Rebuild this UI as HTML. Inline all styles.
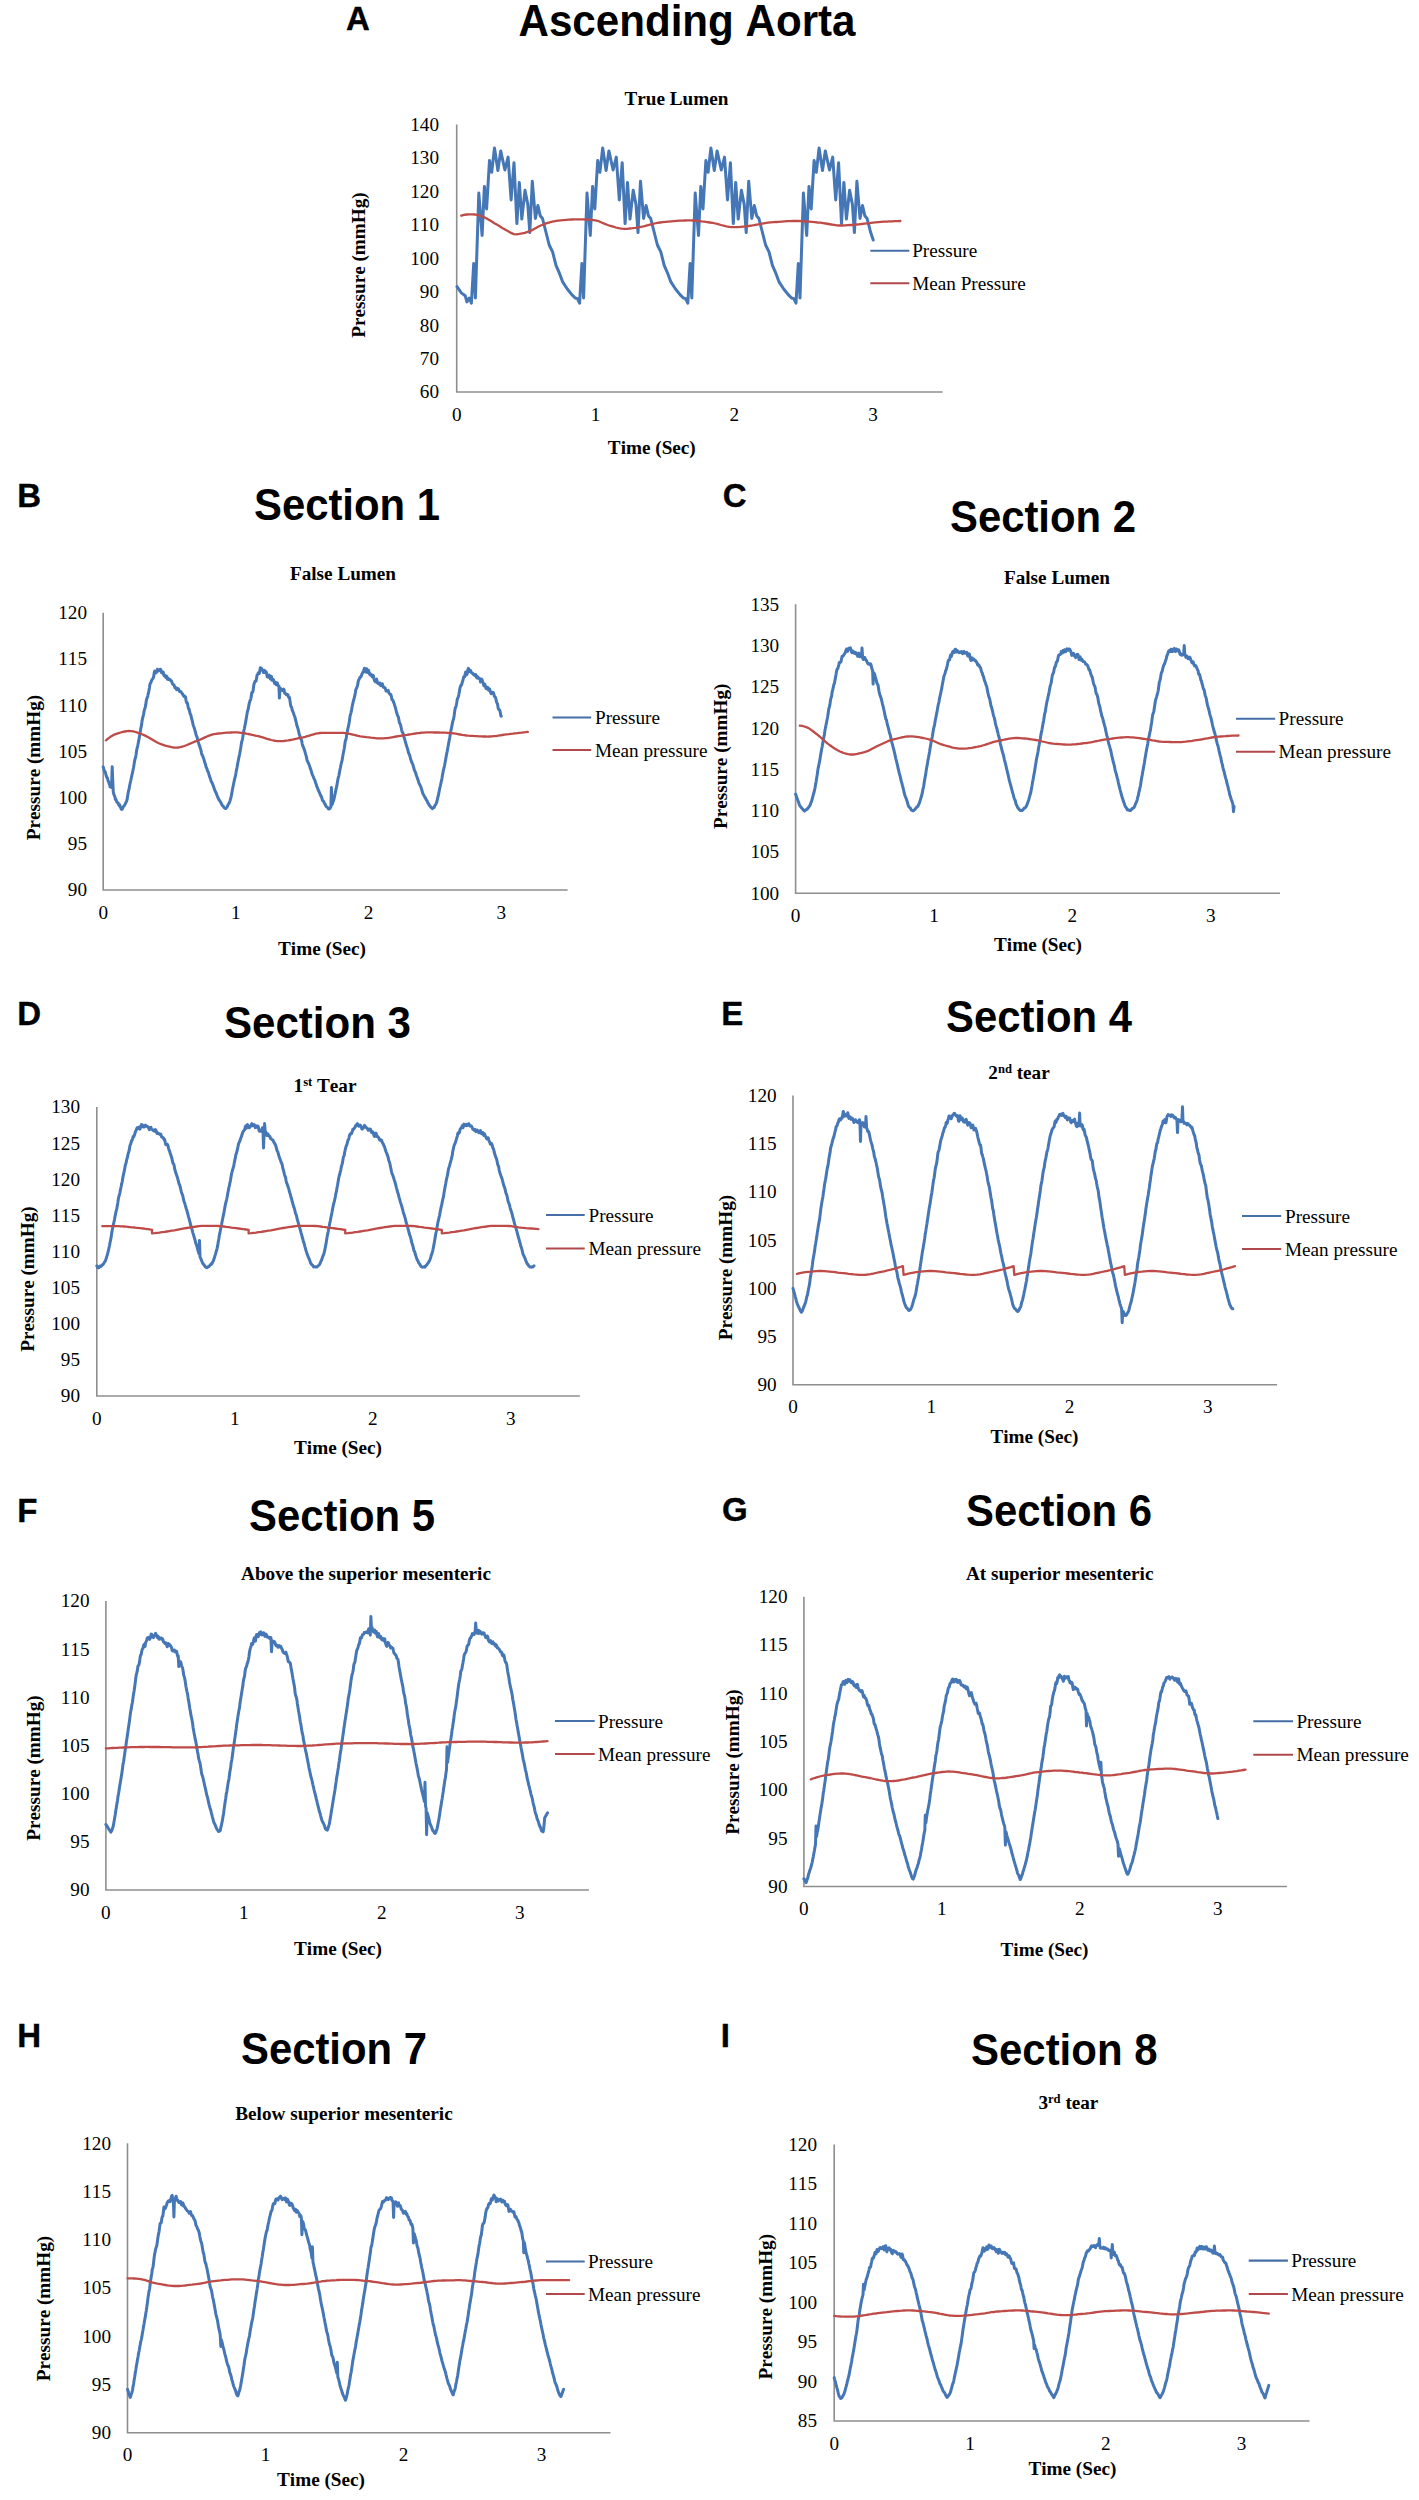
<!DOCTYPE html>
<html lang="en"><head><meta charset="utf-8"><title>Pressure waveforms</title>
<style>html,body{margin:0;padding:0;background:#fff}svg{display:block}text{font-kerning:none}</style></head>
<body><svg width="1419" height="2500" viewBox="0 0 1419 2500">
<rect width="1419" height="2500" fill="#ffffff"/>
<text x="345.9" y="29.5" font-family="'Liberation Sans', 'DejaVu Sans', sans-serif" font-size="33.00" text-anchor="start" font-weight="bold" stroke="#000" stroke-width="0.35">A</text>
<text x="518.5" y="35.5" font-family="'Liberation Sans', 'DejaVu Sans', sans-serif" font-size="44.00" text-anchor="start" font-weight="bold" textLength="337.0" lengthAdjust="spacingAndGlyphs">Ascending Aorta</text>
<text x="676.5" y="105.0" font-family="'Liberation Serif', 'DejaVu Serif', serif" font-size="19.20" text-anchor="middle" font-weight="bold">True Lumen</text>
<path d="M456.7 124.4 V392.0 H942.5" fill="none" stroke="#8e8e8e" stroke-width="1.6"/>
<text x="439.0" y="398.4" font-family="'Liberation Serif', 'DejaVu Serif', serif" font-size="19.20" text-anchor="end">60</text>
<text x="439.0" y="365.0" font-family="'Liberation Serif', 'DejaVu Serif', serif" font-size="19.20" text-anchor="end">70</text>
<text x="439.0" y="331.5" font-family="'Liberation Serif', 'DejaVu Serif', serif" font-size="19.20" text-anchor="end">80</text>
<text x="439.0" y="298.1" font-family="'Liberation Serif', 'DejaVu Serif', serif" font-size="19.20" text-anchor="end">90</text>
<text x="439.0" y="264.6" font-family="'Liberation Serif', 'DejaVu Serif', serif" font-size="19.20" text-anchor="end">100</text>
<text x="439.0" y="231.2" font-family="'Liberation Serif', 'DejaVu Serif', serif" font-size="19.20" text-anchor="end">110</text>
<text x="439.0" y="197.7" font-family="'Liberation Serif', 'DejaVu Serif', serif" font-size="19.20" text-anchor="end">120</text>
<text x="439.0" y="164.3" font-family="'Liberation Serif', 'DejaVu Serif', serif" font-size="19.20" text-anchor="end">130</text>
<text x="439.0" y="130.8" font-family="'Liberation Serif', 'DejaVu Serif', serif" font-size="19.20" text-anchor="end">140</text>
<text x="456.7" y="421.4" font-family="'Liberation Serif', 'DejaVu Serif', serif" font-size="19.20" text-anchor="middle">0</text>
<text x="595.5" y="421.4" font-family="'Liberation Serif', 'DejaVu Serif', serif" font-size="19.20" text-anchor="middle">1</text>
<text x="734.3" y="421.4" font-family="'Liberation Serif', 'DejaVu Serif', serif" font-size="19.20" text-anchor="middle">2</text>
<text x="873.1" y="421.4" font-family="'Liberation Serif', 'DejaVu Serif', serif" font-size="19.20" text-anchor="middle">3</text>
<text x="651.8" y="453.7" font-family="'Liberation Serif', 'DejaVu Serif', serif" font-size="19.20" text-anchor="middle" font-weight="bold">Time (Sec)</text>
<text transform="translate(365.0 265.0) rotate(-90)" font-family="'Liberation Serif', 'DejaVu Serif', serif" font-size="19.20" font-weight="bold" text-anchor="middle">Pressure (mmHg)</text>
<path d="M870.3 250.7 H909.3" stroke="#456fa6" stroke-width="2.1"/>
<path d="M870.3 283.3 H909.3" stroke="#b0484c" stroke-width="2.1"/>
<text x="912.2" y="257.2" font-family="'Liberation Serif', 'DejaVu Serif', serif" font-size="19.20" text-anchor="start">Pressure</text>
<text x="912.2" y="289.8" font-family="'Liberation Serif', 'DejaVu Serif', serif" font-size="19.20" text-anchor="start">Mean Pressure</text>
<path d="M457.0 286.7 L461.3 292.9 L465.2 295.7 L466.9 301.9 L469.2 298.0 L471.4 303.1 L473.7 263.6 L475.4 298.0 L478.8 193.1 L482.1 235.4 L484.4 186.4 L486.6 208.9 L489.5 160.4 L491.7 172.3 L494.5 148.0 L497.9 170.6 L500.7 150.9 L504.9 170.0 L508.1 157.1 L511.1 199.9 L514.0 162.7 L516.9 223.6 L519.3 182.4 L521.8 219.1 L525.0 190.3 L527.8 204.4 L529.8 232.6 L532.3 181.3 L535.4 218.5 L537.9 205.5 L540.2 215.7 L542.5 218.5 L545.8 231.5 L549.2 245.0 L552.6 251.8 L556.0 265.3 L559.4 273.2 L562.8 282.2 L567.3 289.0 L571.8 294.6 L575.2 298.0 L577.4 298.6 L579.6 303.1 L581.9 263.6 L583.6 298.0 L587.0 193.1 L590.3 235.4 L592.6 186.4 L594.8 208.9 L597.7 160.4 L599.9 172.3 L602.7 148.0 L606.1 170.6 L608.9 150.9 L613.1 170.0 L616.3 157.1 L619.3 199.9 L622.2 162.7 L625.1 223.6 L627.5 182.4 L630.0 219.1 L633.2 190.3 L636.0 204.4 L638.0 232.6 L640.5 181.3 L643.6 218.5 L646.1 205.5 L648.4 215.7 L650.7 218.5 L654.0 231.5 L657.4 245.0 L660.8 251.8 L664.2 265.3 L667.6 273.2 L671.0 282.2 L675.5 289.0 L680.0 294.6 L683.4 298.0 L685.6 298.6 L687.8 303.1 L690.1 263.6 L691.8 298.0 L695.2 193.1 L698.5 235.4 L700.8 186.4 L703.0 208.9 L705.9 160.4 L708.1 172.3 L710.9 148.0 L714.3 170.6 L717.1 150.9 L721.3 170.0 L724.5 157.1 L727.5 199.9 L730.4 162.7 L733.3 223.6 L735.7 182.4 L738.2 219.1 L741.4 190.3 L744.2 204.4 L746.2 232.6 L748.7 181.3 L751.8 218.5 L754.3 205.5 L756.6 215.7 L758.9 218.5 L762.2 231.5 L765.6 245.0 L769.0 251.8 L772.4 265.3 L775.8 273.2 L779.2 282.2 L783.7 289.0 L788.2 294.6 L791.6 298.0 L793.8 298.6 L796.0 303.1 L798.3 263.6 L800.0 298.0 L803.4 193.1 L806.7 235.4 L809.0 186.4 L811.2 208.9 L814.1 160.4 L816.3 172.3 L819.1 148.0 L822.5 170.6 L825.3 150.9 L829.5 170.0 L832.7 157.1 L835.7 199.9 L838.6 162.7 L841.5 223.6 L843.9 182.4 L846.4 219.1 L849.6 190.3 L852.4 204.4 L854.4 232.6 L856.9 181.3 L860.0 218.5 L862.5 205.5 L864.8 215.7 L867.1 218.5 L870.4 231.5 L873.2 240.0" fill="none" stroke="#4577b6" stroke-width="3.00" stroke-linejoin="round" stroke-linecap="round"/>
<path d="M461.3 215.7 L464.1 214.9 L466.8 214.5 L469.6 214.4 L472.3 214.3 L475.1 214.5 L477.9 215.2 L480.6 216.0 L483.4 216.9 L486.2 218.3 L488.9 219.8 L491.7 221.5 L494.4 223.2 L497.2 224.8 L500.0 226.5 L502.7 228.2 L505.5 229.8 L508.2 231.3 L511.0 232.9 L513.8 234.1 L516.5 234.3 L519.3 233.9 L522.1 233.4 L524.8 232.8 L527.6 231.9 L530.3 230.9 L533.1 229.6 L535.9 228.0 L538.6 226.5 L541.4 225.3 L544.1 224.2 L546.9 223.2 L549.7 222.3 L552.4 221.7 L555.2 221.2 L558.0 220.7 L560.7 220.4 L563.5 220.1 L566.2 219.9 L569.0 219.7 L571.8 219.5 L574.5 219.4 L577.3 219.3 L580.1 219.3 L582.8 219.4 L585.6 219.5 L588.3 219.7 L591.1 219.9 L593.9 220.2 L596.6 220.6 L599.4 221.5 L602.1 222.7 L604.9 223.9 L607.7 225.0 L610.4 225.9 L613.2 226.7 L616.0 227.5 L618.7 228.2 L621.5 228.7 L624.2 228.9 L627.0 228.8 L629.8 228.5 L632.5 228.2 L635.3 227.8 L638.0 227.3 L640.8 226.9 L643.6 226.3 L646.3 225.6 L649.1 224.9 L651.9 224.2 L654.6 223.5 L657.4 222.9 L660.1 222.5 L662.9 222.2 L665.7 221.9 L668.4 221.6 L671.2 221.3 L673.9 221.1 L676.7 220.9 L679.5 220.7 L682.2 220.6 L685.0 220.5 L687.8 220.4 L690.5 220.4 L693.3 220.5 L696.0 220.7 L698.8 221.0 L701.6 221.4 L704.3 221.7 L707.1 222.1 L709.8 222.5 L712.6 222.9 L715.4 223.5 L718.1 224.2 L720.9 225.0 L723.7 225.7 L726.4 226.3 L729.2 226.8 L731.9 227.1 L734.7 227.2 L737.5 227.1 L740.2 226.9 L743.0 226.6 L745.7 226.3 L748.5 226.0 L751.3 225.6 L754.0 225.2 L756.8 224.7 L759.6 224.2 L762.3 223.6 L765.1 223.1 L767.8 222.7 L770.6 222.4 L773.4 222.2 L776.1 222.0 L778.9 221.8 L781.6 221.6 L784.4 221.4 L787.2 221.2 L789.9 221.1 L792.7 221.0 L795.5 221.0 L798.2 221.0 L801.0 221.1 L803.7 221.3 L806.5 221.5 L809.3 221.7 L812.0 221.9 L814.8 222.2 L817.6 222.5 L820.3 222.7 L823.1 223.1 L825.8 223.5 L828.6 224.0 L831.4 224.5 L834.1 224.9 L836.9 225.3 L839.6 225.5 L842.4 225.5 L845.2 225.4 L847.9 225.2 L850.7 225.0 L853.5 224.8 L856.2 224.5 L859.0 224.3 L861.7 224.0 L864.5 223.7 L867.3 223.4 L870.0 223.1 L872.8 222.7 L875.5 222.4 L878.3 222.1 L881.1 221.9 L883.8 221.7 L886.6 221.6 L889.4 221.4 L892.1 221.3 L894.9 221.2 L897.6 221.1 L900.4 221.0" fill="none" stroke="#be4b48" stroke-width="2.30" stroke-linejoin="round" stroke-linecap="round"/>
<text x="17.2" y="506.8" font-family="'Liberation Sans', 'DejaVu Sans', sans-serif" font-size="33.00" text-anchor="start" font-weight="bold" stroke="#000" stroke-width="0.35">B</text>
<text x="254.0" y="520.0" font-family="'Liberation Sans', 'DejaVu Sans', sans-serif" font-size="44.00" text-anchor="start" font-weight="bold" textLength="186.0" lengthAdjust="spacingAndGlyphs">Section 1</text>
<text x="343.0" y="580.0" font-family="'Liberation Serif', 'DejaVu Serif', serif" font-size="19.20" text-anchor="middle" font-weight="bold">False Lumen</text>
<path d="M103.2 612.7 V890.0 H567.6" fill="none" stroke="#8e8e8e" stroke-width="1.6"/>
<text x="87.0" y="896.4" font-family="'Liberation Serif', 'DejaVu Serif', serif" font-size="19.20" text-anchor="end">90</text>
<text x="87.0" y="850.2" font-family="'Liberation Serif', 'DejaVu Serif', serif" font-size="19.20" text-anchor="end">95</text>
<text x="87.0" y="804.0" font-family="'Liberation Serif', 'DejaVu Serif', serif" font-size="19.20" text-anchor="end">100</text>
<text x="87.0" y="757.8" font-family="'Liberation Serif', 'DejaVu Serif', serif" font-size="19.20" text-anchor="end">105</text>
<text x="87.0" y="711.6" font-family="'Liberation Serif', 'DejaVu Serif', serif" font-size="19.20" text-anchor="end">110</text>
<text x="87.0" y="665.3" font-family="'Liberation Serif', 'DejaVu Serif', serif" font-size="19.20" text-anchor="end">115</text>
<text x="87.0" y="619.1" font-family="'Liberation Serif', 'DejaVu Serif', serif" font-size="19.20" text-anchor="end">120</text>
<text x="103.2" y="918.9" font-family="'Liberation Serif', 'DejaVu Serif', serif" font-size="19.20" text-anchor="middle">0</text>
<text x="235.9" y="918.9" font-family="'Liberation Serif', 'DejaVu Serif', serif" font-size="19.20" text-anchor="middle">1</text>
<text x="368.6" y="918.9" font-family="'Liberation Serif', 'DejaVu Serif', serif" font-size="19.20" text-anchor="middle">2</text>
<text x="501.3" y="918.9" font-family="'Liberation Serif', 'DejaVu Serif', serif" font-size="19.20" text-anchor="middle">3</text>
<text x="322.0" y="955.0" font-family="'Liberation Serif', 'DejaVu Serif', serif" font-size="19.20" text-anchor="middle" font-weight="bold">Time (Sec)</text>
<text transform="translate(40.0 767.5) rotate(-90)" font-family="'Liberation Serif', 'DejaVu Serif', serif" font-size="19.20" font-weight="bold" text-anchor="middle">Pressure (mmHg)</text>
<path d="M552.5 717.5 H591.2" stroke="#456fa6" stroke-width="2.1"/>
<path d="M552.5 750.0 H591.2" stroke="#b0484c" stroke-width="2.1"/>
<text x="595.0" y="724.0" font-family="'Liberation Serif', 'DejaVu Serif', serif" font-size="19.20" text-anchor="start">Pressure</text>
<text x="595.0" y="756.5" font-family="'Liberation Serif', 'DejaVu Serif', serif" font-size="19.20" text-anchor="start">Mean pressure</text>
<path d="M103.2 766.9 L103.7 768.7 L104.3 770.8 L104.8 772.2 L105.3 771.9 L105.9 774.7 L106.4 776.3 L106.9 777.8 L107.4 777.7 L108.0 780.8 L108.5 781.4 L109.0 783.1 L109.6 784.6 L110.1 786.8 L110.6 786.9 L111.2 787.4 L111.7 781.6 L112.2 766.8 L112.8 781.9 L113.3 792.2 L113.8 794.1 L114.3 795.4 L114.9 796.8 L115.4 799.4 L115.9 799.2 L116.5 801.1 L117.0 802.1 L117.5 802.6 L118.1 802.8 L118.6 804.2 L119.1 805.6 L119.7 804.8 L120.2 806.8 L120.7 807.7 L121.2 809.1 L121.8 809.4 L122.3 809.0 L122.8 807.9 L123.4 806.5 L123.9 806.2 L124.4 805.5 L125.0 804.4 L125.5 803.4 L126.0 802.3 L126.6 801.2 L127.1 799.5 L127.6 796.6 L128.1 793.0 L128.7 790.4 L129.2 788.4 L129.7 785.3 L130.3 782.5 L130.8 780.5 L131.3 778.0 L131.9 775.4 L132.4 773.0 L132.9 770.7 L133.5 767.8 L134.0 764.7 L134.5 761.8 L135.0 759.1 L135.6 757.3 L136.1 754.5 L136.6 750.5 L137.2 747.8 L137.7 745.8 L138.2 743.2 L138.8 740.4 L139.3 737.2 L139.8 734.5 L140.4 731.0 L140.9 727.8 L141.4 725.7 L141.9 722.1 L142.5 718.7 L143.0 716.7 L143.5 714.6 L144.1 711.4 L144.6 709.1 L145.1 707.9 L145.7 705.1 L146.2 701.1 L146.7 698.9 L147.3 697.7 L147.8 695.8 L148.3 693.4 L148.8 691.3 L149.4 687.9 L149.9 684.5 L150.4 683.2 L151.0 682.3 L151.5 680.7 L152.0 679.7 L152.6 678.9 L153.1 678.2 L153.6 676.9 L154.2 673.1 L154.7 671.1 L155.2 672.6 L155.7 673.0 L156.3 672.6 L156.8 671.0 L157.3 669.3 L157.9 671.1 L158.4 671.1 L158.9 670.4 L159.5 669.7 L160.0 669.3 L160.5 669.3 L161.1 670.4 L161.6 672.8 L162.1 672.5 L162.6 671.8 L163.2 672.1 L163.7 674.8 L164.2 675.8 L164.8 675.2 L165.3 676.3 L165.8 677.5 L166.4 676.1 L166.9 676.5 L167.4 679.3 L168.0 678.9 L168.5 678.5 L169.0 679.6 L169.6 679.6 L170.1 679.6 L170.6 680.5 L171.1 680.7 L171.7 681.3 L172.2 683.1 L172.7 684.2 L173.3 684.6 L173.8 684.7 L174.3 685.7 L174.9 687.8 L175.4 687.4 L175.9 687.6 L176.5 689.7 L177.0 688.8 L177.5 688.4 L178.0 688.7 L178.6 689.0 L179.1 690.7 L179.6 691.6 L180.2 691.7 L180.7 691.5 L181.2 692.2 L181.8 692.8 L182.3 693.9 L182.8 694.4 L183.4 695.4 L183.9 696.5 L184.4 695.9 L184.9 696.4 L185.5 697.1 L186.0 700.3 L186.5 702.5 L187.1 702.5 L187.6 704.1 L188.1 707.0 L188.7 709.0 L189.2 709.2 L189.7 711.9 L190.3 714.3 L190.8 714.7 L191.3 717.1 L191.8 719.3 L192.4 721.3 L192.9 723.9 L193.4 725.7 L194.0 727.2 L194.5 728.9 L195.0 730.5 L195.6 732.7 L196.1 735.0 L196.6 736.1 L197.2 737.6 L197.7 740.2 L198.2 741.9 L198.7 743.4 L199.3 745.2 L199.8 746.6 L200.3 748.1 L200.9 749.9 L201.4 752.6 L201.9 754.7 L202.5 755.5 L203.0 756.8 L203.5 758.3 L204.1 759.8 L204.6 762.0 L205.1 763.3 L205.6 764.9 L206.2 767.4 L206.7 768.1 L207.2 769.6 L207.8 771.5 L208.3 772.2 L208.8 773.9 L209.4 776.1 L209.9 777.3 L210.4 778.7 L211.0 780.8 L211.5 781.9 L212.0 782.7 L212.5 783.9 L213.1 785.3 L213.6 786.8 L214.1 788.4 L214.7 789.9 L215.2 791.3 L215.7 792.1 L216.3 793.4 L216.8 794.7 L217.3 796.1 L217.9 797.6 L218.4 798.5 L218.9 799.5 L219.4 800.4 L220.0 801.2 L220.5 801.8 L221.0 802.8 L221.6 804.1 L222.1 805.2 L222.6 805.8 L223.2 806.1 L223.7 807.0 L224.2 807.8 L224.8 807.9 L225.3 808.5 L225.8 808.6 L226.3 807.9 L226.9 807.1 L227.4 806.4 L227.9 805.2 L228.5 804.0 L229.0 803.3 L229.5 802.5 L230.1 800.6 L230.6 798.5 L231.1 796.8 L231.7 793.9 L232.2 790.7 L232.7 788.2 L233.2 785.8 L233.8 783.0 L234.3 780.4 L234.8 778.3 L235.4 775.9 L235.9 773.3 L236.4 770.3 L237.0 767.6 L237.5 764.7 L238.0 761.9 L238.6 759.0 L239.1 756.4 L239.6 754.3 L240.1 751.4 L240.7 748.0 L241.2 744.7 L241.7 741.7 L242.3 739.9 L242.8 737.3 L243.3 733.2 L243.9 730.5 L244.4 728.5 L244.9 725.7 L245.5 722.9 L246.0 720.0 L246.5 717.0 L247.0 713.9 L247.6 711.0 L248.1 709.5 L248.6 706.9 L249.2 703.5 L249.7 701.8 L250.2 700.3 L250.8 699.1 L251.3 696.0 L251.8 692.6 L252.4 692.6 L252.9 691.5 L253.4 688.2 L253.9 684.5 L254.5 682.7 L255.0 681.4 L255.5 680.8 L256.1 681.0 L256.6 677.9 L257.1 675.0 L257.7 674.7 L258.2 672.9 L258.7 672.8 L259.3 673.5 L259.8 670.7 L260.3 667.7 L260.8 668.2 L261.4 668.3 L261.9 669.0 L262.4 670.5 L263.0 670.4 L263.5 672.6 L264.0 672.5 L264.6 670.4 L265.1 671.3 L265.6 672.8 L266.2 671.8 L266.7 673.5 L267.2 676.8 L267.7 676.8 L268.3 677.1 L268.8 675.8 L269.3 675.1 L269.9 677.6 L270.4 679.0 L270.9 676.2 L271.5 676.7 L272.0 680.3 L272.5 680.1 L273.1 679.4 L273.6 680.0 L274.1 681.8 L274.6 683.5 L275.2 682.8 L275.7 682.4 L276.2 684.7 L276.8 684.3 L277.3 682.9 L277.8 684.6 L278.4 685.9 L278.9 686.1 L279.4 698.1 L280.0 688.7 L280.5 688.4 L281.0 689.0 L281.5 689.4 L282.1 689.8 L282.6 690.6 L283.1 690.1 L283.7 689.2 L284.2 690.4 L284.7 693.2 L285.3 693.5 L285.8 693.9 L286.3 694.6 L286.9 694.3 L287.4 694.3 L287.9 694.7 L288.4 696.9 L289.0 697.7 L289.5 697.6 L290.0 700.9 L290.6 705.1 L291.1 706.7 L291.6 707.0 L292.2 710.0 L292.7 711.6 L293.2 712.2 L293.8 714.3 L294.3 715.6 L294.8 716.6 L295.3 719.0 L295.9 721.2 L296.4 723.2 L296.9 725.6 L297.5 727.3 L298.0 728.7 L298.5 730.8 L299.1 733.8 L299.6 735.2 L300.1 736.8 L300.7 738.7 L301.2 739.2 L301.7 741.0 L302.2 743.8 L302.8 746.1 L303.3 747.0 L303.8 748.2 L304.4 750.1 L304.9 751.5 L305.4 753.4 L306.0 755.4 L306.5 757.4 L307.0 759.9 L307.6 761.6 L308.1 762.3 L308.6 763.5 L309.2 764.9 L309.7 766.4 L310.2 768.1 L310.7 769.3 L311.3 771.2 L311.8 773.0 L312.3 774.7 L312.9 775.9 L313.4 776.9 L313.9 778.5 L314.5 779.5 L315.0 780.7 L315.5 782.6 L316.1 784.0 L316.6 785.8 L317.1 787.2 L317.6 788.1 L318.2 790.0 L318.7 791.0 L319.2 792.0 L319.8 793.5 L320.3 794.7 L320.8 795.9 L321.4 796.6 L321.9 798.2 L322.4 800.1 L323.0 801.0 L323.5 801.3 L324.0 802.2 L324.5 803.5 L325.1 804.1 L325.6 805.4 L326.1 806.5 L326.7 806.8 L327.2 807.2 L327.7 807.7 L328.3 808.6 L328.8 809.1 L329.3 809.0 L329.9 808.4 L330.4 807.6 L330.9 806.9 L331.4 787.5 L332.0 804.6 L332.5 803.3 L333.0 802.1 L333.6 800.3 L334.1 798.6 L334.6 796.3 L335.2 793.4 L335.7 790.9 L336.2 788.4 L336.8 785.9 L337.3 783.0 L337.8 779.7 L338.3 777.7 L338.9 775.6 L339.4 772.8 L339.9 770.1 L340.5 767.2 L341.0 764.4 L341.5 762.6 L342.1 760.4 L342.6 757.1 L343.1 754.2 L343.7 751.3 L344.2 748.7 L344.7 745.3 L345.2 741.5 L345.8 739.9 L346.3 737.9 L346.8 733.9 L347.4 731.0 L347.9 728.5 L348.4 726.3 L349.0 723.9 L349.5 720.2 L350.0 716.5 L350.6 714.0 L351.1 712.3 L351.6 709.8 L352.1 706.9 L352.7 704.2 L353.2 701.6 L353.7 700.0 L354.3 697.6 L354.8 695.7 L355.3 693.1 L355.9 689.2 L356.4 688.6 L356.9 687.3 L357.5 685.4 L358.0 683.2 L358.5 680.1 L359.0 679.7 L359.6 678.2 L360.1 677.0 L360.6 677.2 L361.2 676.2 L361.7 674.7 L362.2 673.6 L362.8 672.4 L363.3 671.7 L363.8 670.4 L364.4 668.3 L364.9 669.5 L365.4 672.0 L365.9 671.0 L366.5 668.7 L367.0 669.9 L367.5 672.6 L368.1 672.6 L368.6 670.3 L369.1 672.9 L369.7 674.4 L370.2 673.5 L370.7 675.3 L371.3 675.1 L371.8 676.1 L372.3 676.9 L372.8 675.1 L373.4 675.8 L373.9 678.3 L374.4 680.5 L375.0 681.3 L375.5 681.9 L376.0 679.9 L376.6 679.0 L377.1 681.8 L377.6 683.2 L378.2 683.7 L378.7 683.4 L379.2 684.2 L379.7 683.1 L380.3 683.2 L380.8 685.7 L381.3 685.4 L381.9 684.2 L382.4 683.9 L382.9 686.0 L383.5 687.3 L384.0 687.3 L384.5 687.6 L385.1 688.0 L385.6 689.5 L386.1 691.1 L386.6 690.7 L387.2 691.1 L387.7 690.8 L388.2 690.4 L388.8 692.7 L389.3 693.6 L389.8 694.0 L390.4 694.6 L390.9 694.6 L391.4 696.6 L392.0 699.7 L392.5 699.9 L393.0 700.3 L393.5 702.0 L394.1 703.3 L394.6 705.2 L395.1 706.7 L395.7 708.8 L396.2 710.9 L396.7 712.5 L397.3 714.8 L397.8 715.8 L398.3 716.8 L398.9 719.9 L399.4 722.5 L399.9 723.4 L400.4 724.4 L401.0 726.8 L401.5 729.3 L402.0 731.5 L402.6 732.3 L403.1 733.4 L403.6 735.9 L404.2 737.6 L404.7 739.3 L405.2 741.1 L405.8 743.3 L406.3 745.0 L406.8 746.6 L407.3 748.1 L407.9 750.1 L408.4 752.4 L408.9 753.6 L409.5 754.7 L410.0 756.5 L410.5 758.8 L411.1 760.5 L411.6 762.0 L412.1 763.0 L412.7 764.1 L413.2 765.9 L413.7 767.6 L414.2 769.7 L414.8 771.0 L415.3 771.9 L415.8 773.5 L416.4 775.5 L416.9 776.8 L417.4 778.4 L418.0 779.9 L418.5 781.4 L419.0 783.3 L419.6 784.4 L420.1 785.3 L420.6 786.3 L421.1 787.8 L421.7 789.6 L422.2 791.2 L422.7 793.1 L423.3 794.5 L423.8 795.2 L424.3 796.2 L424.9 797.2 L425.4 797.7 L425.9 799.2 L426.5 800.1 L427.0 800.9 L427.5 802.0 L428.0 803.0 L428.6 803.8 L429.1 804.8 L429.6 805.6 L430.2 806.2 L430.7 807.1 L431.2 807.4 L431.8 807.9 L432.3 808.6 L432.8 808.3 L433.4 807.6 L433.9 807.6 L434.4 806.9 L434.9 805.4 L435.5 804.8 L436.0 803.8 L436.5 802.7 L437.1 800.7 L437.6 798.4 L438.1 796.5 L438.7 793.6 L439.2 791.0 L439.7 788.5 L440.3 786.1 L440.8 783.8 L441.3 781.4 L441.9 778.8 L442.4 775.6 L442.9 772.9 L443.4 770.2 L444.0 767.9 L444.5 765.8 L445.0 762.9 L445.6 759.7 L446.1 756.7 L446.6 754.1 L447.2 751.2 L447.7 748.4 L448.2 745.8 L448.8 742.4 L449.3 739.7 L449.8 737.3 L450.3 733.6 L450.9 730.8 L451.4 728.4 L451.9 725.9 L452.5 722.6 L453.0 720.5 L453.5 719.3 L454.1 716.0 L454.6 712.0 L455.1 708.6 L455.7 707.1 L456.2 705.6 L456.7 702.9 L457.2 699.6 L457.8 698.0 L458.3 696.7 L458.8 694.8 L459.4 691.5 L459.9 688.4 L460.4 686.6 L461.0 685.1 L461.5 685.0 L462.0 683.3 L462.6 681.2 L463.1 679.8 L463.6 677.1 L464.1 676.5 L464.7 676.7 L465.2 674.1 L465.7 671.9 L466.3 672.5 L466.8 674.8 L467.3 673.5 L467.9 669.5 L468.4 668.3 L468.9 669.7 L469.5 671.6 L470.0 671.6 L470.5 670.4 L471.0 671.5 L471.6 672.9 L472.1 673.1 L472.6 673.2 L473.2 674.3 L473.7 674.8 L474.2 674.4 L474.8 675.5 L475.3 675.2 L475.8 674.5 L476.4 677.1 L476.9 677.8 L477.4 676.4 L477.9 678.1 L478.5 677.8 L479.0 677.9 L479.5 678.5 L480.1 679.7 L480.6 682.1 L481.1 681.1 L481.7 679.1 L482.2 680.2 L482.7 681.8 L483.3 683.3 L483.8 685.6 L484.3 685.9 L484.8 684.3 L485.4 686.1 L485.9 688.2 L486.4 688.8 L487.0 688.8 L487.5 687.2 L488.0 688.7 L488.6 690.1 L489.1 688.7 L489.6 688.9 L490.2 691.3 L490.7 692.6 L491.2 693.7 L491.7 692.7 L492.3 692.4 L492.8 692.9 L493.3 692.5 L493.9 694.5 L494.4 696.5 L494.9 696.6 L495.5 697.5 L496.0 699.3 L496.5 701.9 L497.1 703.1 L497.6 704.3 L498.1 707.9 L498.6 709.4 L499.2 709.7 L499.7 710.0 L500.2 712.1 L500.8 715.6 L501.3 716.2" fill="none" stroke="#4577b6" stroke-width="3.00" stroke-linejoin="round" stroke-linecap="round"/>
<path d="M105.9 740.3 L108.0 738.6 L110.1 737.1 L112.2 735.8 L114.3 734.6 L116.5 733.8 L118.6 733.1 L120.7 732.5 L122.8 731.9 L124.9 731.5 L127.1 731.2 L129.2 731.0 L131.3 731.1 L133.4 731.4 L135.5 732.0 L137.7 732.7 L139.8 733.5 L141.9 734.3 L144.0 735.1 L146.1 736.1 L148.3 737.2 L150.4 738.4 L152.5 739.7 L154.6 741.0 L156.7 742.2 L158.9 743.3 L161.0 744.2 L163.1 744.9 L165.2 745.6 L167.3 746.2 L169.5 746.7 L171.6 747.2 L173.7 747.5 L175.8 747.6 L178.0 747.6 L180.1 747.2 L182.2 746.7 L184.3 746.0 L186.4 745.2 L188.6 744.3 L190.7 743.4 L192.8 742.5 L194.9 741.6 L197.0 740.8 L199.2 740.0 L201.3 739.1 L203.4 738.1 L205.5 737.1 L207.6 736.2 L209.8 735.4 L211.9 734.7 L214.0 734.1 L216.1 733.8 L218.2 733.5 L220.4 733.3 L222.5 733.1 L224.6 732.9 L226.7 732.7 L228.8 732.6 L231.0 732.5 L233.1 732.4 L235.2 732.4 L237.3 732.4 L239.4 732.6 L241.6 732.8 L243.7 733.1 L245.8 733.5 L247.9 734.0 L250.1 734.4 L252.2 734.9 L254.3 735.3 L256.4 735.8 L258.5 736.2 L260.7 736.8 L262.8 737.4 L264.9 738.1 L267.0 738.8 L269.1 739.4 L271.3 740.0 L273.4 740.5 L275.5 740.8 L277.6 741.1 L279.7 741.2 L281.9 741.1 L284.0 741.0 L286.1 740.7 L288.2 740.4 L290.3 740.0 L292.5 739.6 L294.6 739.1 L296.7 738.7 L298.8 738.2 L300.9 737.7 L303.1 737.3 L305.2 736.8 L307.3 736.2 L309.4 735.6 L311.5 734.9 L313.7 734.3 L315.8 733.7 L317.9 733.3 L320.0 733.0 L322.1 732.9 L324.3 732.9 L326.4 732.9 L328.5 732.9 L330.6 732.9 L332.8 732.9 L334.9 732.9 L337.0 732.9 L339.1 732.9 L341.2 732.9 L343.4 732.9 L345.5 733.1 L347.6 733.4 L349.7 733.9 L351.8 734.4 L354.0 734.9 L356.1 735.4 L358.2 735.9 L360.3 736.3 L362.4 736.6 L364.6 736.9 L366.7 737.2 L368.8 737.4 L370.9 737.7 L373.0 737.9 L375.2 738.1 L377.3 738.3 L379.4 738.4 L381.5 738.4 L383.6 738.4 L385.8 738.2 L387.9 738.0 L390.0 737.7 L392.1 737.3 L394.2 736.9 L396.4 736.5 L398.5 736.1 L400.6 735.8 L402.7 735.5 L404.8 735.2 L407.0 734.9 L409.1 734.5 L411.2 734.2 L413.3 733.8 L415.5 733.5 L417.6 733.2 L419.7 733.0 L421.8 732.7 L423.9 732.6 L426.1 732.4 L428.2 732.4 L430.3 732.4 L432.4 732.4 L434.5 732.5 L436.7 732.5 L438.8 732.5 L440.9 732.6 L443.0 732.7 L445.1 732.7 L447.3 732.8 L449.4 732.9 L451.5 733.1 L453.6 733.4 L455.7 733.7 L457.9 734.1 L460.0 734.5 L462.1 734.9 L464.2 735.2 L466.3 735.5 L468.5 735.7 L470.6 735.8 L472.7 735.9 L474.8 736.1 L476.9 736.2 L479.1 736.3 L481.2 736.4 L483.3 736.5 L485.4 736.5 L487.5 736.6 L489.7 736.5 L491.8 736.4 L493.9 736.2 L496.0 736.0 L498.2 735.7 L500.3 735.3 L502.4 735.0 L504.5 734.7 L506.6 734.4 L508.8 734.2 L510.9 733.9 L513.0 733.7 L515.1 733.4 L517.2 733.2 L519.4 732.9 L521.5 732.7 L523.6 732.4 L525.7 732.2 L527.8 731.9" fill="none" stroke="#be4b48" stroke-width="2.30" stroke-linejoin="round" stroke-linecap="round"/>
<text x="722.7" y="507.3" font-family="'Liberation Sans', 'DejaVu Sans', sans-serif" font-size="33.00" text-anchor="start" font-weight="bold" stroke="#000" stroke-width="0.35">C</text>
<text x="950.0" y="531.8" font-family="'Liberation Sans', 'DejaVu Sans', sans-serif" font-size="44.00" text-anchor="start" font-weight="bold" textLength="186.0" lengthAdjust="spacingAndGlyphs">Section 2</text>
<text x="1057.0" y="583.5" font-family="'Liberation Serif', 'DejaVu Serif', serif" font-size="19.20" text-anchor="middle" font-weight="bold">False Lumen</text>
<path d="M795.6 604.3 V893.2 H1280.0" fill="none" stroke="#8e8e8e" stroke-width="1.6"/>
<text x="779.2" y="899.6" font-family="'Liberation Serif', 'DejaVu Serif', serif" font-size="19.20" text-anchor="end">100</text>
<text x="779.2" y="858.4" font-family="'Liberation Serif', 'DejaVu Serif', serif" font-size="19.20" text-anchor="end">105</text>
<text x="779.2" y="817.1" font-family="'Liberation Serif', 'DejaVu Serif', serif" font-size="19.20" text-anchor="end">110</text>
<text x="779.2" y="775.8" font-family="'Liberation Serif', 'DejaVu Serif', serif" font-size="19.20" text-anchor="end">115</text>
<text x="779.2" y="734.5" font-family="'Liberation Serif', 'DejaVu Serif', serif" font-size="19.20" text-anchor="end">120</text>
<text x="779.2" y="693.3" font-family="'Liberation Serif', 'DejaVu Serif', serif" font-size="19.20" text-anchor="end">125</text>
<text x="779.2" y="652.0" font-family="'Liberation Serif', 'DejaVu Serif', serif" font-size="19.20" text-anchor="end">130</text>
<text x="779.2" y="610.7" font-family="'Liberation Serif', 'DejaVu Serif', serif" font-size="19.20" text-anchor="end">135</text>
<text x="795.6" y="922.4" font-family="'Liberation Serif', 'DejaVu Serif', serif" font-size="19.20" text-anchor="middle">0</text>
<text x="934.0" y="922.4" font-family="'Liberation Serif', 'DejaVu Serif', serif" font-size="19.20" text-anchor="middle">1</text>
<text x="1072.4" y="922.4" font-family="'Liberation Serif', 'DejaVu Serif', serif" font-size="19.20" text-anchor="middle">2</text>
<text x="1210.8" y="922.4" font-family="'Liberation Serif', 'DejaVu Serif', serif" font-size="19.20" text-anchor="middle">3</text>
<text x="1038.0" y="951.3" font-family="'Liberation Serif', 'DejaVu Serif', serif" font-size="19.20" text-anchor="middle" font-weight="bold">Time (Sec)</text>
<text transform="translate(726.5 756.3) rotate(-90)" font-family="'Liberation Serif', 'DejaVu Serif', serif" font-size="19.20" font-weight="bold" text-anchor="middle">Pressure (mmHg)</text>
<path d="M1236.0 718.8 H1275.2" stroke="#456fa6" stroke-width="2.1"/>
<path d="M1236.0 751.7 H1275.2" stroke="#b0484c" stroke-width="2.1"/>
<text x="1278.6" y="725.3" font-family="'Liberation Serif', 'DejaVu Serif', serif" font-size="19.20" text-anchor="start">Pressure</text>
<text x="1278.6" y="758.2" font-family="'Liberation Serif', 'DejaVu Serif', serif" font-size="19.20" text-anchor="start">Mean pressure</text>
<path d="M795.6 794.1 L796.2 795.7 L796.7 797.2 L797.3 798.8 L797.8 800.3 L798.4 801.9 L798.9 803.4 L799.5 804.9 L800.0 806.0 L800.6 806.7 L801.1 807.4 L801.7 808.0 L802.2 808.7 L802.8 809.3 L803.4 810.0 L803.9 810.7 L804.5 811.1 L805.0 810.7 L805.6 810.0 L806.1 809.7 L806.7 809.4 L807.2 809.1 L807.8 808.5 L808.3 807.6 L808.9 806.9 L809.4 806.2 L810.0 805.3 L810.5 803.9 L811.1 802.3 L811.7 800.9 L812.2 799.0 L812.8 796.7 L813.3 794.7 L813.9 792.8 L814.4 790.6 L815.0 788.0 L815.5 784.7 L816.1 781.7 L816.6 778.6 L817.2 774.8 L817.7 771.0 L818.3 767.6 L818.9 764.8 L819.4 762.2 L820.0 759.1 L820.5 755.6 L821.1 752.4 L821.6 749.4 L822.2 746.6 L822.7 743.6 L823.3 740.1 L823.8 737.3 L824.4 734.6 L824.9 730.7 L825.5 727.5 L826.0 725.1 L826.6 722.0 L827.2 719.1 L827.7 716.3 L828.3 712.4 L828.8 708.6 L829.4 707.0 L829.9 704.6 L830.5 700.2 L831.0 698.0 L831.6 696.0 L832.1 692.2 L832.7 689.8 L833.2 687.6 L833.8 684.7 L834.4 683.4 L834.9 680.7 L835.5 677.3 L836.0 674.7 L836.6 671.1 L837.1 669.2 L837.7 668.9 L838.2 667.1 L838.8 664.9 L839.3 662.7 L839.9 662.2 L840.4 662.4 L841.0 661.6 L841.5 659.0 L842.1 656.3 L842.7 656.3 L843.2 655.9 L843.8 654.9 L844.3 654.2 L844.9 653.3 L845.4 652.2 L846.0 650.2 L846.5 649.0 L847.1 650.7 L847.6 651.3 L848.2 649.3 L848.7 648.3 L849.3 649.0 L849.9 648.8 L850.4 647.8 L851.0 649.7 L851.5 652.0 L852.1 652.7 L852.6 652.0 L853.2 651.2 L853.7 652.6 L854.3 653.3 L854.8 652.6 L855.4 652.4 L855.9 653.9 L856.5 653.1 L857.0 653.9 L857.6 656.3 L858.2 653.6 L858.7 653.2 L859.3 656.2 L859.8 656.8 L860.4 656.8 L860.9 655.9 L861.5 655.6 L862.0 647.9 L862.6 657.4 L863.1 659.4 L863.7 659.4 L864.2 657.5 L864.8 657.4 L865.4 659.2 L865.9 659.9 L866.5 660.6 L867.0 661.9 L867.6 663.1 L868.1 663.9 L868.7 663.5 L869.2 664.1 L869.8 664.4 L870.3 663.8 L870.9 664.2 L871.4 666.7 L872.0 669.1 L872.6 670.4 L873.1 684.1 L873.7 672.7 L874.2 673.4 L874.8 675.0 L875.3 676.9 L875.9 678.8 L876.4 680.9 L877.0 683.3 L877.5 684.2 L878.1 685.3 L878.6 688.9 L879.2 692.1 L879.7 694.2 L880.3 696.1 L880.9 697.5 L881.4 699.4 L882.0 701.8 L882.5 704.1 L883.1 706.3 L883.6 708.7 L884.2 711.1 L884.7 713.7 L885.3 716.7 L885.8 718.9 L886.4 719.8 L886.9 722.2 L887.5 725.2 L888.1 726.9 L888.6 728.9 L889.2 731.6 L889.7 733.3 L890.3 735.2 L890.8 737.7 L891.4 740.3 L891.9 742.6 L892.5 744.6 L893.0 746.7 L893.6 748.8 L894.1 750.9 L894.7 753.5 L895.2 755.9 L895.8 758.6 L896.4 760.9 L896.9 762.8 L897.5 765.3 L898.0 768.0 L898.6 770.2 L899.1 772.6 L899.7 774.7 L900.2 776.5 L900.8 779.1 L901.3 781.4 L901.9 783.2 L902.4 785.3 L903.0 787.5 L903.6 790.0 L904.1 792.5 L904.7 794.6 L905.2 796.4 L905.8 797.5 L906.3 799.0 L906.9 800.7 L907.4 802.3 L908.0 804.5 L908.5 806.2 L909.1 807.0 L909.6 807.5 L910.2 807.8 L910.7 809.0 L911.3 810.0 L911.9 810.2 L912.4 810.6 L913.0 810.8 L913.5 810.7 L914.1 810.0 L914.6 809.7 L915.2 809.1 L915.7 808.3 L916.3 807.8 L916.8 806.8 L917.4 806.5 L917.9 806.3 L918.5 804.9 L919.1 803.7 L919.6 802.4 L920.2 800.5 L920.7 798.5 L921.3 796.9 L921.8 795.0 L922.4 792.4 L922.9 789.3 L923.5 787.1 L924.0 784.0 L924.6 780.0 L925.1 777.2 L925.7 774.4 L926.2 770.6 L926.8 767.0 L927.4 763.9 L927.9 760.5 L928.5 757.6 L929.0 754.7 L929.6 751.5 L930.1 748.2 L930.7 744.8 L931.2 741.6 L931.8 739.0 L932.3 736.6 L932.9 732.9 L933.4 729.5 L934.0 727.1 L934.6 724.6 L935.1 721.4 L935.7 718.3 L936.2 715.7 L936.8 712.9 L937.3 710.0 L937.9 706.5 L938.4 704.1 L939.0 701.8 L939.5 698.4 L940.1 695.8 L940.6 693.6 L941.2 690.7 L941.8 688.1 L942.3 684.7 L942.9 681.9 L943.4 679.3 L944.0 675.8 L944.5 674.8 L945.1 673.3 L945.6 670.8 L946.2 669.7 L946.7 667.7 L947.3 665.3 L947.8 662.8 L948.4 660.2 L948.9 660.1 L949.5 659.9 L950.1 657.4 L950.6 655.1 L951.2 656.5 L951.7 655.5 L952.3 652.7 L952.8 651.6 L953.4 651.1 L953.9 652.5 L954.5 651.5 L955.0 649.4 L955.6 649.2 L956.1 652.1 L956.7 651.3 L957.3 650.6 L957.8 652.0 L958.4 651.6 L958.9 652.5 L959.5 652.8 L960.0 652.3 L960.6 652.0 L961.1 651.6 L961.7 651.7 L962.2 653.3 L962.8 653.6 L963.3 651.9 L963.9 651.4 L964.4 652.5 L965.0 653.2 L965.6 652.9 L966.1 652.6 L966.7 652.3 L967.2 654.0 L967.8 656.0 L968.3 654.9 L968.9 653.7 L969.4 654.0 L970.0 657.6 L970.5 659.4 L971.1 660.5 L971.6 660.1 L972.2 657.9 L972.8 658.9 L973.3 659.6 L973.9 659.1 L974.4 659.8 L975.0 660.5 L975.5 660.5 L976.1 661.6 L976.6 662.3 L977.2 663.2 L977.7 665.0 L978.3 665.3 L978.8 664.9 L979.4 666.3 L979.9 667.2 L980.5 667.5 L981.1 670.0 L981.6 672.0 L982.2 672.9 L982.7 674.9 L983.3 676.2 L983.8 677.9 L984.4 680.3 L984.9 681.5 L985.5 683.0 L986.0 684.9 L986.6 685.9 L987.1 688.6 L987.7 691.9 L988.3 694.5 L988.8 696.7 L989.4 698.0 L989.9 700.0 L990.5 703.1 L991.0 705.9 L991.6 707.3 L992.1 709.5 L992.7 711.8 L993.2 714.4 L993.8 716.4 L994.3 717.9 L994.9 720.4 L995.4 723.3 L996.0 725.7 L996.6 727.6 L997.1 729.7 L997.7 732.0 L998.2 734.3 L998.8 736.5 L999.3 738.2 L999.9 741.1 L1000.4 744.1 L1001.0 746.2 L1001.5 748.3 L1002.1 750.6 L1002.6 752.5 L1003.2 754.3 L1003.8 756.8 L1004.3 759.3 L1004.9 761.5 L1005.4 763.6 L1006.0 765.9 L1006.5 768.4 L1007.1 770.6 L1007.6 773.0 L1008.2 775.1 L1008.7 777.7 L1009.3 780.4 L1009.8 782.2 L1010.4 784.2 L1011.0 786.5 L1011.5 788.5 L1012.1 790.7 L1012.6 792.8 L1013.2 794.3 L1013.7 796.8 L1014.3 798.5 L1014.8 799.6 L1015.4 801.1 L1015.9 803.7 L1016.5 805.0 L1017.0 805.7 L1017.6 807.4 L1018.1 808.1 L1018.7 808.8 L1019.3 809.7 L1019.8 809.9 L1020.4 810.6 L1020.9 810.6 L1021.5 810.6 L1022.0 810.5 L1022.6 810.0 L1023.1 809.7 L1023.7 808.6 L1024.2 808.0 L1024.8 808.1 L1025.3 807.6 L1025.9 806.8 L1026.5 805.9 L1027.0 804.5 L1027.6 803.1 L1028.1 801.6 L1028.7 800.0 L1029.2 798.1 L1029.8 795.8 L1030.3 794.0 L1030.9 792.0 L1031.4 789.1 L1032.0 785.8 L1032.5 782.4 L1033.1 779.6 L1033.6 776.5 L1034.2 773.2 L1034.8 770.1 L1035.3 766.4 L1035.9 762.9 L1036.4 759.6 L1037.0 756.8 L1037.5 754.4 L1038.1 751.2 L1038.6 747.8 L1039.2 744.8 L1039.7 741.7 L1040.3 738.6 L1040.8 735.4 L1041.4 732.3 L1042.0 729.6 L1042.5 726.5 L1043.1 723.4 L1043.6 720.7 L1044.2 716.8 L1044.7 713.6 L1045.3 711.8 L1045.8 708.4 L1046.4 704.6 L1046.9 701.9 L1047.5 699.4 L1048.0 697.0 L1048.6 694.4 L1049.1 692.1 L1049.7 688.5 L1050.3 685.6 L1050.8 684.1 L1051.4 681.6 L1051.9 677.7 L1052.5 674.6 L1053.0 673.7 L1053.6 672.3 L1054.1 669.7 L1054.7 667.2 L1055.2 666.8 L1055.8 665.0 L1056.3 662.2 L1056.9 661.8 L1057.5 660.5 L1058.0 658.1 L1058.6 655.2 L1059.1 654.7 L1059.7 654.7 L1060.2 654.5 L1060.8 653.7 L1061.3 651.4 L1061.9 652.4 L1062.4 653.0 L1063.0 650.5 L1063.5 651.2 L1064.1 652.1 L1064.6 649.8 L1065.2 650.8 L1065.8 651.6 L1066.3 650.0 L1066.9 648.9 L1067.4 650.3 L1068.0 650.3 L1068.5 649.1 L1069.1 649.4 L1069.6 649.0 L1070.2 650.1 L1070.7 651.1 L1071.3 653.4 L1071.8 655.4 L1072.4 655.1 L1073.0 654.7 L1073.5 653.4 L1074.1 655.0 L1074.6 656.3 L1075.2 656.3 L1075.7 657.6 L1076.3 655.7 L1076.8 654.6 L1077.4 654.9 L1077.9 654.3 L1078.5 656.8 L1079.0 659.6 L1079.6 657.6 L1080.2 656.9 L1080.7 659.9 L1081.3 659.5 L1081.8 659.0 L1082.4 660.6 L1082.9 661.5 L1083.5 661.4 L1084.0 661.6 L1084.6 661.8 L1085.1 662.8 L1085.7 664.3 L1086.2 664.3 L1086.8 664.6 L1087.3 665.1 L1087.9 666.4 L1088.5 668.1 L1089.0 669.7 L1089.6 669.8 L1090.1 671.3 L1090.7 673.6 L1091.2 674.9 L1091.8 676.6 L1092.3 677.4 L1092.9 680.5 L1093.4 682.9 L1094.0 684.9 L1094.5 685.9 L1095.1 687.3 L1095.7 691.1 L1096.2 693.5 L1096.8 694.3 L1097.3 695.6 L1097.9 698.0 L1098.4 701.4 L1099.0 704.3 L1099.5 705.5 L1100.1 707.9 L1100.6 710.9 L1101.2 713.2 L1101.7 715.7 L1102.3 717.1 L1102.8 718.6 L1103.4 721.1 L1104.0 723.4 L1104.5 725.4 L1105.1 727.3 L1105.6 729.9 L1106.2 732.7 L1106.7 735.2 L1107.3 737.0 L1107.8 739.1 L1108.4 742.1 L1108.9 744.2 L1109.5 746.0 L1110.0 747.9 L1110.6 749.9 L1111.2 752.6 L1111.7 755.4 L1112.3 757.6 L1112.8 760.0 L1113.4 762.3 L1113.9 764.2 L1114.5 766.4 L1115.0 769.3 L1115.6 771.9 L1116.1 773.4 L1116.7 775.5 L1117.2 777.9 L1117.8 779.7 L1118.3 782.3 L1118.9 785.0 L1119.5 787.1 L1120.0 789.3 L1120.6 791.6 L1121.1 793.5 L1121.7 795.6 L1122.2 797.6 L1122.8 799.2 L1123.3 801.1 L1123.9 802.6 L1124.4 803.9 L1125.0 805.7 L1125.5 806.8 L1126.1 807.5 L1126.7 808.4 L1127.2 809.6 L1127.8 809.9 L1128.3 809.8 L1128.9 810.2 L1129.4 810.4 L1130.0 810.7 L1130.5 810.5 L1131.1 810.1 L1131.6 809.1 L1132.2 808.5 L1132.7 808.3 L1133.3 808.0 L1133.8 807.8 L1134.4 806.8 L1135.0 805.4 L1135.5 803.9 L1136.1 802.6 L1136.6 801.6 L1137.2 799.6 L1137.7 797.5 L1138.3 795.5 L1138.8 792.7 L1139.4 790.5 L1139.9 787.9 L1140.5 785.5 L1141.0 781.9 L1141.6 778.1 L1142.2 775.1 L1142.7 772.0 L1143.3 768.9 L1143.8 765.7 L1144.4 762.7 L1144.9 759.3 L1145.5 756.1 L1146.0 752.7 L1146.6 749.6 L1147.1 746.9 L1147.7 744.0 L1148.2 740.5 L1148.8 737.6 L1149.4 734.9 L1149.9 732.3 L1150.5 729.9 L1151.0 726.1 L1151.6 722.8 L1152.1 718.7 L1152.7 714.6 L1153.2 713.3 L1153.8 711.8 L1154.3 708.3 L1154.9 704.2 L1155.4 700.8 L1156.0 698.7 L1156.5 697.1 L1157.1 694.9 L1157.7 692.8 L1158.2 690.5 L1158.8 686.2 L1159.3 682.2 L1159.9 680.7 L1160.4 678.7 L1161.0 674.6 L1161.5 672.4 L1162.1 671.6 L1162.6 669.3 L1163.2 666.8 L1163.7 665.3 L1164.3 664.3 L1164.9 663.0 L1165.4 661.0 L1166.0 659.7 L1166.5 657.5 L1167.1 655.2 L1167.6 654.4 L1168.2 652.4 L1168.7 651.0 L1169.3 650.6 L1169.8 650.8 L1170.4 651.5 L1170.9 649.2 L1171.5 649.2 L1172.0 651.5 L1172.6 651.4 L1173.2 650.5 L1173.7 649.2 L1174.3 648.4 L1174.8 649.0 L1175.4 651.5 L1175.9 651.2 L1176.5 649.0 L1177.0 649.6 L1177.6 650.9 L1178.1 650.8 L1178.7 649.8 L1179.2 650.8 L1179.8 653.7 L1180.4 654.5 L1180.9 653.8 L1181.5 655.3 L1182.0 654.8 L1182.6 654.3 L1183.1 654.9 L1183.7 654.4 L1184.2 645.5 L1184.8 654.6 L1185.3 655.1 L1185.9 657.4 L1186.4 657.0 L1187.0 656.2 L1187.5 656.8 L1188.1 658.7 L1188.7 658.6 L1189.2 657.8 L1189.8 657.2 L1190.3 658.3 L1190.9 660.3 L1191.4 661.1 L1192.0 662.9 L1192.5 663.0 L1193.1 661.9 L1193.6 663.4 L1194.2 665.2 L1194.7 666.0 L1195.3 665.4 L1195.9 665.8 L1196.4 667.2 L1197.0 668.3 L1197.5 669.7 L1198.1 670.7 L1198.6 673.7 L1199.2 674.7 L1199.7 674.5 L1200.3 677.7 L1200.8 679.9 L1201.4 680.8 L1201.9 683.2 L1202.5 685.0 L1203.0 687.4 L1203.6 689.3 L1204.2 689.9 L1204.7 692.9 L1205.3 695.9 L1205.8 696.9 L1206.4 699.2 L1206.9 702.4 L1207.5 705.1 L1208.0 707.0 L1208.6 708.8 L1209.1 710.9 L1209.7 713.6 L1210.2 715.6 L1210.8 717.4 L1211.4 719.8 L1211.9 722.1 L1212.5 725.0 L1213.0 727.1 L1213.6 729.2 L1214.1 731.3 L1214.7 733.0 L1215.2 734.8 L1215.8 737.2 L1216.3 739.9 L1216.9 742.3 L1217.4 744.2 L1218.0 746.0 L1218.6 748.5 L1219.1 751.1 L1219.7 753.5 L1220.2 755.7 L1220.8 757.6 L1221.3 760.7 L1221.9 763.2 L1222.4 764.9 L1223.0 767.9 L1223.5 770.0 L1224.1 771.6 L1224.6 773.9 L1225.2 776.4 L1225.7 778.2 L1226.3 780.1 L1226.9 783.0 L1227.4 784.9 L1228.0 786.9 L1228.5 789.3 L1229.1 791.4 L1229.6 794.2 L1230.2 796.0 L1230.7 797.5 L1231.3 799.5 L1231.8 800.8 L1232.4 802.6 L1232.9 804.2 L1233.5 811.7 L1234.1 806.4" fill="none" stroke="#4577b6" stroke-width="3.00" stroke-linejoin="round" stroke-linecap="round"/>
<path d="M799.8 725.6 L802.0 725.9 L804.2 726.5 L806.4 727.2 L808.6 728.1 L810.8 729.6 L813.0 731.2 L815.2 733.0 L817.4 734.7 L819.6 736.5 L821.8 738.4 L824.0 740.4 L826.2 742.3 L828.4 744.1 L830.6 745.7 L832.8 747.3 L835.0 748.8 L837.2 750.1 L839.4 751.3 L841.6 752.2 L843.8 753.0 L846.0 753.7 L848.3 754.2 L850.5 754.5 L852.7 754.5 L854.9 754.3 L857.1 753.9 L859.3 753.4 L861.5 752.9 L863.7 752.3 L865.9 751.7 L868.1 750.9 L870.3 749.8 L872.5 748.6 L874.7 747.4 L876.9 746.3 L879.1 745.2 L881.3 744.2 L883.5 743.2 L885.7 742.2 L887.9 741.2 L890.1 740.4 L892.3 739.7 L894.6 739.1 L896.8 738.6 L899.0 738.0 L901.2 737.5 L903.4 737.1 L905.6 736.7 L907.8 736.5 L910.0 736.4 L912.2 736.4 L914.4 736.6 L916.6 736.8 L918.8 737.2 L921.0 737.6 L923.2 738.0 L925.4 738.5 L927.6 739.0 L929.8 739.6 L932.0 740.4 L934.2 741.3 L936.4 742.2 L938.6 743.2 L940.9 744.1 L943.1 744.9 L945.3 745.5 L947.5 746.1 L949.7 746.7 L951.9 747.3 L954.1 747.8 L956.3 748.2 L958.5 748.6 L960.7 748.7 L962.9 748.7 L965.1 748.6 L967.3 748.4 L969.5 748.1 L971.7 747.8 L973.9 747.4 L976.1 747.0 L978.3 746.5 L980.5 746.1 L982.7 745.5 L984.9 744.9 L987.1 744.1 L989.4 743.4 L991.6 742.6 L993.8 741.9 L996.0 741.4 L998.2 740.9 L1000.4 740.4 L1002.6 740.0 L1004.8 739.5 L1007.0 739.1 L1009.2 738.7 L1011.4 738.4 L1013.6 738.2 L1015.8 738.0 L1018.0 738.0 L1020.2 738.1 L1022.4 738.3 L1024.6 738.5 L1026.8 738.7 L1029.0 739.0 L1031.2 739.3 L1033.4 739.6 L1035.7 740.0 L1037.9 740.4 L1040.1 740.9 L1042.3 741.5 L1044.5 742.0 L1046.7 742.5 L1048.9 743.0 L1051.1 743.3 L1053.3 743.6 L1055.5 743.8 L1057.7 744.0 L1059.9 744.2 L1062.1 744.4 L1064.3 744.5 L1066.5 744.6 L1068.7 744.6 L1070.9 744.6 L1073.1 744.4 L1075.3 744.3 L1077.5 744.0 L1079.7 743.8 L1081.9 743.5 L1084.2 743.2 L1086.4 743.0 L1088.6 742.7 L1090.8 742.3 L1093.0 741.9 L1095.2 741.4 L1097.4 741.0 L1099.6 740.5 L1101.8 740.1 L1104.0 739.7 L1106.2 739.4 L1108.4 739.1 L1110.6 738.8 L1112.8 738.5 L1115.0 738.2 L1117.2 737.9 L1119.4 737.7 L1121.6 737.5 L1123.8 737.3 L1126.0 737.2 L1128.2 737.2 L1130.5 737.3 L1132.7 737.4 L1134.9 737.6 L1137.1 737.9 L1139.3 738.2 L1141.5 738.5 L1143.7 738.8 L1145.9 739.1 L1148.1 739.4 L1150.3 739.8 L1152.5 740.3 L1154.7 740.7 L1156.9 741.1 L1159.1 741.5 L1161.3 741.7 L1163.5 741.8 L1165.7 741.9 L1167.9 741.9 L1170.1 742.0 L1172.3 742.1 L1174.5 742.1 L1176.7 742.1 L1179.0 742.1 L1181.2 742.1 L1183.4 741.9 L1185.6 741.7 L1187.8 741.4 L1190.0 741.1 L1192.2 740.8 L1194.4 740.4 L1196.6 740.1 L1198.8 739.8 L1201.0 739.5 L1203.2 739.1 L1205.4 738.7 L1207.6 738.3 L1209.8 737.9 L1212.0 737.5 L1214.2 737.2 L1216.4 736.9 L1218.6 736.7 L1220.8 736.5 L1223.0 736.3 L1225.3 736.2 L1227.5 736.0 L1229.7 735.9 L1231.9 735.7 L1234.1 735.7 L1236.3 735.6 L1238.5 735.5" fill="none" stroke="#be4b48" stroke-width="2.30" stroke-linejoin="round" stroke-linecap="round"/>
<text x="17.2" y="1024.8" font-family="'Liberation Sans', 'DejaVu Sans', sans-serif" font-size="33.00" text-anchor="start" font-weight="bold" stroke="#000" stroke-width="0.35">D</text>
<text x="224.0" y="1037.5" font-family="'Liberation Sans', 'DejaVu Sans', sans-serif" font-size="44.00" text-anchor="start" font-weight="bold" textLength="187.0" lengthAdjust="spacingAndGlyphs">Section 3</text>
<text x="325.0" y="1092.0" font-family="'Liberation Serif', 'DejaVu Serif', serif" font-size="19.20" text-anchor="middle" font-weight="bold">1<tspan font-size="12.6" dy="-6.2">st</tspan><tspan dy="6.2"> Tear</tspan></text>
<path d="M96.8 1107.0 V1396.0 H579.8" fill="none" stroke="#8e8e8e" stroke-width="1.6"/>
<text x="80.0" y="1402.4" font-family="'Liberation Serif', 'DejaVu Serif', serif" font-size="19.20" text-anchor="end">90</text>
<text x="80.0" y="1366.3" font-family="'Liberation Serif', 'DejaVu Serif', serif" font-size="19.20" text-anchor="end">95</text>
<text x="80.0" y="1330.2" font-family="'Liberation Serif', 'DejaVu Serif', serif" font-size="19.20" text-anchor="end">100</text>
<text x="80.0" y="1294.1" font-family="'Liberation Serif', 'DejaVu Serif', serif" font-size="19.20" text-anchor="end">105</text>
<text x="80.0" y="1257.9" font-family="'Liberation Serif', 'DejaVu Serif', serif" font-size="19.20" text-anchor="end">110</text>
<text x="80.0" y="1221.8" font-family="'Liberation Serif', 'DejaVu Serif', serif" font-size="19.20" text-anchor="end">115</text>
<text x="80.0" y="1185.7" font-family="'Liberation Serif', 'DejaVu Serif', serif" font-size="19.20" text-anchor="end">120</text>
<text x="80.0" y="1149.6" font-family="'Liberation Serif', 'DejaVu Serif', serif" font-size="19.20" text-anchor="end">125</text>
<text x="80.0" y="1113.4" font-family="'Liberation Serif', 'DejaVu Serif', serif" font-size="19.20" text-anchor="end">130</text>
<text x="96.8" y="1425.4" font-family="'Liberation Serif', 'DejaVu Serif', serif" font-size="19.20" text-anchor="middle">0</text>
<text x="234.8" y="1425.4" font-family="'Liberation Serif', 'DejaVu Serif', serif" font-size="19.20" text-anchor="middle">1</text>
<text x="372.8" y="1425.4" font-family="'Liberation Serif', 'DejaVu Serif', serif" font-size="19.20" text-anchor="middle">2</text>
<text x="510.8" y="1425.4" font-family="'Liberation Serif', 'DejaVu Serif', serif" font-size="19.20" text-anchor="middle">3</text>
<text x="338.0" y="1453.5" font-family="'Liberation Serif', 'DejaVu Serif', serif" font-size="19.20" text-anchor="middle" font-weight="bold">Time (Sec)</text>
<text transform="translate(33.5 1279.0) rotate(-90)" font-family="'Liberation Serif', 'DejaVu Serif', serif" font-size="19.20" font-weight="bold" text-anchor="middle">Pressure (mmHg)</text>
<path d="M546.0 1215.0 H584.7" stroke="#456fa6" stroke-width="2.1"/>
<path d="M546.0 1248.5 H584.7" stroke="#b0484c" stroke-width="2.1"/>
<text x="588.5" y="1221.5" font-family="'Liberation Serif', 'DejaVu Serif', serif" font-size="19.20" text-anchor="start">Pressure</text>
<text x="588.5" y="1255.0" font-family="'Liberation Serif', 'DejaVu Serif', serif" font-size="19.20" text-anchor="start">Mean pressure</text>
<path d="M96.8 1265.9 L97.4 1266.8 L97.9 1267.7 L98.5 1267.9 L99.0 1267.5 L99.6 1266.3 L100.1 1266.0 L100.7 1266.5 L101.2 1266.2 L101.8 1265.5 L102.3 1264.8 L102.9 1264.7 L103.4 1264.0 L104.0 1263.0 L104.5 1262.1 L105.1 1261.3 L105.6 1260.4 L106.2 1258.3 L106.7 1256.7 L107.3 1255.0 L107.8 1252.8 L108.4 1250.7 L108.9 1248.3 L109.5 1245.6 L110.0 1242.7 L110.6 1239.9 L111.2 1236.9 L111.7 1233.1 L112.3 1229.7 L112.8 1227.3 L113.4 1224.6 L113.9 1222.2 L114.5 1219.5 L115.0 1216.6 L115.6 1213.7 L116.1 1211.1 L116.7 1209.2 L117.2 1206.4 L117.8 1202.9 L118.3 1199.3 L118.9 1196.5 L119.4 1194.7 L120.0 1192.3 L120.5 1189.5 L121.1 1186.7 L121.6 1184.0 L122.2 1181.8 L122.7 1178.6 L123.3 1175.3 L123.8 1173.0 L124.4 1170.4 L125.0 1166.9 L125.5 1164.5 L126.1 1163.0 L126.6 1160.1 L127.2 1158.3 L127.7 1155.9 L128.3 1153.2 L128.8 1151.8 L129.4 1149.2 L129.9 1145.8 L130.5 1144.4 L131.0 1143.0 L131.6 1140.6 L132.1 1140.3 L132.7 1138.4 L133.2 1136.5 L133.8 1136.6 L134.3 1135.3 L134.9 1133.7 L135.4 1131.7 L136.0 1130.8 L136.5 1129.3 L137.1 1127.7 L137.6 1128.5 L138.2 1128.6 L138.8 1127.2 L139.3 1127.6 L139.9 1129.1 L140.4 1128.0 L141.0 1125.6 L141.5 1124.6 L142.1 1125.0 L142.6 1125.2 L143.2 1126.9 L143.7 1127.1 L144.3 1127.0 L144.8 1126.3 L145.4 1125.1 L145.9 1126.1 L146.5 1126.2 L147.0 1126.2 L147.6 1126.7 L148.1 1127.0 L148.7 1128.0 L149.2 1129.6 L149.8 1129.3 L150.3 1127.5 L150.9 1127.3 L151.4 1128.9 L152.0 1129.4 L152.6 1129.9 L153.1 1130.4 L153.7 1130.8 L154.2 1131.2 L154.8 1129.7 L155.3 1129.6 L155.9 1130.3 L156.4 1131.7 L157.0 1133.6 L157.5 1133.5 L158.1 1133.0 L158.6 1133.6 L159.2 1133.7 L159.7 1134.4 L160.3 1134.7 L160.8 1134.2 L161.4 1136.4 L161.9 1137.2 L162.5 1137.2 L163.0 1137.5 L163.6 1138.4 L164.1 1139.6 L164.7 1139.6 L165.2 1142.3 L165.8 1144.6 L166.4 1143.8 L166.9 1143.9 L167.5 1144.6 L168.0 1145.8 L168.6 1148.6 L169.1 1150.1 L169.7 1151.4 L170.2 1153.4 L170.8 1154.9 L171.3 1156.3 L171.9 1158.5 L172.4 1161.0 L173.0 1163.3 L173.5 1163.8 L174.1 1165.3 L174.6 1168.6 L175.2 1170.7 L175.7 1172.6 L176.3 1174.2 L176.8 1175.7 L177.4 1177.4 L177.9 1179.4 L178.5 1181.6 L179.0 1183.6 L179.6 1184.9 L180.2 1186.8 L180.7 1189.0 L181.3 1191.6 L181.8 1193.4 L182.4 1194.7 L182.9 1196.4 L183.5 1199.2 L184.0 1201.4 L184.6 1202.6 L185.1 1204.6 L185.7 1206.6 L186.2 1208.5 L186.8 1210.2 L187.3 1212.1 L187.9 1214.4 L188.4 1216.4 L189.0 1218.4 L189.5 1220.4 L190.1 1222.5 L190.6 1224.9 L191.2 1226.5 L191.7 1228.4 L192.3 1230.7 L192.8 1232.6 L193.4 1234.6 L194.0 1236.5 L194.5 1238.3 L195.1 1240.3 L195.6 1242.5 L196.2 1244.3 L196.7 1245.7 L197.3 1247.6 L197.8 1249.8 L198.4 1251.9 L198.9 1253.7 L199.5 1240.6 L200.0 1256.8 L200.6 1258.1 L201.1 1259.3 L201.7 1260.8 L202.2 1262.1 L202.8 1263.4 L203.3 1264.2 L203.9 1264.7 L204.4 1265.4 L205.0 1266.4 L205.5 1267.1 L206.1 1267.3 L206.6 1267.8 L207.2 1267.5 L207.8 1266.8 L208.3 1266.8 L208.9 1266.6 L209.4 1266.0 L210.0 1265.4 L210.5 1264.7 L211.1 1263.9 L211.6 1264.1 L212.2 1263.2 L212.7 1261.9 L213.3 1261.0 L213.8 1259.5 L214.4 1257.8 L214.9 1256.0 L215.5 1254.1 L216.0 1252.2 L216.6 1250.3 L217.1 1248.3 L217.7 1245.6 L218.2 1242.3 L218.8 1238.9 L219.3 1235.5 L219.9 1232.9 L220.4 1230.2 L221.0 1227.0 L221.6 1224.3 L222.1 1221.5 L222.7 1218.7 L223.2 1216.1 L223.8 1213.4 L224.3 1210.5 L224.9 1207.4 L225.4 1204.3 L226.0 1202.0 L226.5 1200.0 L227.1 1197.2 L227.6 1194.3 L228.2 1191.2 L228.7 1188.4 L229.3 1185.9 L229.8 1183.4 L230.4 1180.8 L230.9 1177.6 L231.5 1174.3 L232.0 1172.0 L232.6 1170.0 L233.1 1168.0 L233.7 1166.2 L234.2 1163.2 L234.8 1160.4 L235.4 1157.4 L235.9 1154.5 L236.5 1153.2 L237.0 1151.0 L237.6 1148.7 L238.1 1146.0 L238.7 1143.3 L239.2 1142.5 L239.8 1141.1 L240.3 1139.5 L240.9 1137.8 L241.4 1136.7 L242.0 1134.8 L242.5 1132.9 L243.1 1131.8 L243.6 1131.0 L244.2 1130.1 L244.7 1129.7 L245.3 1126.8 L245.8 1125.9 L246.4 1128.2 L246.9 1126.3 L247.5 1124.6 L248.0 1125.5 L248.6 1127.6 L249.2 1127.8 L249.7 1127.2 L250.3 1126.6 L250.8 1125.9 L251.4 1124.5 L251.9 1123.7 L252.5 1125.1 L253.0 1125.7 L253.6 1124.8 L254.1 1124.5 L254.7 1125.6 L255.2 1127.6 L255.8 1127.3 L256.3 1125.9 L256.9 1127.3 L257.4 1127.3 L258.0 1126.0 L258.5 1127.9 L259.1 1130.7 L259.6 1131.2 L260.2 1130.6 L260.7 1130.1 L261.3 1131.3 L261.8 1130.2 L262.4 1127.7 L263.0 1130.3 L263.5 1148.0 L264.1 1133.5 L264.6 1123.6 L265.2 1131.6 L265.7 1131.8 L266.3 1133.3 L266.8 1135.5 L267.4 1135.5 L267.9 1134.0 L268.5 1135.1 L269.0 1136.0 L269.6 1136.2 L270.1 1137.1 L270.7 1138.6 L271.2 1138.8 L271.8 1139.6 L272.3 1139.7 L272.9 1140.1 L273.4 1141.5 L274.0 1142.2 L274.5 1143.3 L275.1 1144.2 L275.6 1145.4 L276.2 1147.1 L276.8 1149.8 L277.3 1151.1 L277.9 1152.0 L278.4 1154.3 L279.0 1156.1 L279.5 1157.8 L280.1 1159.2 L280.6 1160.5 L281.2 1162.5 L281.7 1163.2 L282.3 1165.2 L282.8 1168.2 L283.4 1170.0 L283.9 1172.2 L284.5 1174.6 L285.0 1176.2 L285.6 1177.5 L286.1 1180.8 L286.7 1183.1 L287.2 1184.1 L287.8 1186.1 L288.3 1187.5 L288.9 1189.4 L289.4 1191.5 L290.0 1193.4 L290.6 1195.7 L291.1 1197.3 L291.7 1199.3 L292.2 1201.5 L292.8 1203.5 L293.3 1205.6 L293.9 1207.1 L294.4 1208.6 L295.0 1211.0 L295.5 1213.4 L296.1 1214.5 L296.6 1216.3 L297.2 1219.2 L297.7 1220.9 L298.3 1222.9 L298.8 1225.1 L299.4 1226.7 L299.9 1228.4 L300.5 1230.7 L301.0 1232.6 L301.6 1234.5 L302.1 1236.8 L302.7 1238.7 L303.2 1240.7 L303.8 1242.5 L304.4 1244.4 L304.9 1246.6 L305.5 1248.6 L306.0 1250.5 L306.6 1252.4 L307.1 1254.1 L307.7 1255.4 L308.2 1256.8 L308.8 1258.2 L309.3 1259.3 L309.9 1260.8 L310.4 1262.5 L311.0 1263.7 L311.5 1264.4 L312.1 1264.8 L312.6 1265.2 L313.2 1266.3 L313.7 1267.0 L314.3 1266.8 L314.8 1266.7 L315.4 1266.7 L315.9 1267.1 L316.5 1267.1 L317.0 1266.9 L317.6 1266.3 L318.2 1265.9 L318.7 1265.3 L319.3 1264.8 L319.8 1264.0 L320.4 1262.7 L320.9 1261.4 L321.5 1260.3 L322.0 1258.7 L322.6 1256.9 L323.1 1255.7 L323.7 1254.3 L324.2 1252.3 L324.8 1250.2 L325.3 1247.3 L325.9 1244.4 L326.4 1241.2 L327.0 1237.6 L327.5 1234.7 L328.1 1232.1 L328.6 1229.3 L329.2 1226.3 L329.7 1223.4 L330.3 1220.8 L330.8 1218.0 L331.4 1215.2 L332.0 1212.3 L332.5 1209.2 L333.1 1206.2 L333.6 1203.9 L334.2 1202.0 L334.7 1199.7 L335.3 1196.7 L335.8 1193.8 L336.4 1191.5 L336.9 1188.4 L337.5 1185.5 L338.0 1182.4 L338.6 1178.7 L339.1 1176.3 L339.7 1174.3 L340.2 1172.2 L340.8 1169.8 L341.3 1166.9 L341.9 1164.9 L342.4 1163.0 L343.0 1159.3 L343.5 1156.8 L344.1 1155.8 L344.6 1152.7 L345.2 1149.8 L345.8 1147.5 L346.3 1145.7 L346.9 1144.6 L347.4 1142.4 L348.0 1140.0 L348.5 1139.7 L349.1 1137.3 L349.6 1135.0 L350.2 1134.1 L350.7 1133.6 L351.3 1134.0 L351.8 1132.5 L352.4 1131.2 L352.9 1129.2 L353.5 1129.1 L354.0 1128.9 L354.6 1127.8 L355.1 1126.9 L355.7 1125.5 L356.2 1126.0 L356.8 1124.3 L357.3 1123.7 L357.9 1124.4 L358.4 1125.3 L359.0 1126.3 L359.6 1125.2 L360.1 1125.1 L360.7 1125.6 L361.2 1126.6 L361.8 1129.0 L362.3 1129.1 L362.9 1127.7 L363.4 1127.8 L364.0 1126.9 L364.5 1125.4 L365.1 1126.0 L365.6 1127.3 L366.2 1127.5 L366.7 1128.0 L367.3 1128.4 L367.8 1129.4 L368.4 1130.3 L368.9 1130.2 L369.5 1129.0 L370.0 1128.9 L370.6 1129.4 L371.1 1131.2 L371.7 1132.5 L372.2 1131.6 L372.8 1131.8 L373.4 1133.4 L373.9 1135.4 L374.5 1136.4 L375.0 1135.8 L375.6 1133.2 L376.1 1133.3 L376.7 1136.1 L377.2 1136.6 L377.8 1136.5 L378.3 1137.2 L378.9 1137.9 L379.4 1139.5 L380.0 1140.2 L380.5 1139.7 L381.1 1139.9 L381.6 1140.4 L382.2 1142.2 L382.7 1143.3 L383.3 1143.8 L383.8 1145.7 L384.4 1146.5 L384.9 1148.2 L385.5 1150.3 L386.0 1151.6 L386.6 1153.0 L387.2 1154.6 L387.7 1156.0 L388.3 1158.0 L388.8 1160.7 L389.4 1161.9 L389.9 1163.7 L390.5 1166.7 L391.0 1169.0 L391.6 1172.0 L392.1 1174.0 L392.7 1175.0 L393.2 1176.5 L393.8 1178.4 L394.3 1180.2 L394.9 1181.8 L395.4 1183.7 L396.0 1185.9 L396.5 1188.1 L397.1 1190.1 L397.6 1192.3 L398.2 1193.8 L398.7 1195.8 L399.3 1198.1 L399.8 1199.7 L400.4 1202.1 L401.0 1203.9 L401.5 1205.4 L402.1 1207.5 L402.6 1209.4 L403.2 1211.8 L403.7 1213.6 L404.3 1215.2 L404.8 1217.0 L405.4 1218.9 L405.9 1221.5 L406.5 1223.4 L407.0 1224.9 L407.6 1226.9 L408.1 1229.0 L408.7 1231.3 L409.2 1233.3 L409.8 1235.2 L410.3 1236.6 L410.9 1238.5 L411.4 1241.3 L412.0 1243.3 L412.5 1244.8 L413.1 1246.8 L413.6 1249.6 L414.2 1251.0 L414.8 1252.2 L415.3 1254.3 L415.9 1255.9 L416.4 1257.5 L417.0 1259.3 L417.5 1260.2 L418.1 1261.3 L418.6 1262.6 L419.2 1263.5 L419.7 1264.3 L420.3 1265.0 L420.8 1266.3 L421.4 1266.7 L421.9 1266.9 L422.5 1267.2 L423.0 1267.1 L423.6 1266.9 L424.1 1266.7 L424.7 1267.2 L425.2 1266.7 L425.8 1265.7 L426.3 1265.2 L426.9 1264.9 L427.4 1263.9 L428.0 1263.1 L428.6 1262.3 L429.1 1261.1 L429.7 1260.3 L430.2 1259.0 L430.8 1257.1 L431.3 1255.2 L431.9 1253.5 L432.4 1251.9 L433.0 1249.6 L433.5 1246.8 L434.1 1243.9 L434.6 1241.0 L435.2 1237.3 L435.7 1234.0 L436.3 1231.5 L436.8 1228.6 L437.4 1225.2 L437.9 1222.3 L438.5 1219.9 L439.0 1217.6 L439.6 1215.3 L440.1 1212.3 L440.7 1209.2 L441.2 1206.8 L441.8 1204.4 L442.4 1201.2 L442.9 1198.8 L443.5 1196.5 L444.0 1193.1 L444.6 1189.6 L445.1 1186.7 L445.7 1183.8 L446.2 1180.7 L446.8 1178.0 L447.3 1175.9 L447.9 1172.9 L448.4 1169.5 L449.0 1167.5 L449.5 1165.9 L450.1 1163.6 L450.6 1161.7 L451.2 1159.6 L451.7 1157.4 L452.3 1155.2 L452.8 1151.1 L453.4 1148.7 L453.9 1146.3 L454.5 1144.4 L455.0 1143.5 L455.6 1141.9 L456.2 1139.9 L456.7 1138.1 L457.3 1136.1 L457.8 1133.5 L458.4 1132.7 L458.9 1133.4 L459.5 1132.2 L460.0 1129.5 L460.6 1128.5 L461.1 1128.4 L461.7 1127.3 L462.2 1125.8 L462.8 1127.8 L463.3 1127.1 L463.9 1124.1 L464.4 1124.6 L465.0 1125.4 L465.5 1125.4 L466.1 1124.4 L466.6 1125.7 L467.2 1125.6 L467.7 1124.4 L468.3 1124.0 L468.8 1123.7 L469.4 1125.2 L470.0 1126.0 L470.5 1125.7 L471.1 1125.9 L471.6 1126.4 L472.2 1127.4 L472.7 1129.1 L473.3 1129.4 L473.8 1129.8 L474.4 1130.3 L474.9 1129.3 L475.5 1130.2 L476.0 1131.7 L476.6 1130.2 L477.1 1130.0 L477.7 1130.8 L478.2 1131.6 L478.8 1132.7 L479.3 1132.3 L479.9 1130.8 L480.4 1130.6 L481.0 1133.3 L481.5 1133.7 L482.1 1132.3 L482.6 1132.5 L483.2 1134.4 L483.8 1135.4 L484.3 1133.6 L484.9 1134.7 L485.4 1136.4 L486.0 1136.9 L486.5 1138.5 L487.1 1138.9 L487.6 1138.1 L488.2 1137.8 L488.7 1139.7 L489.3 1141.5 L489.8 1142.3 L490.4 1144.2 L490.9 1144.4 L491.5 1143.5 L492.0 1144.4 L492.6 1147.0 L493.1 1148.7 L493.7 1149.5 L494.2 1152.0 L494.8 1154.2 L495.3 1155.9 L495.9 1157.5 L496.4 1158.4 L497.0 1160.8 L497.6 1164.1 L498.1 1165.4 L498.7 1166.9 L499.2 1170.1 L499.8 1172.5 L500.3 1174.0 L500.9 1175.7 L501.4 1177.2 L502.0 1178.6 L502.5 1180.7 L503.1 1182.9 L503.6 1185.0 L504.2 1186.6 L504.7 1187.9 L505.3 1190.2 L505.8 1192.8 L506.4 1194.0 L506.9 1195.4 L507.5 1198.2 L508.0 1200.9 L508.6 1202.6 L509.1 1203.8 L509.7 1205.8 L510.2 1208.1 L510.8 1210.0 L511.4 1211.8 L511.9 1213.3 L512.5 1215.7 L513.0 1218.1 L513.6 1219.8 L514.1 1221.9 L514.7 1224.2 L515.2 1225.9 L515.8 1227.6 L516.3 1229.6 L516.9 1231.3 L517.4 1233.5 L518.0 1235.6 L518.5 1237.5 L519.1 1239.6 L519.6 1241.5 L520.2 1243.5 L520.7 1245.8 L521.3 1247.4 L521.8 1249.0 L522.4 1251.4 L522.9 1253.7 L523.5 1255.2 L524.0 1256.2 L524.6 1257.4 L525.2 1258.7 L525.7 1260.3 L526.3 1261.7 L526.8 1263.0 L527.4 1264.1 L527.9 1264.4 L528.5 1265.3 L529.0 1266.2 L529.6 1266.6 L530.1 1267.0 L530.7 1267.0 L531.2 1267.2 L531.8 1267.1 L532.3 1266.9 L532.9 1266.9 L533.4 1266.4 L534.0 1265.8" fill="none" stroke="#4577b6" stroke-width="3.00" stroke-linejoin="round" stroke-linecap="round"/>
<path d="M102.3 1226.2 L103.6 1226.2 L104.9 1226.2 L106.1 1226.2 L107.4 1226.2 L108.7 1226.2 L110.0 1226.2 L111.2 1226.2 L112.5 1226.2 L113.8 1226.2 L115.1 1226.2 L116.3 1226.2 L117.6 1226.2 L118.9 1226.2 L120.2 1226.3 L121.4 1226.3 L122.7 1226.4 L124.0 1226.5 L125.2 1226.6 L126.5 1226.7 L127.8 1226.8 L129.1 1227.0 L130.3 1227.1 L131.6 1227.3 L132.9 1227.4 L134.2 1227.5 L135.4 1227.7 L136.7 1227.8 L138.0 1227.9 L139.3 1228.1 L140.5 1228.2 L141.8 1228.4 L143.1 1228.5 L144.4 1228.7 L145.6 1228.9 L146.9 1229.1 L148.2 1229.2 L149.5 1229.4 L150.7 1229.6 L152.0 1229.8 L152.0 1233.4 L154.5 1233.2 L157.0 1232.9 L159.4 1232.6 L161.9 1232.2 L164.4 1231.9 L166.9 1231.5 L169.3 1231.1 L171.8 1230.7 L174.3 1230.3 L176.8 1229.8 L179.2 1229.3 L181.7 1228.8 L184.2 1228.4 L186.7 1228.0 L189.2 1227.6 L191.6 1227.2 L194.1 1226.8 L196.6 1226.5 L199.1 1226.2 L201.5 1225.9 L204.0 1225.9 L206.5 1225.9 L209.0 1225.9 L211.4 1225.9 L213.9 1225.9 L216.4 1225.9 L218.9 1226.0 L221.4 1226.2 L223.8 1226.5 L226.3 1226.9 L228.8 1227.2 L231.3 1227.6 L233.7 1227.9 L236.2 1228.2 L238.7 1228.5 L241.2 1228.8 L243.6 1229.1 L246.1 1229.5 L248.6 1229.8 L248.6 1233.4 L251.1 1233.2 L253.6 1232.9 L256.0 1232.6 L258.5 1232.2 L261.0 1231.9 L263.5 1231.5 L265.9 1231.1 L268.4 1230.7 L270.9 1230.3 L273.4 1229.8 L275.8 1229.3 L278.3 1228.8 L280.8 1228.4 L283.3 1228.0 L285.8 1227.6 L288.2 1227.2 L290.7 1226.8 L293.2 1226.5 L295.7 1226.2 L298.1 1225.9 L300.6 1225.9 L303.1 1225.9 L305.6 1225.9 L308.0 1225.9 L310.5 1225.9 L313.0 1225.9 L315.5 1226.0 L318.0 1226.2 L320.4 1226.5 L322.9 1226.9 L325.4 1227.2 L327.9 1227.6 L330.3 1227.9 L332.8 1228.2 L335.3 1228.5 L337.8 1228.8 L340.2 1229.1 L342.7 1229.5 L345.2 1229.8 L345.2 1233.4 L347.7 1233.2 L350.2 1232.9 L352.6 1232.6 L355.1 1232.2 L357.6 1231.9 L360.1 1231.5 L362.5 1231.1 L365.0 1230.7 L367.5 1230.3 L370.0 1229.8 L372.4 1229.3 L374.9 1228.8 L377.4 1228.4 L379.9 1228.0 L382.4 1227.6 L384.8 1227.2 L387.3 1226.8 L389.8 1226.5 L392.3 1226.2 L394.7 1225.9 L397.2 1225.9 L399.7 1225.9 L402.2 1225.9 L404.6 1225.9 L407.1 1225.9 L409.6 1225.9 L412.1 1226.0 L414.6 1226.2 L417.0 1226.5 L419.5 1226.9 L422.0 1227.2 L424.5 1227.6 L426.9 1227.9 L429.4 1228.2 L431.9 1228.5 L434.4 1228.8 L436.8 1229.1 L439.3 1229.5 L441.8 1229.8 L441.8 1233.4 L444.3 1233.2 L446.8 1232.9 L449.2 1232.6 L451.7 1232.2 L454.2 1231.9 L456.7 1231.5 L459.1 1231.1 L461.6 1230.7 L464.1 1230.3 L466.6 1229.8 L469.0 1229.3 L471.5 1228.8 L474.0 1228.4 L476.5 1228.0 L479.0 1227.6 L481.4 1227.2 L483.9 1226.8 L486.4 1226.5 L488.9 1226.2 L491.3 1225.9 L493.8 1225.9 L496.3 1225.9 L498.8 1225.9 L501.2 1225.9 L503.7 1225.9 L506.2 1225.9 L508.7 1226.0 L511.2 1226.2 L513.6 1226.6 L516.1 1226.9 L518.6 1227.3 L521.1 1227.6 L523.5 1227.8 L526.0 1228.1 L528.5 1228.3 L531.0 1228.5 L533.4 1228.7 L535.9 1228.9 L538.4 1229.1" fill="none" stroke="#be4b48" stroke-width="2.30" stroke-linejoin="round" stroke-linecap="round"/>
<text x="721.2" y="1025.3" font-family="'Liberation Sans', 'DejaVu Sans', sans-serif" font-size="33.00" text-anchor="start" font-weight="bold" stroke="#000" stroke-width="0.35">E</text>
<text x="946.0" y="1032.2" font-family="'Liberation Sans', 'DejaVu Sans', sans-serif" font-size="44.00" text-anchor="start" font-weight="bold" textLength="186.0" lengthAdjust="spacingAndGlyphs">Section 4</text>
<text x="1019.0" y="1078.8" font-family="'Liberation Serif', 'DejaVu Serif', serif" font-size="19.20" text-anchor="middle" font-weight="bold">2<tspan font-size="12.6" dy="-6.2">nd</tspan><tspan dy="6.2"> tear</tspan></text>
<path d="M793.0 1095.5 V1384.8 H1277.1" fill="none" stroke="#8e8e8e" stroke-width="1.6"/>
<text x="776.6" y="1391.2" font-family="'Liberation Serif', 'DejaVu Serif', serif" font-size="19.20" text-anchor="end">90</text>
<text x="776.6" y="1343.0" font-family="'Liberation Serif', 'DejaVu Serif', serif" font-size="19.20" text-anchor="end">95</text>
<text x="776.6" y="1294.8" font-family="'Liberation Serif', 'DejaVu Serif', serif" font-size="19.20" text-anchor="end">100</text>
<text x="776.6" y="1246.6" font-family="'Liberation Serif', 'DejaVu Serif', serif" font-size="19.20" text-anchor="end">105</text>
<text x="776.6" y="1198.4" font-family="'Liberation Serif', 'DejaVu Serif', serif" font-size="19.20" text-anchor="end">110</text>
<text x="776.6" y="1150.1" font-family="'Liberation Serif', 'DejaVu Serif', serif" font-size="19.20" text-anchor="end">115</text>
<text x="776.6" y="1101.9" font-family="'Liberation Serif', 'DejaVu Serif', serif" font-size="19.20" text-anchor="end">120</text>
<text x="793.0" y="1413.4" font-family="'Liberation Serif', 'DejaVu Serif', serif" font-size="19.20" text-anchor="middle">0</text>
<text x="931.3" y="1413.4" font-family="'Liberation Serif', 'DejaVu Serif', serif" font-size="19.20" text-anchor="middle">1</text>
<text x="1069.6" y="1413.4" font-family="'Liberation Serif', 'DejaVu Serif', serif" font-size="19.20" text-anchor="middle">2</text>
<text x="1207.9" y="1413.4" font-family="'Liberation Serif', 'DejaVu Serif', serif" font-size="19.20" text-anchor="middle">3</text>
<text x="1034.4" y="1443.0" font-family="'Liberation Serif', 'DejaVu Serif', serif" font-size="19.20" text-anchor="middle" font-weight="bold">Time (Sec)</text>
<text transform="translate(731.5 1267.5) rotate(-90)" font-family="'Liberation Serif', 'DejaVu Serif', serif" font-size="19.20" font-weight="bold" text-anchor="middle">Pressure (mmHg)</text>
<path d="M1242.0 1216.0 H1281.2" stroke="#456fa6" stroke-width="2.1"/>
<path d="M1242.0 1249.0 H1281.2" stroke="#b0484c" stroke-width="2.1"/>
<text x="1285.0" y="1222.5" font-family="'Liberation Serif', 'DejaVu Serif', serif" font-size="19.20" text-anchor="start">Pressure</text>
<text x="1285.0" y="1255.5" font-family="'Liberation Serif', 'DejaVu Serif', serif" font-size="19.20" text-anchor="start">Mean pressure</text>
<path d="M793.0 1288.4 L793.6 1290.4 L794.1 1292.5 L794.7 1294.5 L795.2 1296.6 L795.8 1298.7 L796.3 1300.7 L796.9 1302.8 L797.4 1304.4 L798.0 1305.5 L798.5 1306.7 L799.1 1307.8 L799.6 1309.0 L800.2 1310.2 L800.7 1311.3 L801.3 1312.3 L801.9 1311.6 L802.4 1310.8 L803.0 1309.1 L803.5 1307.6 L804.1 1306.2 L804.6 1304.9 L805.2 1303.4 L805.7 1301.6 L806.3 1299.2 L806.8 1296.8 L807.4 1295.1 L807.9 1292.5 L808.5 1289.2 L809.0 1286.6 L809.6 1283.8 L810.1 1279.5 L810.7 1275.5 L811.3 1272.2 L811.8 1269.1 L812.4 1264.9 L812.9 1260.4 L813.5 1257.1 L814.0 1254.2 L814.6 1250.8 L815.1 1246.5 L815.7 1243.3 L816.2 1240.1 L816.8 1236.6 L817.3 1232.6 L817.9 1228.9 L818.4 1225.6 L819.0 1222.4 L819.6 1219.3 L820.1 1214.8 L820.7 1210.0 L821.2 1206.4 L821.8 1202.8 L822.3 1199.7 L822.9 1196.7 L823.4 1192.6 L824.0 1188.9 L824.5 1184.7 L825.1 1181.6 L825.6 1179.3 L826.2 1175.3 L826.7 1172.1 L827.3 1168.2 L827.9 1165.9 L828.4 1162.8 L829.0 1158.0 L829.5 1155.5 L830.1 1152.3 L830.6 1148.0 L831.2 1146.0 L831.7 1144.5 L832.3 1141.8 L832.8 1139.5 L833.4 1137.9 L833.9 1136.7 L834.5 1133.8 L835.0 1131.8 L835.6 1129.7 L836.1 1126.7 L836.7 1126.2 L837.3 1125.0 L837.8 1123.0 L838.4 1122.2 L838.9 1120.0 L839.5 1118.8 L840.0 1118.9 L840.6 1120.0 L841.1 1118.9 L841.7 1117.6 L842.2 1118.0 L842.8 1114.2 L843.3 1111.5 L843.9 1113.3 L844.4 1116.3 L845.0 1115.5 L845.6 1114.7 L846.1 1114.9 L846.7 1116.0 L847.2 1115.4 L847.8 1112.7 L848.3 1115.7 L848.9 1118.4 L849.4 1117.9 L850.0 1116.8 L850.5 1118.4 L851.1 1119.3 L851.6 1117.9 L852.2 1119.3 L852.7 1118.7 L853.3 1120.2 L853.9 1122.5 L854.4 1121.7 L855.0 1119.9 L855.5 1119.8 L856.1 1121.6 L856.6 1121.2 L857.2 1121.2 L857.7 1122.6 L858.3 1122.7 L858.8 1122.2 L859.4 1119.7 L859.9 1121.4 L860.5 1141.4 L861.0 1123.5 L861.6 1124.4 L862.1 1123.1 L862.7 1122.5 L863.3 1123.6 L863.8 1125.2 L864.4 1127.0 L864.9 1126.7 L865.5 1126.7 L866.0 1116.5 L866.6 1127.8 L867.1 1129.1 L867.7 1131.4 L868.2 1131.0 L868.8 1132.2 L869.3 1134.2 L869.9 1137.0 L870.4 1139.3 L871.0 1141.6 L871.6 1143.7 L872.1 1145.1 L872.7 1148.3 L873.2 1150.3 L873.8 1152.7 L874.3 1156.4 L874.9 1158.0 L875.4 1159.7 L876.0 1162.3 L876.5 1164.8 L877.1 1167.3 L877.6 1170.4 L878.2 1174.3 L878.7 1177.2 L879.3 1178.7 L879.9 1181.7 L880.4 1185.7 L881.0 1188.3 L881.5 1190.4 L882.1 1192.8 L882.6 1196.5 L883.2 1199.8 L883.7 1202.8 L884.3 1206.1 L884.8 1209.4 L885.4 1213.6 L885.9 1217.3 L886.5 1220.4 L887.0 1223.5 L887.6 1226.4 L888.2 1229.5 L888.7 1232.3 L889.3 1235.2 L889.8 1238.0 L890.4 1240.8 L890.9 1243.9 L891.5 1246.3 L892.0 1248.7 L892.6 1251.3 L893.1 1254.0 L893.7 1257.1 L894.2 1259.9 L894.8 1262.4 L895.3 1265.6 L895.9 1268.6 L896.4 1270.3 L897.0 1272.5 L897.6 1276.4 L898.1 1278.9 L898.7 1280.5 L899.2 1283.2 L899.8 1284.9 L900.3 1286.5 L900.9 1289.1 L901.4 1291.6 L902.0 1293.8 L902.5 1295.7 L903.1 1297.8 L903.6 1300.3 L904.2 1302.3 L904.7 1303.8 L905.3 1305.2 L905.9 1306.8 L906.4 1307.7 L907.0 1308.1 L907.5 1308.9 L908.1 1309.4 L908.6 1310.4 L909.2 1310.5 L909.7 1309.8 L910.3 1309.7 L910.8 1308.9 L911.4 1307.7 L911.9 1306.5 L912.5 1304.5 L913.0 1302.6 L913.6 1300.4 L914.2 1298.5 L914.7 1297.3 L915.3 1295.0 L915.8 1293.0 L916.4 1289.9 L916.9 1286.2 L917.5 1283.5 L918.0 1280.3 L918.6 1277.3 L919.1 1273.9 L919.7 1270.3 L920.2 1266.8 L920.8 1262.8 L921.3 1259.4 L921.9 1255.4 L922.4 1251.9 L923.0 1248.7 L923.6 1245.1 L924.1 1242.2 L924.7 1238.3 L925.2 1234.3 L925.8 1230.9 L926.3 1227.4 L926.9 1224.0 L927.4 1220.2 L928.0 1216.6 L928.5 1213.2 L929.1 1209.0 L929.6 1206.0 L930.2 1203.1 L930.7 1199.2 L931.3 1195.6 L931.9 1192.3 L932.4 1188.5 L933.0 1184.1 L933.5 1180.5 L934.1 1178.0 L934.6 1174.2 L935.2 1169.6 L935.7 1166.8 L936.3 1164.8 L936.8 1162.4 L937.4 1157.7 L937.9 1153.0 L938.5 1151.1 L939.0 1150.1 L939.6 1146.8 L940.2 1143.4 L940.7 1140.6 L941.3 1138.7 L941.8 1137.4 L942.4 1135.0 L942.9 1132.9 L943.5 1131.4 L944.0 1129.4 L944.6 1127.4 L945.1 1127.4 L945.7 1125.0 L946.2 1122.5 L946.8 1123.8 L947.3 1122.9 L947.9 1119.9 L948.4 1118.8 L949.0 1116.1 L949.6 1116.1 L950.1 1117.4 L950.7 1117.9 L951.2 1118.8 L951.8 1117.3 L952.3 1115.6 L952.9 1115.1 L953.4 1114.4 L954.0 1113.5 L954.5 1113.3 L955.1 1114.4 L955.6 1115.1 L956.2 1116.0 L956.7 1116.4 L957.3 1115.5 L957.9 1116.8 L958.4 1120.9 L959.0 1121.4 L959.5 1115.9 L960.1 1115.7 L960.6 1119.3 L961.2 1119.4 L961.7 1118.0 L962.3 1118.1 L962.8 1119.7 L963.4 1121.6 L963.9 1122.0 L964.5 1122.2 L965.0 1121.9 L965.6 1119.6 L966.2 1119.3 L966.7 1121.7 L967.3 1124.0 L967.8 1125.1 L968.4 1124.1 L968.9 1122.6 L969.5 1122.7 L970.0 1123.2 L970.6 1125.4 L971.1 1127.8 L971.7 1126.0 L972.2 1125.4 L972.8 1125.1 L973.3 1126.8 L973.9 1130.0 L974.4 1129.5 L975.0 1128.9 L975.6 1128.3 L976.1 1130.1 L976.7 1131.7 L977.2 1134.1 L977.8 1137.0 L978.3 1139.1 L978.9 1141.4 L979.4 1143.4 L980.0 1145.3 L980.5 1144.8 L981.1 1148.6 L981.6 1153.5 L982.2 1154.4 L982.7 1156.6 L983.3 1158.4 L983.9 1161.4 L984.4 1164.2 L985.0 1166.5 L985.5 1168.9 L986.1 1170.9 L986.6 1173.8 L987.2 1176.8 L987.7 1180.5 L988.3 1183.5 L988.8 1185.0 L989.4 1187.6 L989.9 1190.7 L990.5 1194.4 L991.0 1197.8 L991.6 1200.2 L992.2 1204.9 L992.7 1208.7 L993.3 1210.5 L993.8 1214.4 L994.4 1218.2 L994.9 1221.2 L995.5 1224.4 L996.0 1227.6 L996.6 1231.1 L997.1 1234.0 L997.7 1236.8 L998.2 1239.7 L998.8 1242.6 L999.3 1244.9 L999.9 1247.5 L1000.5 1251.0 L1001.0 1253.8 L1001.6 1255.9 L1002.1 1258.9 L1002.7 1261.6 L1003.2 1263.3 L1003.8 1265.8 L1004.3 1268.7 L1004.9 1272.0 L1005.4 1274.4 L1006.0 1276.7 L1006.5 1278.9 L1007.1 1281.4 L1007.6 1284.3 L1008.2 1287.0 L1008.7 1289.2 L1009.3 1291.0 L1009.9 1292.7 L1010.4 1294.9 L1011.0 1297.0 L1011.5 1298.8 L1012.1 1301.5 L1012.6 1304.0 L1013.2 1305.7 L1013.7 1306.9 L1014.3 1308.1 L1014.8 1308.6 L1015.4 1309.0 L1015.9 1309.6 L1016.5 1310.3 L1017.0 1311.2 L1017.6 1311.5 L1018.2 1311.3 L1018.7 1310.5 L1019.3 1309.5 L1019.8 1308.1 L1020.4 1307.3 L1020.9 1305.9 L1021.5 1303.1 L1022.0 1301.5 L1022.6 1299.6 L1023.1 1297.4 L1023.7 1294.8 L1024.2 1291.9 L1024.8 1289.6 L1025.3 1286.7 L1025.9 1283.7 L1026.5 1280.8 L1027.0 1277.0 L1027.6 1274.0 L1028.1 1270.4 L1028.7 1266.6 L1029.2 1262.8 L1029.8 1259.3 L1030.3 1256.5 L1030.9 1253.2 L1031.4 1249.1 L1032.0 1245.1 L1032.5 1241.5 L1033.1 1238.2 L1033.6 1234.5 L1034.2 1230.8 L1034.7 1227.5 L1035.3 1223.4 L1035.9 1219.7 L1036.4 1217.2 L1037.0 1213.3 L1037.5 1209.0 L1038.1 1205.9 L1038.6 1201.7 L1039.2 1198.1 L1039.7 1194.7 L1040.3 1190.7 L1040.8 1186.1 L1041.4 1183.4 L1041.9 1181.0 L1042.5 1176.5 L1043.0 1172.6 L1043.6 1169.7 L1044.2 1167.6 L1044.7 1163.5 L1045.3 1160.4 L1045.8 1158.1 L1046.4 1154.9 L1046.9 1152.0 L1047.5 1150.1 L1048.0 1148.1 L1048.6 1144.6 L1049.1 1141.6 L1049.7 1138.3 L1050.2 1135.7 L1050.8 1134.0 L1051.3 1132.6 L1051.9 1130.1 L1052.5 1128.8 L1053.0 1128.2 L1053.6 1127.4 L1054.1 1126.8 L1054.7 1123.2 L1055.2 1121.0 L1055.8 1122.5 L1056.3 1121.6 L1056.9 1119.2 L1057.4 1119.5 L1058.0 1118.2 L1058.5 1116.6 L1059.1 1116.3 L1059.6 1114.5 L1060.2 1114.8 L1060.7 1114.4 L1061.3 1114.0 L1061.9 1115.4 L1062.4 1113.9 L1063.0 1113.4 L1063.5 1115.4 L1064.1 1116.1 L1064.6 1115.8 L1065.2 1117.4 L1065.7 1117.3 L1066.3 1116.2 L1066.8 1118.6 L1067.4 1119.9 L1067.9 1118.1 L1068.5 1118.7 L1069.0 1117.8 L1069.6 1118.0 L1070.2 1120.2 L1070.7 1122.0 L1071.3 1122.6 L1071.8 1120.9 L1072.4 1120.7 L1072.9 1120.3 L1073.5 1121.4 L1074.0 1119.9 L1074.6 1119.2 L1075.1 1122.3 L1075.7 1123.1 L1076.2 1125.5 L1076.8 1126.7 L1077.3 1123.2 L1077.9 1123.5 L1078.5 1124.9 L1079.0 1125.8 L1079.6 1113.0 L1080.1 1124.7 L1080.7 1125.9 L1081.2 1125.6 L1081.8 1124.5 L1082.3 1125.2 L1082.9 1128.9 L1083.4 1129.9 L1084.0 1129.0 L1084.5 1131.6 L1085.1 1134.8 L1085.6 1136.0 L1086.2 1136.9 L1086.7 1138.9 L1087.3 1141.7 L1087.9 1144.0 L1088.4 1145.8 L1089.0 1148.7 L1089.5 1151.2 L1090.1 1153.8 L1090.6 1157.4 L1091.2 1159.3 L1091.7 1160.1 L1092.3 1160.8 L1092.8 1165.1 L1093.4 1169.5 L1093.9 1171.2 L1094.5 1173.3 L1095.0 1175.9 L1095.6 1178.7 L1096.2 1180.4 L1096.7 1183.7 L1097.3 1187.1 L1097.8 1189.0 L1098.4 1191.8 L1098.9 1196.6 L1099.5 1199.5 L1100.0 1202.6 L1100.6 1206.9 L1101.1 1210.4 L1101.7 1214.2 L1102.2 1217.8 L1102.8 1220.8 L1103.3 1224.2 L1103.9 1228.0 L1104.5 1231.0 L1105.0 1233.6 L1105.6 1237.1 L1106.1 1239.7 L1106.7 1242.2 L1107.2 1245.1 L1107.8 1247.2 L1108.3 1250.2 L1108.9 1253.2 L1109.4 1256.2 L1110.0 1259.3 L1110.5 1262.4 L1111.1 1264.9 L1111.6 1267.2 L1112.2 1270.6 L1112.7 1273.0 L1113.3 1274.6 L1113.9 1277.2 L1114.4 1279.9 L1115.0 1282.7 L1115.5 1285.8 L1116.1 1288.2 L1116.6 1290.4 L1117.2 1293.0 L1117.7 1294.8 L1118.3 1296.6 L1118.8 1299.3 L1119.4 1301.5 L1119.9 1303.6 L1120.5 1305.5 L1121.0 1306.9 L1121.6 1308.9 L1122.2 1322.7 L1122.7 1311.6 L1123.3 1311.5 L1123.8 1312.8 L1124.4 1314.5 L1124.9 1315.3 L1125.5 1315.5 L1126.0 1315.3 L1126.6 1314.8 L1127.1 1313.7 L1127.7 1312.7 L1128.2 1311.9 L1128.8 1310.6 L1129.3 1308.4 L1129.9 1305.9 L1130.5 1303.9 L1131.0 1302.3 L1131.6 1300.0 L1132.1 1297.3 L1132.7 1294.9 L1133.2 1291.9 L1133.8 1289.2 L1134.3 1286.1 L1134.9 1283.0 L1135.4 1279.6 L1136.0 1275.6 L1136.5 1272.0 L1137.1 1268.2 L1137.6 1263.7 L1138.2 1260.2 L1138.8 1257.3 L1139.3 1253.9 L1139.9 1249.9 L1140.4 1245.5 L1141.0 1241.9 L1141.5 1238.8 L1142.1 1235.6 L1142.6 1231.8 L1143.2 1227.4 L1143.7 1224.0 L1144.3 1220.6 L1144.8 1217.0 L1145.4 1213.1 L1145.9 1208.7 L1146.5 1205.1 L1147.0 1201.8 L1147.6 1198.2 L1148.2 1194.9 L1148.7 1191.6 L1149.3 1187.8 L1149.8 1183.7 L1150.4 1179.9 L1150.9 1175.9 L1151.5 1172.1 L1152.0 1168.5 L1152.6 1165.4 L1153.1 1163.3 L1153.7 1160.7 L1154.2 1158.6 L1154.8 1154.7 L1155.3 1151.1 L1155.9 1149.7 L1156.5 1145.3 L1157.0 1143.1 L1157.6 1142.5 L1158.1 1139.4 L1158.7 1137.2 L1159.2 1135.0 L1159.8 1132.4 L1160.3 1130.1 L1160.9 1128.5 L1161.4 1126.7 L1162.0 1125.3 L1162.5 1123.9 L1163.1 1121.0 L1163.6 1122.0 L1164.2 1122.4 L1164.8 1119.6 L1165.3 1120.5 L1165.9 1122.9 L1166.4 1120.0 L1167.0 1116.8 L1167.5 1115.7 L1168.1 1114.6 L1168.6 1115.1 L1169.2 1115.2 L1169.7 1115.1 L1170.3 1115.7 L1170.8 1116.5 L1171.4 1114.9 L1171.9 1114.8 L1172.5 1115.4 L1173.0 1115.4 L1173.6 1116.6 L1174.2 1117.9 L1174.7 1117.1 L1175.3 1117.3 L1175.8 1118.2 L1176.4 1119.3 L1176.9 1119.7 L1177.5 1132.6 L1178.0 1119.4 L1178.6 1121.6 L1179.1 1121.5 L1179.7 1120.1 L1180.2 1120.8 L1180.8 1121.8 L1181.3 1120.8 L1181.9 1120.6 L1182.5 1106.8 L1183.0 1121.6 L1183.6 1121.6 L1184.1 1123.4 L1184.7 1123.0 L1185.2 1123.0 L1185.8 1123.3 L1186.3 1124.0 L1186.9 1124.8 L1187.4 1123.4 L1188.0 1123.6 L1188.5 1124.7 L1189.1 1125.1 L1189.6 1125.2 L1190.2 1126.0 L1190.8 1127.0 L1191.3 1127.8 L1191.9 1127.2 L1192.4 1128.8 L1193.0 1131.1 L1193.5 1132.8 L1194.1 1134.9 L1194.6 1135.2 L1195.2 1138.8 L1195.7 1140.9 L1196.3 1143.3 L1196.8 1147.7 L1197.4 1149.3 L1197.9 1152.0 L1198.5 1153.9 L1199.0 1155.1 L1199.6 1159.8 L1200.2 1163.3 L1200.7 1164.4 L1201.3 1165.6 L1201.8 1168.3 L1202.4 1171.4 L1202.9 1173.0 L1203.5 1175.7 L1204.0 1178.5 L1204.6 1181.4 L1205.1 1183.8 L1205.7 1185.3 L1206.2 1189.4 L1206.8 1194.3 L1207.3 1197.8 L1207.9 1199.7 L1208.5 1202.7 L1209.0 1206.1 L1209.6 1209.9 L1210.1 1214.2 L1210.7 1217.1 L1211.2 1219.7 L1211.8 1223.0 L1212.3 1226.8 L1212.9 1229.6 L1213.4 1232.2 L1214.0 1235.0 L1214.5 1237.9 L1215.1 1241.1 L1215.6 1243.8 L1216.2 1247.1 L1216.8 1249.7 L1217.3 1251.3 L1217.9 1253.8 L1218.4 1257.1 L1219.0 1260.4 L1219.5 1262.3 L1220.1 1264.6 L1220.6 1267.7 L1221.2 1270.1 L1221.7 1272.8 L1222.3 1275.4 L1222.8 1277.3 L1223.4 1280.0 L1223.9 1282.3 L1224.5 1284.3 L1225.0 1287.1 L1225.6 1289.1 L1226.2 1291.0 L1226.7 1293.1 L1227.3 1295.3 L1227.8 1297.9 L1228.4 1299.7 L1228.9 1301.5 L1229.5 1304.0 L1230.0 1305.2 L1230.6 1306.1 L1231.1 1307.3 L1231.7 1308.2 L1232.2 1308.7 L1232.8 1308.8" fill="none" stroke="#4577b6" stroke-width="3.00" stroke-linejoin="round" stroke-linecap="round"/>
<path d="M797.1 1273.9 L799.9 1273.2 L802.6 1272.6 L805.3 1272.2 L808.0 1271.8 L810.7 1271.6 L813.4 1271.3 L816.1 1271.1 L818.9 1271.0 L821.6 1271.0 L824.3 1271.1 L827.0 1271.3 L829.7 1271.6 L832.4 1271.9 L835.1 1272.2 L837.8 1272.6 L840.6 1272.9 L843.3 1273.1 L846.0 1273.4 L848.7 1273.8 L851.4 1274.1 L854.1 1274.4 L856.8 1274.6 L859.5 1274.8 L862.3 1274.9 L865.0 1274.8 L867.7 1274.5 L870.4 1274.1 L873.1 1273.6 L875.8 1273.0 L878.5 1272.4 L881.2 1271.8 L884.0 1271.3 L886.7 1270.7 L889.4 1270.0 L892.1 1269.3 L894.8 1268.6 L897.5 1267.8 L900.2 1267.0 L902.9 1266.2 L903.6 1274.9 L906.5 1274.1 L909.3 1273.4 L912.1 1272.8 L914.9 1272.3 L917.7 1271.9 L920.6 1271.7 L923.4 1271.4 L926.2 1271.2 L929.0 1271.0 L931.8 1271.0 L934.7 1271.1 L937.5 1271.3 L940.3 1271.6 L943.1 1271.9 L945.9 1272.3 L948.7 1272.6 L951.6 1272.9 L954.4 1273.2 L957.2 1273.5 L960.0 1273.9 L962.8 1274.2 L965.7 1274.5 L968.5 1274.7 L971.3 1274.8 L974.1 1274.8 L976.9 1274.6 L979.8 1274.3 L982.6 1273.8 L985.4 1273.2 L988.2 1272.6 L991.0 1272.0 L993.9 1271.4 L996.7 1270.8 L999.5 1270.2 L1002.3 1269.5 L1005.1 1268.7 L1008.0 1267.9 L1010.8 1267.1 L1013.6 1266.2 L1014.3 1274.9 L1017.1 1274.1 L1019.9 1273.4 L1022.7 1272.8 L1025.6 1272.3 L1028.4 1271.9 L1031.2 1271.7 L1034.0 1271.4 L1036.8 1271.2 L1039.7 1271.0 L1042.5 1271.0 L1045.3 1271.1 L1048.1 1271.3 L1050.9 1271.6 L1053.7 1271.9 L1056.6 1272.3 L1059.4 1272.6 L1062.2 1272.9 L1065.0 1273.2 L1067.8 1273.5 L1070.7 1273.9 L1073.5 1274.2 L1076.3 1274.5 L1079.1 1274.7 L1081.9 1274.8 L1084.8 1274.8 L1087.6 1274.6 L1090.4 1274.3 L1093.2 1273.8 L1096.0 1273.2 L1098.9 1272.6 L1101.7 1272.0 L1104.5 1271.4 L1107.3 1270.8 L1110.1 1270.2 L1113.0 1269.5 L1115.8 1268.7 L1118.6 1267.9 L1121.4 1267.1 L1124.2 1266.2 L1124.9 1274.9 L1127.7 1274.1 L1130.6 1273.4 L1133.4 1272.8 L1136.2 1272.3 L1139.0 1271.9 L1141.8 1271.7 L1144.7 1271.4 L1147.5 1271.2 L1150.3 1271.0 L1153.1 1271.0 L1155.9 1271.1 L1158.8 1271.3 L1161.6 1271.6 L1164.4 1271.9 L1167.2 1272.3 L1170.0 1272.6 L1172.8 1272.9 L1175.7 1273.2 L1178.5 1273.5 L1181.3 1273.9 L1184.1 1274.2 L1186.9 1274.5 L1189.8 1274.7 L1192.6 1274.8 L1195.4 1274.8 L1198.2 1274.6 L1201.0 1274.3 L1203.9 1273.8 L1206.7 1273.2 L1209.5 1272.6 L1212.3 1272.0 L1215.1 1271.4 L1218.0 1270.8 L1220.8 1270.2 L1223.6 1269.5 L1226.4 1268.7 L1229.2 1267.9 L1232.0 1267.1 L1234.9 1266.2" fill="none" stroke="#be4b48" stroke-width="2.30" stroke-linejoin="round" stroke-linecap="round"/>
<text x="17.2" y="1521.8" font-family="'Liberation Sans', 'DejaVu Sans', sans-serif" font-size="33.00" text-anchor="start" font-weight="bold" stroke="#000" stroke-width="0.35">F</text>
<text x="249.0" y="1531.0" font-family="'Liberation Sans', 'DejaVu Sans', sans-serif" font-size="44.00" text-anchor="start" font-weight="bold" textLength="186.0" lengthAdjust="spacingAndGlyphs">Section 5</text>
<text x="366.0" y="1580.0" font-family="'Liberation Serif', 'DejaVu Serif', serif" font-size="19.20" text-anchor="middle" font-weight="bold">Above the superior mesenteric</text>
<path d="M105.9 1601.0 V1890.0 H588.9" fill="none" stroke="#8e8e8e" stroke-width="1.6"/>
<text x="89.5" y="1896.4" font-family="'Liberation Serif', 'DejaVu Serif', serif" font-size="19.20" text-anchor="end">90</text>
<text x="89.5" y="1848.3" font-family="'Liberation Serif', 'DejaVu Serif', serif" font-size="19.20" text-anchor="end">95</text>
<text x="89.5" y="1800.1" font-family="'Liberation Serif', 'DejaVu Serif', serif" font-size="19.20" text-anchor="end">100</text>
<text x="89.5" y="1751.9" font-family="'Liberation Serif', 'DejaVu Serif', serif" font-size="19.20" text-anchor="end">105</text>
<text x="89.5" y="1703.8" font-family="'Liberation Serif', 'DejaVu Serif', serif" font-size="19.20" text-anchor="end">110</text>
<text x="89.5" y="1655.6" font-family="'Liberation Serif', 'DejaVu Serif', serif" font-size="19.20" text-anchor="end">115</text>
<text x="89.5" y="1607.4" font-family="'Liberation Serif', 'DejaVu Serif', serif" font-size="19.20" text-anchor="end">120</text>
<text x="105.9" y="1918.8" font-family="'Liberation Serif', 'DejaVu Serif', serif" font-size="19.20" text-anchor="middle">0</text>
<text x="243.9" y="1918.8" font-family="'Liberation Serif', 'DejaVu Serif', serif" font-size="19.20" text-anchor="middle">1</text>
<text x="381.9" y="1918.8" font-family="'Liberation Serif', 'DejaVu Serif', serif" font-size="19.20" text-anchor="middle">2</text>
<text x="519.9" y="1918.8" font-family="'Liberation Serif', 'DejaVu Serif', serif" font-size="19.20" text-anchor="middle">3</text>
<text x="338.0" y="1955.0" font-family="'Liberation Serif', 'DejaVu Serif', serif" font-size="19.20" text-anchor="middle" font-weight="bold">Time (Sec)</text>
<text transform="translate(40.0 1768.0) rotate(-90)" font-family="'Liberation Serif', 'DejaVu Serif', serif" font-size="19.20" font-weight="bold" text-anchor="middle">Pressure (mmHg)</text>
<path d="M555.0 1721.0 H594.7" stroke="#456fa6" stroke-width="2.1"/>
<path d="M555.0 1754.0 H594.7" stroke="#b0484c" stroke-width="2.1"/>
<text x="598.0" y="1727.5" font-family="'Liberation Serif', 'DejaVu Serif', serif" font-size="19.20" text-anchor="start">Pressure</text>
<text x="598.0" y="1760.5" font-family="'Liberation Serif', 'DejaVu Serif', serif" font-size="19.20" text-anchor="start">Mean pressure</text>
<path d="M105.9 1824.5 L106.5 1825.3 L107.0 1826.2 L107.6 1827.1 L108.1 1827.9 L108.7 1828.8 L109.2 1829.6 L109.8 1830.5 L110.3 1831.3 L110.9 1832.2 L111.4 1831.2 L112.0 1830.1 L112.5 1828.3 L113.1 1826.6 L113.6 1824.1 L114.2 1820.8 L114.7 1817.8 L115.3 1814.3 L115.8 1810.5 L116.4 1807.1 L116.9 1803.8 L117.5 1800.5 L118.0 1796.5 L118.6 1793.3 L119.1 1790.2 L119.7 1786.0 L120.3 1782.7 L120.8 1779.7 L121.4 1776.1 L121.9 1772.8 L122.5 1768.5 L123.0 1764.4 L123.6 1761.5 L124.1 1758.0 L124.7 1753.9 L125.2 1750.0 L125.8 1746.6 L126.3 1742.5 L126.9 1738.7 L127.4 1735.2 L128.0 1731.0 L128.5 1727.4 L129.1 1723.6 L129.6 1719.9 L130.2 1715.1 L130.7 1711.4 L131.3 1708.7 L131.8 1705.2 L132.4 1702.5 L132.9 1698.5 L133.5 1694.4 L134.1 1691.0 L134.6 1687.3 L135.2 1683.1 L135.7 1678.6 L136.3 1674.7 L136.8 1672.9 L137.4 1670.2 L137.9 1666.4 L138.5 1665.5 L139.0 1664.5 L139.6 1661.6 L140.1 1657.3 L140.7 1654.9 L141.2 1654.5 L141.8 1651.1 L142.3 1649.0 L142.9 1648.6 L143.4 1646.2 L144.0 1644.5 L144.5 1646.1 L145.1 1646.4 L145.6 1642.4 L146.2 1641.6 L146.7 1640.2 L147.3 1638.0 L147.9 1638.3 L148.4 1637.3 L149.0 1638.8 L149.5 1639.4 L150.1 1638.4 L150.6 1637.1 L151.2 1634.1 L151.7 1634.4 L152.3 1635.6 L152.8 1637.2 L153.4 1637.6 L153.9 1635.8 L154.5 1635.7 L155.0 1634.9 L155.6 1633.4 L156.1 1634.3 L156.7 1635.6 L157.2 1637.4 L157.8 1637.6 L158.3 1636.3 L158.9 1639.1 L159.4 1639.2 L160.0 1638.6 L160.5 1638.4 L161.1 1637.8 L161.7 1639.2 L162.2 1638.5 L162.8 1639.3 L163.3 1641.8 L163.9 1642.1 L164.4 1642.2 L165.0 1643.6 L165.5 1643.7 L166.1 1643.0 L166.6 1644.5 L167.2 1646.8 L167.7 1645.6 L168.3 1643.5 L168.8 1644.3 L169.4 1645.1 L169.9 1644.8 L170.5 1645.9 L171.0 1646.6 L171.6 1647.6 L172.1 1650.4 L172.7 1650.8 L173.2 1651.0 L173.8 1651.2 L174.3 1650.0 L174.9 1650.7 L175.5 1652.0 L176.0 1651.2 L176.6 1651.3 L177.1 1653.7 L177.7 1656.5 L178.2 1655.7 L178.8 1666.6 L179.3 1661.1 L179.9 1662.9 L180.4 1661.7 L181.0 1662.8 L181.5 1665.6 L182.1 1666.8 L182.6 1668.0 L183.2 1671.5 L183.7 1675.1 L184.3 1676.9 L184.8 1679.1 L185.4 1682.5 L185.9 1686.3 L186.5 1689.3 L187.0 1691.8 L187.6 1694.1 L188.1 1697.9 L188.7 1701.3 L189.3 1705.0 L189.8 1708.5 L190.4 1711.5 L190.9 1715.1 L191.5 1717.6 L192.0 1719.9 L192.6 1723.5 L193.1 1727.7 L193.7 1731.1 L194.2 1733.8 L194.8 1736.7 L195.3 1739.7 L195.9 1742.0 L196.4 1745.1 L197.0 1748.7 L197.5 1751.6 L198.1 1754.5 L198.6 1758.2 L199.2 1760.4 L199.7 1762.0 L200.3 1764.6 L200.8 1768.0 L201.4 1772.0 L201.9 1774.7 L202.5 1776.0 L203.1 1778.4 L203.6 1780.7 L204.2 1783.2 L204.7 1785.9 L205.3 1788.0 L205.8 1790.4 L206.4 1793.2 L206.9 1795.6 L207.5 1797.3 L208.0 1799.6 L208.6 1802.3 L209.1 1804.6 L209.7 1806.8 L210.2 1808.8 L210.8 1810.4 L211.3 1812.6 L211.9 1814.9 L212.4 1817.1 L213.0 1819.0 L213.5 1821.3 L214.1 1822.9 L214.6 1823.6 L215.2 1825.1 L215.7 1826.4 L216.3 1827.9 L216.9 1829.2 L217.4 1829.9 L218.0 1830.7 L218.5 1831.5 L219.1 1831.3 L219.6 1831.1 L220.2 1830.7 L220.7 1828.2 L221.3 1825.7 L221.8 1823.2 L222.4 1820.4 L222.9 1817.3 L223.5 1814.0 L224.0 1810.1 L224.6 1805.7 L225.1 1802.2 L225.7 1798.4 L226.2 1794.4 L226.8 1791.8 L227.3 1788.4 L227.9 1784.4 L228.4 1781.5 L229.0 1778.7 L229.5 1774.3 L230.1 1770.4 L230.7 1767.0 L231.2 1762.8 L231.8 1760.0 L232.3 1756.3 L232.9 1751.8 L233.4 1747.8 L234.0 1744.2 L234.5 1740.6 L235.1 1736.6 L235.6 1733.0 L236.2 1728.7 L236.7 1724.4 L237.3 1720.7 L237.8 1717.2 L238.4 1713.6 L238.9 1710.6 L239.5 1707.8 L240.0 1703.2 L240.6 1699.3 L241.1 1696.4 L241.7 1692.5 L242.2 1689.6 L242.8 1686.1 L243.3 1681.5 L243.9 1678.5 L244.5 1676.4 L245.0 1672.1 L245.6 1668.3 L246.1 1667.6 L246.7 1665.8 L247.2 1663.7 L247.8 1662.1 L248.3 1660.0 L248.9 1657.0 L249.4 1652.8 L250.0 1649.4 L250.5 1647.9 L251.1 1645.8 L251.6 1643.6 L252.2 1644.3 L252.7 1644.4 L253.3 1642.0 L253.8 1639.5 L254.4 1637.7 L254.9 1638.8 L255.5 1641.1 L256.0 1636.9 L256.6 1634.6 L257.1 1635.2 L257.7 1634.5 L258.3 1636.6 L258.8 1634.9 L259.4 1632.6 L259.9 1632.3 L260.5 1631.9 L261.0 1634.4 L261.6 1634.9 L262.1 1632.9 L262.7 1633.6 L263.2 1634.6 L263.8 1632.8 L264.3 1634.5 L264.9 1636.4 L265.4 1635.2 L266.0 1634.2 L266.5 1634.9 L267.1 1637.0 L267.6 1636.8 L268.2 1637.1 L268.7 1637.7 L269.3 1637.3 L269.8 1638.4 L270.4 1638.4 L270.9 1637.6 L271.5 1651.8 L272.1 1641.5 L272.6 1640.9 L273.2 1642.2 L273.7 1642.4 L274.3 1641.5 L274.8 1642.2 L275.4 1644.1 L275.9 1645.6 L276.5 1646.0 L277.0 1645.3 L277.6 1646.5 L278.1 1647.3 L278.7 1646.6 L279.2 1645.6 L279.8 1646.9 L280.3 1646.9 L280.9 1646.4 L281.4 1648.1 L282.0 1649.1 L282.5 1650.4 L283.1 1652.0 L283.6 1652.8 L284.2 1652.9 L284.7 1653.4 L285.3 1652.9 L285.9 1652.2 L286.4 1653.9 L287.0 1655.6 L287.5 1657.6 L288.1 1661.1 L288.6 1661.9 L289.2 1661.7 L289.7 1662.5 L290.3 1663.1 L290.8 1666.4 L291.4 1669.9 L291.9 1672.2 L292.5 1675.9 L293.0 1679.1 L293.6 1682.1 L294.1 1684.7 L294.7 1688.6 L295.2 1693.6 L295.8 1695.9 L296.3 1697.2 L296.9 1699.9 L297.4 1703.9 L298.0 1707.4 L298.5 1710.8 L299.1 1714.1 L299.7 1717.5 L300.2 1721.5 L300.8 1724.1 L301.3 1727.3 L301.9 1731.4 L302.4 1733.6 L303.0 1736.0 L303.5 1740.2 L304.1 1742.7 L304.6 1745.3 L305.2 1748.7 L305.7 1751.2 L306.3 1753.3 L306.8 1756.0 L307.4 1759.2 L307.9 1761.9 L308.5 1764.7 L309.0 1767.8 L309.6 1770.5 L310.1 1772.8 L310.7 1775.6 L311.2 1777.8 L311.8 1779.6 L312.3 1782.0 L312.9 1784.8 L313.5 1787.1 L314.0 1789.6 L314.6 1792.0 L315.1 1793.8 L315.7 1796.1 L316.2 1798.6 L316.8 1800.7 L317.3 1803.1 L317.9 1805.4 L318.4 1807.3 L319.0 1810.0 L319.5 1811.9 L320.1 1813.3 L320.6 1815.6 L321.2 1817.8 L321.7 1819.7 L322.3 1821.2 L322.8 1822.3 L323.4 1823.2 L323.9 1824.4 L324.5 1825.7 L325.0 1827.7 L325.6 1829.0 L326.1 1829.5 L326.7 1829.9 L327.3 1830.1 L327.8 1829.0 L328.4 1827.0 L328.9 1825.3 L329.5 1823.3 L330.0 1819.8 L330.6 1816.6 L331.1 1813.3 L331.7 1809.6 L332.2 1806.7 L332.8 1803.0 L333.3 1799.5 L333.9 1796.3 L334.4 1793.3 L335.0 1789.7 L335.5 1785.7 L336.1 1781.9 L336.6 1778.0 L337.2 1774.9 L337.7 1771.6 L338.3 1767.8 L338.8 1763.9 L339.4 1760.5 L339.9 1756.1 L340.5 1752.2 L341.1 1748.7 L341.6 1744.3 L342.2 1740.6 L342.7 1737.0 L343.3 1733.1 L343.8 1729.1 L344.4 1725.2 L344.9 1721.5 L345.5 1717.9 L346.0 1714.5 L346.6 1711.1 L347.1 1707.5 L347.7 1703.6 L348.2 1698.9 L348.8 1695.7 L349.3 1693.0 L349.9 1689.3 L350.4 1685.4 L351.0 1680.7 L351.5 1677.4 L352.1 1674.6 L352.6 1672.8 L353.2 1670.2 L353.7 1665.6 L354.3 1663.2 L354.9 1662.2 L355.4 1658.8 L356.0 1655.1 L356.5 1651.5 L357.1 1649.5 L357.6 1648.9 L358.2 1646.6 L358.7 1644.5 L359.3 1644.0 L359.8 1641.4 L360.4 1637.7 L360.9 1638.0 L361.5 1637.9 L362.0 1636.1 L362.6 1634.5 L363.1 1634.5 L363.7 1634.2 L364.2 1632.7 L364.8 1632.4 L365.3 1632.6 L365.9 1632.3 L366.4 1631.9 L367.0 1632.5 L367.5 1632.8 L368.1 1630.9 L368.7 1628.9 L369.2 1629.2 L369.8 1633.6 L370.3 1635.1 L370.9 1616.6 L371.4 1628.0 L372.0 1627.4 L372.5 1629.5 L373.1 1631.4 L373.6 1632.0 L374.2 1630.2 L374.7 1630.0 L375.3 1633.1 L375.8 1632.8 L376.4 1631.6 L376.9 1635.0 L377.5 1636.9 L378.0 1634.5 L378.6 1633.6 L379.1 1636.3 L379.7 1637.7 L380.2 1636.2 L380.8 1636.4 L381.3 1638.8 L381.9 1639.8 L382.5 1638.7 L383.0 1638.6 L383.6 1640.5 L384.1 1639.3 L384.7 1638.8 L385.2 1642.8 L385.8 1643.8 L386.3 1645.5 L386.9 1646.3 L387.4 1644.5 L388.0 1642.4 L388.5 1642.8 L389.1 1645.2 L389.6 1645.4 L390.2 1646.2 L390.7 1648.0 L391.3 1647.7 L391.8 1647.4 L392.4 1648.0 L392.9 1648.3 L393.5 1651.1 L394.0 1653.2 L394.6 1653.6 L395.1 1654.5 L395.7 1654.9 L396.3 1656.0 L396.8 1658.2 L397.4 1658.7 L397.9 1659.2 L398.5 1662.6 L399.0 1666.8 L399.6 1670.1 L400.1 1672.8 L400.7 1676.0 L401.2 1679.2 L401.8 1681.7 L402.3 1684.1 L402.9 1687.1 L403.4 1690.7 L404.0 1693.9 L404.5 1695.6 L405.1 1698.9 L405.6 1703.4 L406.2 1705.7 L406.7 1708.8 L407.3 1713.8 L407.8 1717.0 L408.4 1720.5 L408.9 1724.3 L409.5 1727.0 L410.1 1730.3 L410.6 1734.3 L411.2 1736.9 L411.7 1739.2 L412.3 1743.0 L412.8 1746.4 L413.4 1748.6 L413.9 1751.4 L414.5 1754.4 L415.0 1757.5 L415.6 1760.8 L416.1 1763.8 L416.7 1766.4 L417.2 1768.9 L417.8 1772.3 L418.3 1775.6 L418.9 1777.4 L419.4 1779.2 L420.0 1781.9 L420.5 1784.7 L421.1 1787.3 L421.6 1790.1 L422.2 1792.2 L422.7 1794.2 L423.3 1796.7 L423.9 1799.4 L424.4 1801.5 L425.0 1782.3 L425.5 1805.9 L426.1 1808.3 L426.6 1834.8 L427.2 1812.8 L427.7 1814.8 L428.3 1816.6 L428.8 1818.3 L429.4 1820.8 L429.9 1823.3 L430.5 1824.7 L431.0 1826.0 L431.6 1827.1 L432.1 1828.7 L432.7 1830.5 L433.2 1830.7 L433.8 1831.7 L434.3 1832.9 L434.9 1833.5 L435.4 1833.2 L436.0 1831.8 L436.5 1830.3 L437.1 1828.7 L437.7 1825.6 L438.2 1822.7 L438.8 1819.9 L439.3 1816.6 L439.9 1812.7 L440.4 1808.9 L441.0 1805.9 L441.5 1802.3 L442.1 1798.9 L442.6 1795.6 L443.2 1791.8 L443.7 1788.0 L444.3 1784.3 L444.8 1780.8 L445.4 1777.4 L445.9 1773.5 L446.5 1769.5 L447.0 1746.7 L447.6 1762.3 L448.1 1758.3 L448.7 1754.2 L449.2 1750.0 L449.8 1746.3 L450.3 1742.3 L450.9 1738.8 L451.5 1734.7 L452.0 1730.5 L452.6 1727.3 L453.1 1723.4 L453.7 1719.8 L454.2 1715.4 L454.8 1711.2 L455.3 1708.9 L455.9 1705.9 L456.4 1701.7 L457.0 1697.6 L457.5 1693.4 L458.1 1688.9 L458.6 1685.0 L459.2 1681.6 L459.7 1679.3 L460.3 1675.7 L460.8 1671.2 L461.4 1670.3 L461.9 1668.9 L462.5 1665.1 L463.0 1662.6 L463.6 1659.0 L464.1 1655.5 L464.7 1653.8 L465.3 1652.8 L465.8 1652.4 L466.4 1650.2 L466.9 1647.3 L467.5 1645.5 L468.0 1645.2 L468.6 1644.6 L469.1 1641.9 L469.7 1639.1 L470.2 1638.1 L470.8 1637.7 L471.3 1636.4 L471.9 1635.5 L472.4 1633.6 L473.0 1633.8 L473.5 1634.3 L474.1 1634.5 L474.6 1633.2 L475.2 1630.8 L475.7 1623.0 L476.3 1631.1 L476.8 1632.0 L477.4 1633.3 L477.9 1632.8 L478.5 1630.2 L479.1 1633.4 L479.6 1633.1 L480.2 1631.4 L480.7 1632.9 L481.3 1633.2 L481.8 1634.2 L482.4 1632.9 L482.9 1633.4 L483.5 1632.8 L484.0 1633.1 L484.6 1634.7 L485.1 1635.8 L485.7 1637.5 L486.2 1637.8 L486.8 1637.4 L487.3 1636.0 L487.9 1637.0 L488.4 1640.3 L489.0 1641.4 L489.5 1642.0 L490.1 1641.5 L490.6 1640.7 L491.2 1642.6 L491.7 1643.4 L492.3 1642.1 L492.9 1641.9 L493.4 1643.8 L494.0 1644.0 L494.5 1643.7 L495.1 1645.4 L495.6 1646.2 L496.2 1644.7 L496.7 1646.4 L497.3 1647.8 L497.8 1647.6 L498.4 1648.6 L498.9 1648.8 L499.5 1649.8 L500.0 1650.9 L500.6 1651.8 L501.1 1651.9 L501.7 1652.3 L502.2 1654.9 L502.8 1655.8 L503.3 1654.6 L503.9 1655.3 L504.4 1657.4 L505.0 1660.8 L505.5 1662.3 L506.1 1662.6 L506.7 1664.4 L507.2 1668.1 L507.8 1672.0 L508.3 1674.7 L508.9 1677.7 L509.4 1681.5 L510.0 1684.7 L510.5 1687.1 L511.1 1690.0 L511.6 1691.9 L512.2 1695.1 L512.7 1699.3 L513.3 1701.7 L513.8 1705.1 L514.4 1708.4 L514.9 1711.4 L515.5 1715.6 L516.0 1719.5 L516.6 1722.5 L517.1 1725.6 L517.7 1728.8 L518.2 1732.1 L518.8 1735.0 L519.3 1738.1 L519.9 1741.5 L520.5 1744.3 L521.0 1747.5 L521.6 1750.5 L522.1 1753.1 L522.7 1756.3 L523.2 1759.7 L523.8 1761.6 L524.3 1763.9 L524.9 1767.0 L525.4 1769.8 L526.0 1771.9 L526.5 1774.3 L527.1 1777.9 L527.6 1780.2 L528.2 1782.4 L528.7 1784.9 L529.3 1787.0 L529.8 1789.2 L530.4 1791.3 L530.9 1794.1 L531.5 1796.1 L532.0 1797.5 L532.6 1800.3 L533.1 1803.1 L533.7 1805.1 L534.3 1807.6 L534.8 1810.3 L535.4 1812.9 L535.9 1814.3 L536.5 1816.0 L537.0 1818.5 L537.6 1819.9 L538.1 1821.0 L538.7 1822.9 L539.2 1824.9 L539.8 1826.4 L540.3 1826.9 L540.9 1828.7 L541.4 1830.6 L542.0 1831.2 L542.5 1831.4 L543.1 1831.9 L543.6 1829.3 L544.2 1823.5 L544.7 1817.8 L545.3 1816.8 L545.8 1815.8 L546.4 1814.9 L546.9 1813.9 L547.5 1812.9" fill="none" stroke="#4577b6" stroke-width="3.00" stroke-linejoin="round" stroke-linecap="round"/>
<path d="M105.9 1748.4 L108.1 1748.3 L110.3 1748.1 L112.6 1748.0 L114.8 1747.9 L117.0 1747.8 L119.2 1747.7 L121.4 1747.6 L123.7 1747.5 L125.9 1747.4 L128.1 1747.3 L130.3 1747.2 L132.5 1747.2 L134.7 1747.1 L137.0 1747.1 L139.2 1747.0 L141.4 1747.0 L143.6 1747.0 L145.8 1746.9 L148.1 1746.9 L150.3 1747.0 L152.5 1747.0 L154.7 1747.0 L156.9 1747.0 L159.2 1747.0 L161.4 1747.1 L163.6 1747.1 L165.8 1747.1 L168.0 1747.2 L170.3 1747.2 L172.5 1747.3 L174.7 1747.3 L176.9 1747.3 L179.1 1747.4 L181.3 1747.4 L183.6 1747.4 L185.8 1747.4 L188.0 1747.4 L190.2 1747.4 L192.4 1747.4 L194.7 1747.3 L196.9 1747.3 L199.1 1747.2 L201.3 1747.1 L203.5 1746.9 L205.8 1746.8 L208.0 1746.7 L210.2 1746.5 L212.4 1746.4 L214.6 1746.3 L216.9 1746.1 L219.1 1746.0 L221.3 1745.9 L223.5 1745.7 L225.7 1745.6 L228.0 1745.6 L230.2 1745.5 L232.4 1745.4 L234.6 1745.4 L236.8 1745.3 L239.0 1745.3 L241.3 1745.2 L243.5 1745.2 L245.7 1745.1 L247.9 1745.1 L250.1 1745.1 L252.4 1745.0 L254.6 1745.0 L256.8 1745.0 L259.0 1745.0 L261.2 1745.0 L263.5 1745.1 L265.7 1745.1 L267.9 1745.2 L270.1 1745.2 L272.3 1745.3 L274.6 1745.4 L276.8 1745.4 L279.0 1745.5 L281.2 1745.6 L283.4 1745.7 L285.6 1745.7 L287.9 1745.8 L290.1 1745.9 L292.3 1745.9 L294.5 1745.9 L296.7 1746.0 L299.0 1746.0 L301.2 1746.0 L303.4 1745.9 L305.6 1745.8 L307.8 1745.7 L310.1 1745.6 L312.3 1745.5 L314.5 1745.3 L316.7 1745.2 L318.9 1745.0 L321.2 1744.8 L323.4 1744.6 L325.6 1744.4 L327.8 1744.3 L330.0 1744.1 L332.2 1744.0 L334.5 1743.8 L336.7 1743.7 L338.9 1743.6 L341.1 1743.6 L343.3 1743.5 L345.6 1743.4 L347.8 1743.4 L350.0 1743.3 L352.2 1743.3 L354.4 1743.2 L356.7 1743.2 L358.9 1743.2 L361.1 1743.1 L363.3 1743.1 L365.5 1743.1 L367.8 1743.1 L370.0 1743.1 L372.2 1743.1 L374.4 1743.2 L376.6 1743.2 L378.8 1743.3 L381.1 1743.3 L383.3 1743.4 L385.5 1743.5 L387.7 1743.5 L389.9 1743.6 L392.2 1743.7 L394.4 1743.8 L396.6 1743.8 L398.8 1743.9 L401.0 1744.0 L403.3 1744.0 L405.5 1744.0 L407.7 1744.0 L409.9 1744.1 L412.1 1744.0 L414.4 1744.0 L416.6 1743.9 L418.8 1743.8 L421.0 1743.7 L423.2 1743.6 L425.4 1743.5 L427.7 1743.4 L429.9 1743.2 L432.1 1743.1 L434.3 1743.0 L436.5 1742.8 L438.8 1742.7 L441.0 1742.5 L443.2 1742.4 L445.4 1742.3 L447.6 1742.2 L449.9 1742.2 L452.1 1742.1 L454.3 1742.0 L456.5 1742.0 L458.7 1741.9 L461.0 1741.9 L463.2 1741.8 L465.4 1741.8 L467.6 1741.7 L469.8 1741.7 L472.1 1741.7 L474.3 1741.7 L476.5 1741.7 L478.7 1741.6 L480.9 1741.7 L483.1 1741.7 L485.4 1741.7 L487.6 1741.8 L489.8 1741.8 L492.0 1741.9 L494.2 1742.0 L496.5 1742.0 L498.7 1742.1 L500.9 1742.2 L503.1 1742.3 L505.3 1742.3 L507.6 1742.4 L509.8 1742.5 L512.0 1742.5 L514.2 1742.6 L516.4 1742.6 L518.7 1742.6 L520.9 1742.6 L523.1 1742.6 L525.3 1742.5 L527.5 1742.5 L529.7 1742.4 L532.0 1742.3 L534.2 1742.1 L536.4 1742.0 L538.6 1741.9 L540.8 1741.7 L543.1 1741.5 L545.3 1741.3 L547.5 1741.2" fill="none" stroke="#be4b48" stroke-width="2.30" stroke-linejoin="round" stroke-linecap="round"/>
<text x="722.1" y="1520.9" font-family="'Liberation Sans', 'DejaVu Sans', sans-serif" font-size="33.00" text-anchor="start" font-weight="bold" stroke="#000" stroke-width="0.35">G</text>
<text x="966.0" y="1525.7" font-family="'Liberation Sans', 'DejaVu Sans', sans-serif" font-size="44.00" text-anchor="start" font-weight="bold" textLength="186.0" lengthAdjust="spacingAndGlyphs">Section 6</text>
<text x="1059.7" y="1580.0" font-family="'Liberation Serif', 'DejaVu Serif', serif" font-size="19.20" text-anchor="middle" font-weight="bold">At superior mesenteric</text>
<path d="M803.9 1596.7 V1886.5 H1286.9" fill="none" stroke="#8e8e8e" stroke-width="1.6"/>
<text x="787.5" y="1892.9" font-family="'Liberation Serif', 'DejaVu Serif', serif" font-size="19.20" text-anchor="end">90</text>
<text x="787.5" y="1844.6" font-family="'Liberation Serif', 'DejaVu Serif', serif" font-size="19.20" text-anchor="end">95</text>
<text x="787.5" y="1796.3" font-family="'Liberation Serif', 'DejaVu Serif', serif" font-size="19.20" text-anchor="end">100</text>
<text x="787.5" y="1748.0" font-family="'Liberation Serif', 'DejaVu Serif', serif" font-size="19.20" text-anchor="end">105</text>
<text x="787.5" y="1699.7" font-family="'Liberation Serif', 'DejaVu Serif', serif" font-size="19.20" text-anchor="end">110</text>
<text x="787.5" y="1651.4" font-family="'Liberation Serif', 'DejaVu Serif', serif" font-size="19.20" text-anchor="end">115</text>
<text x="787.5" y="1603.1" font-family="'Liberation Serif', 'DejaVu Serif', serif" font-size="19.20" text-anchor="end">120</text>
<text x="803.9" y="1915.2" font-family="'Liberation Serif', 'DejaVu Serif', serif" font-size="19.20" text-anchor="middle">0</text>
<text x="941.9" y="1915.2" font-family="'Liberation Serif', 'DejaVu Serif', serif" font-size="19.20" text-anchor="middle">1</text>
<text x="1079.9" y="1915.2" font-family="'Liberation Serif', 'DejaVu Serif', serif" font-size="19.20" text-anchor="middle">2</text>
<text x="1217.9" y="1915.2" font-family="'Liberation Serif', 'DejaVu Serif', serif" font-size="19.20" text-anchor="middle">3</text>
<text x="1044.5" y="1956.4" font-family="'Liberation Serif', 'DejaVu Serif', serif" font-size="19.20" text-anchor="middle" font-weight="bold">Time (Sec)</text>
<text transform="translate(739.0 1762.0) rotate(-90)" font-family="'Liberation Serif', 'DejaVu Serif', serif" font-size="19.20" font-weight="bold" text-anchor="middle">Pressure (mmHg)</text>
<path d="M1253.3 1721.3 H1293.0" stroke="#456fa6" stroke-width="2.1"/>
<path d="M1253.3 1754.8 H1293.0" stroke="#b0484c" stroke-width="2.1"/>
<text x="1296.4" y="1727.8" font-family="'Liberation Serif', 'DejaVu Serif', serif" font-size="19.20" text-anchor="start">Pressure</text>
<text x="1296.4" y="1761.3" font-family="'Liberation Serif', 'DejaVu Serif', serif" font-size="19.20" text-anchor="start">Mean pressure</text>
<path d="M803.9 1878.8 L804.5 1879.7 L805.0 1880.7 L805.6 1881.7 L806.1 1882.6 L806.7 1880.9 L807.2 1879.4 L807.8 1877.9 L808.3 1875.4 L808.9 1873.2 L809.4 1871.7 L810.0 1869.8 L810.5 1868.6 L811.1 1866.7 L811.6 1864.4 L812.2 1862.3 L812.7 1859.6 L813.3 1856.6 L813.8 1853.7 L814.4 1850.7 L814.9 1847.6 L815.5 1844.4 L816.0 1826.1 L816.6 1836.5 L817.1 1833.0 L817.7 1830.1 L818.3 1826.8 L818.8 1822.8 L819.4 1819.1 L819.9 1815.4 L820.5 1811.8 L821.0 1808.5 L821.6 1805.4 L822.1 1802.3 L822.7 1798.1 L823.2 1793.5 L823.8 1790.3 L824.3 1786.6 L824.9 1782.6 L825.4 1778.9 L826.0 1774.1 L826.5 1770.2 L827.1 1766.1 L827.6 1762.2 L828.2 1759.9 L828.7 1756.1 L829.3 1750.9 L829.8 1747.4 L830.4 1744.7 L830.9 1742.1 L831.5 1738.5 L832.1 1734.4 L832.6 1731.3 L833.2 1726.2 L833.7 1722.8 L834.3 1720.0 L834.8 1716.8 L835.4 1714.5 L835.9 1711.1 L836.5 1707.1 L837.0 1704.2 L837.6 1702.3 L838.1 1700.5 L838.7 1699.4 L839.2 1696.0 L839.8 1692.5 L840.3 1690.4 L840.9 1687.3 L841.4 1684.8 L842.0 1684.8 L842.5 1683.9 L843.1 1681.6 L843.6 1681.5 L844.2 1684.0 L844.7 1684.4 L845.3 1682.0 L845.9 1680.3 L846.4 1680.5 L847.0 1682.6 L847.5 1680.8 L848.1 1679.4 L848.6 1681.3 L849.2 1680.7 L849.7 1679.7 L850.3 1680.5 L850.8 1682.0 L851.4 1682.8 L851.9 1681.7 L852.5 1681.6 L853.0 1682.2 L853.6 1684.4 L854.1 1685.8 L854.7 1684.7 L855.2 1685.0 L855.8 1687.0 L856.3 1687.5 L856.9 1684.5 L857.4 1684.4 L858.0 1687.1 L858.5 1688.7 L859.1 1690.2 L859.7 1690.1 L860.2 1690.3 L860.8 1691.7 L861.3 1690.9 L861.9 1690.5 L862.4 1691.6 L863.0 1694.9 L863.5 1696.9 L864.1 1695.4 L864.6 1697.0 L865.2 1698.0 L865.7 1698.1 L866.3 1699.6 L866.8 1701.1 L867.4 1704.1 L867.9 1705.8 L868.5 1705.0 L869.0 1705.8 L869.6 1709.3 L870.1 1709.9 L870.7 1711.6 L871.2 1713.9 L871.8 1714.1 L872.3 1715.4 L872.9 1717.1 L873.5 1719.2 L874.0 1722.9 L874.6 1724.6 L875.1 1724.9 L875.7 1727.2 L876.2 1729.0 L876.8 1730.7 L877.3 1733.2 L877.9 1735.2 L878.4 1736.7 L879.0 1740.0 L879.5 1744.0 L880.1 1747.4 L880.6 1749.6 L881.2 1752.5 L881.7 1754.6 L882.3 1755.9 L882.8 1759.7 L883.4 1762.5 L883.9 1765.4 L884.5 1769.0 L885.0 1771.1 L885.6 1773.9 L886.1 1776.9 L886.7 1779.4 L887.3 1781.6 L887.8 1784.2 L888.4 1787.0 L888.9 1789.4 L889.5 1793.0 L890.0 1796.3 L890.6 1799.5 L891.1 1801.7 L891.7 1804.6 L892.2 1807.5 L892.8 1809.9 L893.3 1812.4 L893.9 1813.9 L894.4 1816.4 L895.0 1819.1 L895.5 1821.3 L896.1 1823.2 L896.6 1825.7 L897.2 1827.8 L897.7 1829.5 L898.3 1831.8 L898.8 1834.1 L899.4 1835.3 L899.9 1836.8 L900.5 1838.9 L901.1 1841.3 L901.6 1843.4 L902.2 1845.4 L902.7 1847.7 L903.3 1849.4 L903.8 1851.0 L904.4 1853.1 L904.9 1855.3 L905.5 1856.8 L906.0 1858.6 L906.6 1861.1 L907.1 1862.3 L907.7 1864.3 L908.2 1866.7 L908.8 1868.3 L909.3 1870.0 L909.9 1871.4 L910.4 1872.9 L911.0 1874.5 L911.5 1876.6 L912.1 1877.5 L912.6 1878.7 L913.2 1879.1 L913.7 1877.7 L914.3 1876.3 L914.9 1874.6 L915.4 1872.2 L916.0 1870.2 L916.5 1868.9 L917.1 1867.5 L917.6 1865.5 L918.2 1864.0 L918.7 1861.8 L919.3 1859.3 L919.8 1857.9 L920.4 1855.3 L920.9 1852.3 L921.5 1849.5 L922.0 1846.0 L922.6 1843.0 L923.1 1839.9 L923.7 1836.1 L924.2 1833.1 L924.8 1830.7 L925.3 1815.2 L925.9 1822.8 L926.4 1818.6 L927.0 1814.7 L927.5 1811.7 L928.1 1808.6 L928.7 1805.9 L929.2 1802.7 L929.8 1798.5 L930.3 1794.3 L930.9 1790.5 L931.4 1786.8 L932.0 1782.5 L932.5 1779.0 L933.1 1775.6 L933.6 1772.0 L934.2 1767.5 L934.7 1764.2 L935.3 1760.9 L935.8 1755.9 L936.4 1753.6 L936.9 1750.7 L937.5 1745.5 L938.0 1742.1 L938.6 1739.5 L939.1 1735.4 L939.7 1730.8 L940.2 1726.9 L940.8 1724.8 L941.3 1722.8 L941.9 1720.3 L942.5 1716.1 L943.0 1713.7 L943.6 1711.5 L944.1 1706.5 L944.7 1704.1 L945.2 1702.2 L945.8 1698.7 L946.3 1695.3 L946.9 1694.1 L947.4 1692.7 L948.0 1689.6 L948.5 1687.6 L949.1 1687.3 L949.6 1685.2 L950.2 1683.2 L950.7 1683.0 L951.3 1682.7 L951.8 1680.4 L952.4 1679.3 L952.9 1679.0 L953.5 1679.6 L954.0 1682.0 L954.6 1679.8 L955.1 1679.8 L955.7 1680.9 L956.3 1679.3 L956.8 1680.3 L957.4 1682.3 L957.9 1682.4 L958.5 1680.9 L959.0 1680.4 L959.6 1680.5 L960.1 1681.5 L960.7 1683.7 L961.2 1685.0 L961.8 1685.2 L962.3 1685.0 L962.9 1685.2 L963.4 1686.0 L964.0 1687.1 L964.5 1687.0 L965.1 1686.0 L965.6 1686.7 L966.2 1688.8 L966.7 1688.2 L967.3 1687.2 L967.8 1689.2 L968.4 1691.5 L968.9 1693.7 L969.5 1695.7 L970.1 1695.0 L970.6 1693.2 L971.2 1692.5 L971.7 1694.1 L972.3 1697.2 L972.8 1698.5 L973.4 1700.5 L973.9 1702.2 L974.5 1703.2 L975.0 1704.3 L975.6 1703.5 L976.1 1703.1 L976.7 1705.4 L977.2 1708.2 L977.8 1711.1 L978.3 1713.4 L978.9 1712.6 L979.4 1713.0 L980.0 1715.2 L980.5 1717.4 L981.1 1718.7 L981.6 1721.0 L982.2 1724.1 L982.7 1724.1 L983.3 1726.6 L983.9 1730.3 L984.4 1732.3 L985.0 1734.1 L985.5 1736.5 L986.1 1740.1 L986.6 1742.7 L987.2 1744.7 L987.7 1747.7 L988.3 1751.5 L988.8 1753.7 L989.4 1755.7 L989.9 1758.1 L990.5 1760.7 L991.0 1764.0 L991.6 1766.5 L992.1 1768.8 L992.7 1771.4 L993.2 1774.3 L993.8 1778.3 L994.3 1781.1 L994.9 1783.1 L995.4 1785.9 L996.0 1788.4 L996.5 1791.1 L997.1 1793.6 L997.7 1796.3 L998.2 1798.9 L998.8 1801.8 L999.3 1805.7 L999.9 1808.2 L1000.4 1809.1 L1001.0 1811.4 L1001.5 1814.8 L1002.1 1817.1 L1002.6 1819.5 L1003.2 1821.7 L1003.7 1823.7 L1004.3 1825.3 L1004.8 1827.1 L1005.4 1845.1 L1005.9 1831.8 L1006.5 1833.7 L1007.0 1836.1 L1007.6 1837.9 L1008.1 1839.7 L1008.7 1841.7 L1009.2 1843.4 L1009.8 1845.2 L1010.3 1846.8 L1010.9 1848.8 L1011.5 1851.3 L1012.0 1853.6 L1012.6 1855.2 L1013.1 1857.3 L1013.7 1859.5 L1014.2 1861.4 L1014.8 1863.4 L1015.3 1865.1 L1015.9 1867.0 L1016.4 1869.0 L1017.0 1870.8 L1017.5 1873.1 L1018.1 1874.2 L1018.6 1875.0 L1019.2 1876.8 L1019.7 1878.3 L1020.3 1879.5 L1020.8 1878.5 L1021.4 1876.7 L1021.9 1875.3 L1022.5 1874.0 L1023.0 1871.5 L1023.6 1870.1 L1024.1 1868.1 L1024.7 1866.2 L1025.3 1864.4 L1025.8 1862.2 L1026.4 1860.3 L1026.9 1857.9 L1027.5 1854.9 L1028.0 1852.0 L1028.6 1849.6 L1029.1 1846.5 L1029.7 1843.6 L1030.2 1840.6 L1030.8 1837.2 L1031.3 1833.4 L1031.9 1829.7 L1032.4 1826.3 L1033.0 1823.1 L1033.5 1819.4 L1034.1 1816.1 L1034.6 1812.8 L1035.2 1809.7 L1035.7 1806.4 L1036.3 1802.1 L1036.8 1798.7 L1037.4 1795.3 L1037.9 1790.6 L1038.5 1786.2 L1039.1 1782.3 L1039.6 1778.1 L1040.2 1774.4 L1040.7 1770.6 L1041.3 1766.9 L1041.8 1762.9 L1042.4 1759.9 L1042.9 1756.9 L1043.5 1752.1 L1044.0 1747.9 L1044.6 1744.8 L1045.1 1741.7 L1045.7 1737.6 L1046.2 1733.9 L1046.8 1731.5 L1047.3 1727.2 L1047.9 1723.2 L1048.4 1720.5 L1049.0 1718.1 L1049.5 1716.9 L1050.1 1712.5 L1050.6 1706.4 L1051.2 1705.5 L1051.7 1704.4 L1052.3 1699.3 L1052.9 1695.9 L1053.4 1693.8 L1054.0 1691.6 L1054.5 1690.4 L1055.1 1687.4 L1055.6 1683.6 L1056.2 1682.3 L1056.7 1683.7 L1057.3 1680.9 L1057.8 1677.5 L1058.4 1678.1 L1058.9 1675.9 L1059.5 1674.9 L1060.0 1676.9 L1060.6 1677.0 L1061.1 1676.2 L1061.7 1677.9 L1062.2 1678.3 L1062.8 1679.5 L1063.3 1681.3 L1063.9 1679.3 L1064.4 1676.3 L1065.0 1677.7 L1065.5 1678.1 L1066.1 1677.2 L1066.7 1676.9 L1067.2 1677.8 L1067.8 1676.9 L1068.3 1676.5 L1068.9 1680.2 L1069.4 1680.7 L1070.0 1682.8 L1070.5 1683.1 L1071.1 1682.0 L1071.6 1682.4 L1072.2 1683.0 L1072.7 1686.8 L1073.3 1689.6 L1073.8 1688.3 L1074.4 1687.8 L1074.9 1687.1 L1075.5 1687.7 L1076.0 1688.9 L1076.6 1688.9 L1077.1 1688.7 L1077.7 1689.4 L1078.2 1691.6 L1078.8 1693.5 L1079.3 1694.4 L1079.9 1694.0 L1080.5 1695.6 L1081.0 1696.7 L1081.6 1698.7 L1082.1 1700.7 L1082.7 1700.8 L1083.2 1702.2 L1083.8 1702.8 L1084.3 1703.5 L1084.9 1706.4 L1085.4 1709.0 L1086.0 1710.1 L1086.5 1726.0 L1087.1 1713.5 L1087.6 1715.4 L1088.2 1716.4 L1088.7 1717.3 L1089.3 1719.5 L1089.8 1721.0 L1090.4 1724.6 L1090.9 1727.2 L1091.5 1728.2 L1092.0 1730.1 L1092.6 1732.1 L1093.1 1734.7 L1093.7 1736.9 L1094.3 1740.8 L1094.8 1744.6 L1095.4 1745.7 L1095.9 1747.1 L1096.5 1750.7 L1097.0 1753.5 L1097.6 1755.3 L1098.1 1759.2 L1098.7 1762.6 L1099.2 1764.6 L1099.8 1767.1 L1100.3 1769.3 L1100.9 1762.2 L1101.4 1775.0 L1102.0 1778.3 L1102.5 1781.8 L1103.1 1784.5 L1103.6 1786.2 L1104.2 1787.9 L1104.7 1791.4 L1105.3 1794.7 L1105.8 1797.9 L1106.4 1800.1 L1106.9 1802.3 L1107.5 1805.0 L1108.1 1806.6 L1108.6 1809.8 L1109.2 1812.9 L1109.7 1814.6 L1110.3 1816.1 L1110.8 1818.7 L1111.4 1821.6 L1111.9 1823.4 L1112.5 1824.7 L1113.0 1827.1 L1113.6 1829.7 L1114.1 1831.0 L1114.7 1832.6 L1115.2 1835.0 L1115.8 1837.0 L1116.3 1838.5 L1116.9 1840.0 L1117.4 1842.0 L1118.0 1844.1 L1118.5 1856.3 L1119.1 1848.4 L1119.6 1849.7 L1120.2 1851.8 L1120.7 1853.9 L1121.3 1855.8 L1121.9 1857.5 L1122.4 1859.5 L1123.0 1862.0 L1123.5 1863.5 L1124.1 1865.0 L1124.6 1867.0 L1125.2 1868.4 L1125.7 1870.0 L1126.3 1871.6 L1126.8 1873.2 L1127.4 1874.2 L1127.9 1874.2 L1128.5 1872.8 L1129.0 1871.2 L1129.6 1870.2 L1130.1 1868.4 L1130.7 1866.3 L1131.2 1864.4 L1131.8 1863.1 L1132.3 1861.8 L1132.9 1859.5 L1133.4 1857.1 L1134.0 1855.1 L1134.5 1852.9 L1135.1 1850.6 L1135.7 1847.7 L1136.2 1844.6 L1136.8 1841.4 L1137.3 1838.4 L1137.9 1835.9 L1138.4 1832.4 L1139.0 1828.6 L1139.5 1825.5 L1140.1 1823.0 L1140.6 1819.7 L1141.2 1815.3 L1141.7 1811.8 L1142.3 1808.3 L1142.8 1804.5 L1143.4 1801.1 L1143.9 1798.0 L1144.5 1794.2 L1145.0 1790.1 L1145.6 1786.6 L1146.1 1783.6 L1146.7 1780.2 L1147.2 1775.4 L1147.8 1771.3 L1148.3 1768.6 L1148.9 1764.8 L1149.5 1760.3 L1150.0 1756.3 L1150.6 1752.5 L1151.1 1749.1 L1151.7 1746.1 L1152.2 1743.6 L1152.8 1740.0 L1153.3 1734.8 L1153.9 1731.8 L1154.4 1728.6 L1155.0 1725.2 L1155.5 1723.2 L1156.1 1719.0 L1156.6 1715.5 L1157.2 1712.7 L1157.7 1710.1 L1158.3 1706.9 L1158.8 1702.5 L1159.4 1700.9 L1159.9 1698.5 L1160.5 1694.3 L1161.0 1691.7 L1161.6 1691.8 L1162.1 1689.7 L1162.7 1686.8 L1163.3 1686.0 L1163.8 1683.4 L1164.4 1682.5 L1164.9 1681.7 L1165.5 1680.6 L1166.0 1679.2 L1166.6 1677.5 L1167.1 1677.9 L1167.7 1677.7 L1168.2 1677.1 L1168.8 1676.7 L1169.3 1678.2 L1169.9 1679.2 L1170.4 1677.8 L1171.0 1677.9 L1171.5 1677.5 L1172.1 1677.0 L1172.6 1677.4 L1173.2 1677.9 L1173.7 1678.7 L1174.3 1679.7 L1174.8 1680.3 L1175.4 1679.5 L1175.9 1678.4 L1176.5 1678.6 L1177.1 1680.3 L1177.6 1682.1 L1178.2 1679.6 L1178.7 1678.9 L1179.3 1683.3 L1179.8 1684.3 L1180.4 1683.2 L1180.9 1684.9 L1181.5 1686.2 L1182.0 1687.4 L1182.6 1688.4 L1183.1 1689.2 L1183.7 1690.5 L1184.2 1691.0 L1184.8 1691.6 L1185.3 1691.5 L1185.9 1690.8 L1186.4 1692.6 L1187.0 1694.8 L1187.5 1695.2 L1188.1 1696.2 L1188.6 1696.2 L1189.2 1699.6 L1189.7 1704.3 L1190.3 1704.3 L1190.9 1703.4 L1191.4 1703.2 L1192.0 1705.4 L1192.5 1707.4 L1193.1 1708.8 L1193.6 1710.0 L1194.2 1710.0 L1194.7 1713.6 L1195.3 1715.2 L1195.8 1714.8 L1196.4 1718.3 L1196.9 1720.6 L1197.5 1722.4 L1198.0 1724.4 L1198.6 1726.3 L1199.1 1728.4 L1199.7 1731.7 L1200.2 1734.3 L1200.8 1736.6 L1201.3 1739.7 L1201.9 1741.5 L1202.4 1744.2 L1203.0 1747.1 L1203.5 1749.4 L1204.1 1752.1 L1204.7 1755.5 L1205.2 1758.0 L1205.8 1760.1 L1206.3 1762.1 L1206.9 1765.5 L1207.4 1768.8 L1208.0 1771.3 L1208.5 1774.7 L1209.1 1776.6 L1209.6 1779.3 L1210.2 1782.4 L1210.7 1785.0 L1211.3 1788.3 L1211.8 1791.1 L1212.4 1793.6 L1212.9 1796.3 L1213.5 1798.2 L1214.0 1800.6 L1214.6 1804.4 L1215.1 1806.5 L1215.7 1808.3 L1216.2 1811.1 L1216.8 1813.2 L1217.3 1816.0 L1217.9 1818.6" fill="none" stroke="#4577b6" stroke-width="3.00" stroke-linejoin="round" stroke-linecap="round"/>
<path d="M810.8 1779.3 L813.0 1778.5 L815.2 1777.8 L817.4 1777.1 L819.5 1776.5 L821.7 1776.0 L823.9 1775.5 L826.1 1775.2 L828.3 1774.8 L830.5 1774.5 L832.6 1774.2 L834.8 1773.9 L837.0 1773.7 L839.2 1773.6 L841.4 1773.5 L843.6 1773.5 L845.8 1773.6 L847.9 1773.8 L850.1 1774.2 L852.3 1774.5 L854.5 1775.0 L856.7 1775.4 L858.9 1775.9 L861.0 1776.4 L863.2 1776.8 L865.4 1777.2 L867.6 1777.6 L869.8 1778.0 L872.0 1778.5 L874.1 1779.0 L876.3 1779.5 L878.5 1779.9 L880.7 1780.3 L882.9 1780.7 L885.1 1781.0 L887.3 1781.1 L889.4 1781.2 L891.6 1781.2 L893.8 1781.0 L896.0 1780.8 L898.2 1780.5 L900.4 1780.1 L902.5 1779.7 L904.7 1779.3 L906.9 1778.8 L909.1 1778.4 L911.3 1777.9 L913.5 1777.5 L915.7 1777.1 L917.8 1776.6 L920.0 1776.1 L922.2 1775.6 L924.4 1775.1 L926.6 1774.6 L928.8 1774.1 L930.9 1773.7 L933.1 1773.3 L935.3 1773.0 L937.5 1772.6 L939.7 1772.3 L941.9 1772.0 L944.0 1771.8 L946.2 1771.6 L948.4 1771.5 L950.6 1771.6 L952.8 1771.7 L955.0 1771.9 L957.2 1772.1 L959.3 1772.4 L961.5 1772.8 L963.7 1773.1 L965.9 1773.4 L968.1 1773.8 L970.3 1774.1 L972.4 1774.4 L974.6 1774.8 L976.8 1775.2 L979.0 1775.7 L981.2 1776.2 L983.4 1776.6 L985.6 1777.0 L987.7 1777.4 L989.9 1777.8 L992.1 1778.0 L994.3 1778.2 L996.5 1778.3 L998.7 1778.3 L1000.8 1778.2 L1003.0 1778.0 L1005.2 1777.8 L1007.4 1777.5 L1009.6 1777.2 L1011.8 1776.8 L1014.0 1776.5 L1016.1 1776.1 L1018.3 1775.8 L1020.5 1775.5 L1022.7 1775.0 L1024.9 1774.6 L1027.1 1774.1 L1029.2 1773.6 L1031.4 1773.2 L1033.6 1772.7 L1035.8 1772.4 L1038.0 1772.1 L1040.2 1771.9 L1042.3 1771.6 L1044.5 1771.4 L1046.7 1771.2 L1048.9 1771.0 L1051.1 1770.9 L1053.3 1770.7 L1055.5 1770.6 L1057.6 1770.6 L1059.8 1770.6 L1062.0 1770.6 L1064.2 1770.8 L1066.4 1771.0 L1068.6 1771.2 L1070.7 1771.4 L1072.9 1771.7 L1075.1 1772.0 L1077.3 1772.2 L1079.5 1772.5 L1081.7 1772.7 L1083.9 1773.0 L1086.0 1773.2 L1088.2 1773.5 L1090.4 1773.8 L1092.6 1774.2 L1094.8 1774.4 L1097.0 1774.7 L1099.1 1774.9 L1101.3 1775.1 L1103.5 1775.3 L1105.7 1775.4 L1107.9 1775.4 L1110.1 1775.3 L1112.3 1775.2 L1114.4 1775.0 L1116.6 1774.7 L1118.8 1774.4 L1121.0 1774.1 L1123.2 1773.7 L1125.4 1773.4 L1127.5 1773.1 L1129.7 1772.8 L1131.9 1772.4 L1134.1 1772.0 L1136.3 1771.6 L1138.5 1771.2 L1140.6 1770.7 L1142.8 1770.4 L1145.0 1770.0 L1147.2 1769.8 L1149.4 1769.6 L1151.6 1769.4 L1153.8 1769.3 L1155.9 1769.1 L1158.1 1769.0 L1160.3 1768.9 L1162.5 1768.8 L1164.7 1768.7 L1166.9 1768.7 L1169.0 1768.6 L1171.2 1768.7 L1173.4 1768.8 L1175.6 1769.0 L1177.8 1769.3 L1180.0 1769.6 L1182.2 1769.9 L1184.3 1770.2 L1186.5 1770.6 L1188.7 1770.9 L1190.9 1771.1 L1193.1 1771.4 L1195.3 1771.7 L1197.4 1772.1 L1199.6 1772.4 L1201.8 1772.7 L1204.0 1773.0 L1206.2 1773.2 L1208.4 1773.4 L1210.5 1773.5 L1212.7 1773.5 L1214.9 1773.4 L1217.1 1773.2 L1219.3 1773.0 L1221.5 1772.8 L1223.7 1772.6 L1225.8 1772.4 L1228.0 1772.2 L1230.2 1771.9 L1232.4 1771.7 L1234.6 1771.4 L1236.8 1771.1 L1238.9 1770.7 L1241.1 1770.4 L1243.3 1770.0 L1245.5 1769.6" fill="none" stroke="#be4b48" stroke-width="2.30" stroke-linejoin="round" stroke-linecap="round"/>
<text x="17.2" y="2047.3" font-family="'Liberation Sans', 'DejaVu Sans', sans-serif" font-size="33.00" text-anchor="start" font-weight="bold" stroke="#000" stroke-width="0.35">H</text>
<text x="241.0" y="2063.5" font-family="'Liberation Sans', 'DejaVu Sans', sans-serif" font-size="44.00" text-anchor="start" font-weight="bold" textLength="186.0" lengthAdjust="spacingAndGlyphs">Section 7</text>
<text x="344.0" y="2120.0" font-family="'Liberation Serif', 'DejaVu Serif', serif" font-size="19.20" text-anchor="middle" font-weight="bold">Below superior mesenteric</text>
<path d="M127.5 2143.2 V2432.7 H610.5" fill="none" stroke="#8e8e8e" stroke-width="1.6"/>
<text x="111.0" y="2439.1" font-family="'Liberation Serif', 'DejaVu Serif', serif" font-size="19.20" text-anchor="end">90</text>
<text x="111.0" y="2390.9" font-family="'Liberation Serif', 'DejaVu Serif', serif" font-size="19.20" text-anchor="end">95</text>
<text x="111.0" y="2342.6" font-family="'Liberation Serif', 'DejaVu Serif', serif" font-size="19.20" text-anchor="end">100</text>
<text x="111.0" y="2294.4" font-family="'Liberation Serif', 'DejaVu Serif', serif" font-size="19.20" text-anchor="end">105</text>
<text x="111.0" y="2246.1" font-family="'Liberation Serif', 'DejaVu Serif', serif" font-size="19.20" text-anchor="end">110</text>
<text x="111.0" y="2197.9" font-family="'Liberation Serif', 'DejaVu Serif', serif" font-size="19.20" text-anchor="end">115</text>
<text x="111.0" y="2149.6" font-family="'Liberation Serif', 'DejaVu Serif', serif" font-size="19.20" text-anchor="end">120</text>
<text x="127.5" y="2461.4" font-family="'Liberation Serif', 'DejaVu Serif', serif" font-size="19.20" text-anchor="middle">0</text>
<text x="265.5" y="2461.4" font-family="'Liberation Serif', 'DejaVu Serif', serif" font-size="19.20" text-anchor="middle">1</text>
<text x="403.5" y="2461.4" font-family="'Liberation Serif', 'DejaVu Serif', serif" font-size="19.20" text-anchor="middle">2</text>
<text x="541.5" y="2461.4" font-family="'Liberation Serif', 'DejaVu Serif', serif" font-size="19.20" text-anchor="middle">3</text>
<text x="321.0" y="2486.0" font-family="'Liberation Serif', 'DejaVu Serif', serif" font-size="19.20" text-anchor="middle" font-weight="bold">Time (Sec)</text>
<text transform="translate(50.0 2308.5) rotate(-90)" font-family="'Liberation Serif', 'DejaVu Serif', serif" font-size="19.20" font-weight="bold" text-anchor="middle">Pressure (mmHg)</text>
<path d="M546.0 2261.5 H584.7" stroke="#456fa6" stroke-width="2.1"/>
<path d="M546.0 2294.0 H584.7" stroke="#b0484c" stroke-width="2.1"/>
<text x="588.0" y="2268.0" font-family="'Liberation Serif', 'DejaVu Serif', serif" font-size="19.20" text-anchor="start">Pressure</text>
<text x="588.0" y="2300.5" font-family="'Liberation Serif', 'DejaVu Serif', serif" font-size="19.20" text-anchor="start">Mean pressure</text>
<path d="M127.5 2389.3 L128.1 2391.0 L128.6 2392.7 L129.2 2394.5 L129.7 2396.2 L130.3 2397.4 L130.8 2395.9 L131.4 2393.8 L131.9 2392.4 L132.5 2390.3 L133.0 2386.9 L133.6 2383.8 L134.1 2380.2 L134.7 2376.8 L135.2 2373.3 L135.8 2369.9 L136.3 2366.6 L136.9 2363.2 L137.4 2360.3 L138.0 2357.0 L138.5 2353.7 L139.1 2351.0 L139.6 2347.9 L140.2 2344.7 L140.7 2341.9 L141.3 2339.6 L141.9 2336.6 L142.4 2333.3 L143.0 2330.0 L143.5 2326.5 L144.1 2323.8 L144.6 2320.4 L145.2 2317.4 L145.7 2314.0 L146.3 2310.5 L146.8 2307.1 L147.4 2302.8 L147.9 2298.5 L148.5 2294.6 L149.0 2291.5 L149.6 2288.7 L150.1 2284.7 L150.7 2279.9 L151.2 2276.8 L151.8 2273.3 L152.3 2269.3 L152.9 2267.8 L153.4 2264.3 L154.0 2258.6 L154.5 2254.9 L155.1 2252.0 L155.7 2248.8 L156.2 2247.1 L156.8 2245.6 L157.3 2242.1 L157.9 2237.6 L158.4 2234.6 L159.0 2232.0 L159.5 2227.9 L160.1 2223.6 L160.6 2223.1 L161.2 2222.9 L161.7 2219.4 L162.3 2216.5 L162.8 2216.4 L163.4 2211.7 L163.9 2207.1 L164.5 2207.8 L165.0 2208.8 L165.6 2207.7 L166.1 2206.0 L166.7 2204.8 L167.2 2202.4 L167.8 2202.0 L168.3 2201.0 L168.9 2200.9 L169.5 2200.4 L170.0 2201.7 L170.6 2200.6 L171.1 2198.0 L171.7 2195.8 L172.2 2195.4 L172.8 2200.6 L173.3 2199.2 L173.9 2216.9 L174.4 2200.6 L175.0 2200.2 L175.5 2197.9 L176.1 2196.2 L176.6 2198.3 L177.2 2200.4 L177.7 2200.1 L178.3 2201.4 L178.8 2202.4 L179.4 2202.3 L179.9 2202.2 L180.5 2201.5 L181.0 2203.8 L181.6 2204.9 L182.1 2203.1 L182.7 2202.8 L183.3 2204.1 L183.8 2206.3 L184.4 2206.4 L184.9 2207.2 L185.5 2208.4 L186.0 2209.1 L186.6 2209.7 L187.1 2210.6 L187.7 2211.2 L188.2 2211.5 L188.8 2212.2 L189.3 2213.3 L189.9 2212.4 L190.4 2211.6 L191.0 2213.3 L191.5 2215.3 L192.1 2215.5 L192.6 2215.7 L193.2 2217.3 L193.7 2218.2 L194.3 2219.5 L194.8 2220.1 L195.4 2222.2 L195.9 2225.1 L196.5 2226.0 L197.1 2227.4 L197.6 2228.9 L198.2 2229.9 L198.7 2231.2 L199.3 2233.2 L199.8 2236.3 L200.4 2239.2 L200.9 2241.4 L201.5 2242.9 L202.0 2245.3 L202.6 2249.1 L203.1 2252.1 L203.7 2253.8 L204.2 2256.4 L204.8 2260.9 L205.3 2262.7 L205.9 2263.8 L206.4 2266.4 L207.0 2268.6 L207.5 2271.4 L208.1 2274.3 L208.6 2277.2 L209.2 2280.4 L209.7 2284.0 L210.3 2287.1 L210.9 2288.7 L211.4 2290.3 L212.0 2293.1 L212.5 2296.5 L213.1 2299.0 L213.6 2301.4 L214.2 2304.5 L214.7 2307.4 L215.3 2310.7 L215.8 2313.8 L216.4 2316.2 L216.9 2318.1 L217.5 2320.5 L218.0 2323.9 L218.6 2327.1 L219.1 2329.7 L219.7 2332.3 L220.2 2334.6 L220.8 2346.5 L221.3 2339.7 L221.9 2341.7 L222.4 2343.7 L223.0 2346.8 L223.5 2348.3 L224.1 2350.5 L224.7 2353.4 L225.2 2355.5 L225.8 2357.2 L226.3 2359.9 L226.9 2362.2 L227.4 2363.9 L228.0 2365.6 L228.5 2366.5 L229.1 2368.8 L229.6 2371.7 L230.2 2373.6 L230.7 2374.8 L231.3 2377.0 L231.8 2379.7 L232.4 2381.3 L232.9 2383.4 L233.5 2385.7 L234.0 2387.0 L234.6 2388.4 L235.1 2389.6 L235.7 2391.1 L236.2 2393.0 L236.8 2394.6 L237.3 2395.4 L237.9 2395.9 L238.5 2393.9 L239.0 2391.9 L239.6 2390.5 L240.1 2388.2 L240.7 2385.3 L241.2 2382.2 L241.8 2378.9 L242.3 2376.0 L242.9 2372.6 L243.4 2368.7 L244.0 2365.2 L244.5 2361.3 L245.1 2357.8 L245.6 2355.9 L246.2 2353.2 L246.7 2349.5 L247.3 2346.3 L247.8 2343.4 L248.4 2340.6 L248.9 2338.3 L249.5 2335.8 L250.0 2332.1 L250.6 2328.8 L251.1 2325.9 L251.7 2322.4 L252.3 2319.9 L252.8 2317.5 L253.4 2313.4 L253.9 2309.5 L254.5 2306.3 L255.0 2302.2 L255.6 2298.5 L256.1 2295.3 L256.7 2291.4 L257.2 2288.4 L257.8 2284.1 L258.3 2279.5 L258.9 2276.9 L259.4 2272.9 L260.0 2269.6 L260.5 2267.0 L261.1 2263.8 L261.6 2260.2 L262.2 2256.7 L262.7 2253.1 L263.3 2249.8 L263.8 2246.5 L264.4 2242.5 L264.9 2239.2 L265.5 2236.0 L266.1 2233.2 L266.6 2231.2 L267.2 2230.0 L267.7 2226.5 L268.3 2223.7 L268.8 2221.5 L269.4 2218.2 L269.9 2216.3 L270.5 2214.2 L271.0 2211.7 L271.6 2210.8 L272.1 2209.4 L272.7 2206.0 L273.2 2204.3 L273.8 2203.3 L274.3 2203.4 L274.9 2203.6 L275.4 2200.6 L276.0 2199.1 L276.5 2199.9 L277.1 2198.7 L277.6 2199.3 L278.2 2199.9 L278.7 2198.2 L279.3 2197.9 L279.9 2196.7 L280.4 2196.2 L281.0 2197.0 L281.5 2198.4 L282.1 2199.6 L282.6 2199.0 L283.2 2198.7 L283.7 2198.5 L284.3 2199.4 L284.8 2199.6 L285.4 2197.9 L285.9 2198.8 L286.5 2201.9 L287.0 2201.1 L287.6 2199.4 L288.1 2200.8 L288.7 2201.8 L289.2 2204.5 L289.8 2205.5 L290.3 2204.2 L290.9 2203.1 L291.4 2203.3 L292.0 2204.2 L292.5 2205.2 L293.1 2207.8 L293.7 2208.7 L294.2 2210.1 L294.8 2210.7 L295.3 2209.2 L295.9 2210.6 L296.4 2212.2 L297.0 2210.4 L297.5 2210.9 L298.1 2212.1 L298.6 2212.8 L299.2 2213.6 L299.7 2216.4 L300.3 2216.4 L300.8 2215.5 L301.4 2218.4 L301.9 2234.7 L302.5 2221.3 L303.0 2222.0 L303.6 2224.4 L304.1 2227.6 L304.7 2229.4 L305.2 2229.6 L305.8 2231.2 L306.3 2233.7 L306.9 2235.8 L307.5 2237.9 L308.0 2239.6 L308.6 2242.2 L309.1 2243.6 L309.7 2245.5 L310.2 2249.4 L310.8 2250.7 L311.3 2253.4 L311.9 2258.1 L312.4 2246.7 L313.0 2262.4 L313.5 2264.1 L314.1 2267.4 L314.6 2269.6 L315.2 2272.3 L315.7 2275.2 L316.3 2277.2 L316.8 2280.1 L317.4 2283.2 L317.9 2286.0 L318.5 2289.0 L319.0 2291.2 L319.6 2293.8 L320.1 2297.1 L320.7 2300.8 L321.3 2304.0 L321.8 2306.4 L322.4 2309.0 L322.9 2311.5 L323.5 2314.4 L324.0 2317.5 L324.6 2320.4 L325.1 2323.1 L325.7 2325.8 L326.2 2329.2 L326.8 2331.9 L327.3 2333.3 L327.9 2335.8 L328.4 2339.0 L329.0 2342.1 L329.5 2344.4 L330.1 2346.1 L330.6 2348.3 L331.2 2351.6 L331.7 2354.9 L332.3 2356.4 L332.8 2357.0 L333.4 2359.7 L333.9 2362.7 L334.5 2364.4 L335.1 2366.2 L335.6 2368.0 L336.2 2370.7 L336.7 2373.0 L337.3 2362.3 L337.8 2376.7 L338.4 2378.5 L338.9 2380.5 L339.5 2382.9 L340.0 2385.6 L340.6 2387.3 L341.1 2389.0 L341.7 2390.7 L342.2 2392.6 L342.8 2394.1 L343.3 2395.6 L343.9 2396.5 L344.4 2397.5 L345.0 2399.3 L345.5 2400.2 L346.1 2398.5 L346.6 2396.5 L347.2 2393.9 L347.7 2391.1 L348.3 2388.1 L348.9 2385.8 L349.4 2382.4 L350.0 2378.7 L350.5 2375.2 L351.1 2372.5 L351.6 2369.3 L352.2 2365.1 L352.7 2361.4 L353.3 2358.4 L353.8 2355.6 L354.4 2352.2 L354.9 2349.6 L355.5 2346.7 L356.0 2343.1 L356.6 2339.9 L357.1 2337.0 L357.7 2333.9 L358.2 2330.7 L358.8 2327.4 L359.3 2324.3 L359.9 2321.6 L360.4 2318.4 L361.0 2314.5 L361.5 2310.4 L362.1 2307.2 L362.7 2303.6 L363.2 2299.7 L363.8 2296.0 L364.3 2292.9 L364.9 2289.9 L365.4 2286.3 L366.0 2283.1 L366.5 2278.6 L367.1 2274.0 L367.6 2270.6 L368.2 2267.2 L368.7 2263.8 L369.3 2259.7 L369.8 2256.2 L370.4 2252.6 L370.9 2247.8 L371.5 2246.1 L372.0 2243.6 L372.6 2240.1 L373.1 2236.3 L373.7 2232.6 L374.2 2229.4 L374.8 2226.9 L375.3 2225.9 L375.9 2224.0 L376.5 2221.4 L377.0 2218.2 L377.6 2216.0 L378.1 2214.0 L378.7 2211.4 L379.2 2209.9 L379.8 2209.6 L380.3 2209.0 L380.9 2207.8 L381.4 2206.1 L382.0 2203.6 L382.5 2201.5 L383.1 2202.3 L383.6 2201.7 L384.2 2201.1 L384.7 2200.2 L385.3 2200.3 L385.8 2199.7 L386.4 2197.8 L386.9 2198.3 L387.5 2198.1 L388.0 2199.5 L388.6 2199.4 L389.1 2198.4 L389.7 2198.0 L390.3 2197.6 L390.8 2197.4 L391.4 2197.8 L391.9 2200.6 L392.5 2200.7 L393.0 2201.1 L393.6 2217.4 L394.1 2202.0 L394.7 2202.5 L395.2 2203.3 L395.8 2201.9 L396.3 2202.6 L396.9 2205.0 L397.4 2206.1 L398.0 2203.0 L398.5 2202.8 L399.1 2206.0 L399.6 2206.1 L400.2 2205.7 L400.7 2206.9 L401.3 2209.3 L401.8 2209.7 L402.4 2210.2 L402.9 2211.7 L403.5 2213.3 L404.1 2212.5 L404.6 2211.8 L405.2 2211.3 L405.7 2212.0 L406.3 2214.3 L406.8 2213.6 L407.4 2215.5 L407.9 2216.8 L408.5 2217.1 L409.0 2219.8 L409.6 2220.1 L410.1 2220.5 L410.7 2223.2 L411.2 2224.6 L411.8 2224.2 L412.3 2225.6 L412.9 2228.5 L413.4 2242.9 L414.0 2233.4 L414.5 2234.6 L415.1 2236.6 L415.6 2238.7 L416.2 2240.2 L416.7 2243.8 L417.3 2246.7 L417.9 2248.0 L418.4 2250.9 L419.0 2254.2 L419.5 2255.9 L420.1 2258.2 L420.6 2261.8 L421.2 2264.6 L421.7 2267.3 L422.3 2269.8 L422.8 2272.3 L423.4 2275.4 L423.9 2278.7 L424.5 2281.0 L425.0 2283.0 L425.6 2285.7 L426.1 2287.9 L426.7 2290.4 L427.2 2293.1 L427.8 2295.7 L428.3 2299.5 L428.9 2302.2 L429.4 2303.6 L430.0 2306.6 L430.5 2310.0 L431.1 2313.3 L431.7 2316.0 L432.2 2318.9 L432.8 2322.3 L433.3 2324.7 L433.9 2326.5 L434.4 2329.3 L435.0 2332.2 L435.5 2334.8 L436.1 2336.6 L436.6 2338.6 L437.2 2341.6 L437.7 2344.0 L438.3 2346.1 L438.8 2347.9 L439.4 2350.3 L439.9 2353.1 L440.5 2354.9 L441.0 2356.8 L441.6 2359.4 L442.1 2361.4 L442.7 2363.1 L443.2 2365.2 L443.8 2367.1 L444.3 2368.9 L444.9 2370.5 L445.5 2372.4 L446.0 2374.6 L446.6 2376.9 L447.1 2379.1 L447.7 2381.0 L448.2 2383.1 L448.8 2384.4 L449.3 2385.2 L449.9 2386.8 L450.4 2388.8 L451.0 2390.2 L451.5 2391.4 L452.1 2392.7 L452.6 2394.1 L453.2 2394.9 L453.7 2392.7 L454.3 2391.0 L454.8 2389.8 L455.4 2387.3 L455.9 2384.1 L456.5 2381.6 L457.0 2378.7 L457.6 2376.0 L458.1 2372.6 L458.7 2368.2 L459.3 2364.4 L459.8 2361.1 L460.4 2358.4 L460.9 2355.4 L461.5 2352.1 L462.0 2348.8 L462.6 2345.7 L463.1 2342.7 L463.7 2340.4 L464.2 2337.6 L464.8 2333.9 L465.3 2331.3 L465.9 2328.3 L466.4 2325.1 L467.0 2322.5 L467.5 2319.6 L468.1 2315.8 L468.6 2311.8 L469.2 2308.2 L469.7 2304.7 L470.3 2301.4 L470.8 2298.4 L471.4 2295.1 L471.9 2291.1 L472.5 2286.6 L473.1 2283.1 L473.6 2280.9 L474.2 2277.3 L474.7 2272.7 L475.3 2269.0 L475.8 2265.7 L476.4 2262.2 L476.9 2258.8 L477.5 2256.1 L478.0 2253.6 L478.6 2249.1 L479.1 2245.6 L479.7 2243.3 L480.2 2239.1 L480.8 2236.3 L481.3 2234.9 L481.9 2230.2 L482.4 2225.5 L483.0 2223.8 L483.5 2223.7 L484.1 2222.5 L484.6 2220.1 L485.2 2216.9 L485.7 2213.0 L486.3 2210.1 L486.9 2208.6 L487.4 2208.3 L488.0 2207.0 L488.5 2204.6 L489.1 2203.5 L489.6 2203.3 L490.2 2203.6 L490.7 2201.6 L491.3 2198.8 L491.8 2199.3 L492.4 2199.9 L492.9 2197.9 L493.5 2196.2 L494.0 2195.1 L494.6 2196.4 L495.1 2196.8 L495.7 2198.1 L496.2 2201.8 L496.8 2201.2 L497.3 2198.8 L497.9 2200.1 L498.4 2200.9 L499.0 2199.5 L499.5 2199.7 L500.1 2200.0 L500.7 2199.2 L501.2 2200.0 L501.8 2202.0 L502.3 2201.5 L502.9 2200.4 L503.4 2201.8 L504.0 2202.0 L504.5 2201.3 L505.1 2203.6 L505.6 2204.8 L506.2 2205.8 L506.7 2205.6 L507.3 2205.4 L507.8 2204.7 L508.4 2207.8 L508.9 2211.4 L509.5 2210.0 L510.0 2209.0 L510.6 2209.4 L511.1 2211.1 L511.7 2211.0 L512.2 2211.4 L512.8 2212.2 L513.3 2211.7 L513.9 2211.8 L514.5 2214.7 L515.0 2217.0 L515.6 2216.2 L516.1 2216.7 L516.7 2218.9 L517.2 2219.5 L517.8 2220.2 L518.3 2221.8 L518.9 2222.8 L519.4 2225.1 L520.0 2226.7 L520.5 2228.1 L521.1 2230.6 L521.6 2231.9 L522.2 2235.1 L522.7 2238.9 L523.3 2240.6 L523.8 2252.7 L524.4 2242.7 L524.9 2246.1 L525.5 2249.3 L526.0 2252.5 L526.6 2254.4 L527.1 2256.1 L527.7 2258.7 L528.3 2260.9 L528.8 2263.6 L529.4 2266.0 L529.9 2269.0 L530.5 2271.5 L531.0 2273.8 L531.6 2277.4 L532.1 2280.2 L532.7 2281.7 L533.2 2285.0 L533.8 2288.8 L534.3 2291.2 L534.9 2293.6 L535.4 2296.1 L536.0 2298.2 L536.5 2301.1 L537.1 2304.4 L537.6 2307.3 L538.2 2310.8 L538.7 2313.6 L539.3 2316.2 L539.8 2318.8 L540.4 2321.2 L540.9 2324.3 L541.5 2327.1 L542.1 2330.0 L542.6 2332.3 L543.2 2335.0 L543.7 2338.1 L544.3 2340.0 L544.8 2342.3 L545.4 2345.0 L545.9 2347.0 L546.5 2349.2 L547.0 2351.3 L547.6 2353.6 L548.1 2355.8 L548.7 2357.3 L549.2 2359.5 L549.8 2361.5 L550.3 2363.8 L550.9 2366.2 L551.4 2367.9 L552.0 2370.2 L552.5 2372.7 L553.1 2374.5 L553.6 2376.5 L554.2 2378.5 L554.7 2381.1 L555.3 2383.0 L555.9 2384.1 L556.4 2385.5 L557.0 2387.1 L557.5 2389.2 L558.1 2391.1 L558.6 2392.6 L559.2 2393.9 L559.7 2395.1 L560.3 2395.8 L560.8 2396.6 L561.4 2395.5 L561.9 2393.9 L562.5 2392.4 L563.0 2390.8 L563.6 2389.3" fill="none" stroke="#4577b6" stroke-width="3.00" stroke-linejoin="round" stroke-linecap="round"/>
<path d="M127.5 2278.3 L129.7 2278.3 L131.9 2278.4 L134.2 2278.5 L136.4 2278.6 L138.6 2278.8 L140.8 2279.1 L143.0 2279.6 L145.3 2280.2 L147.5 2280.9 L149.7 2281.7 L151.9 2282.4 L154.1 2282.9 L156.3 2283.4 L158.6 2283.8 L160.8 2284.2 L163.0 2284.6 L165.2 2285.0 L167.4 2285.4 L169.7 2285.6 L171.9 2285.9 L174.1 2286.0 L176.3 2286.0 L178.5 2286.0 L180.8 2285.8 L183.0 2285.7 L185.2 2285.5 L187.4 2285.2 L189.6 2284.9 L191.9 2284.7 L194.1 2284.4 L196.3 2284.1 L198.5 2283.8 L200.7 2283.5 L202.9 2283.1 L205.2 2282.7 L207.4 2282.2 L209.6 2281.8 L211.8 2281.4 L214.0 2281.1 L216.3 2280.8 L218.5 2280.6 L220.7 2280.4 L222.9 2280.1 L225.1 2279.9 L227.4 2279.8 L229.6 2279.6 L231.8 2279.4 L234.0 2279.3 L236.2 2279.3 L238.5 2279.3 L240.7 2279.3 L242.9 2279.4 L245.1 2279.6 L247.3 2279.8 L249.6 2280.1 L251.8 2280.4 L254.0 2280.6 L256.2 2280.9 L258.4 2281.2 L260.6 2281.4 L262.9 2281.8 L265.1 2282.2 L267.3 2282.6 L269.5 2283.0 L271.7 2283.4 L274.0 2283.8 L276.2 2284.2 L278.4 2284.5 L280.6 2284.7 L282.8 2284.9 L285.1 2285.0 L287.3 2285.0 L289.5 2285.0 L291.7 2284.9 L293.9 2284.8 L296.2 2284.6 L298.4 2284.4 L300.6 2284.2 L302.8 2284.0 L305.0 2283.8 L307.2 2283.6 L309.5 2283.3 L311.7 2283.0 L313.9 2282.7 L316.1 2282.3 L318.3 2281.9 L320.6 2281.6 L322.8 2281.2 L325.0 2281.0 L327.2 2280.7 L329.4 2280.6 L331.7 2280.4 L333.9 2280.3 L336.1 2280.2 L338.3 2280.0 L340.5 2279.9 L342.8 2279.8 L345.0 2279.8 L347.2 2279.8 L349.4 2279.8 L351.6 2279.8 L353.8 2279.9 L356.1 2280.0 L358.3 2280.2 L360.5 2280.4 L362.7 2280.6 L364.9 2280.8 L367.2 2281.0 L369.4 2281.2 L371.6 2281.5 L373.8 2281.8 L376.0 2282.1 L378.3 2282.4 L380.5 2282.8 L382.7 2283.2 L384.9 2283.5 L387.1 2283.8 L389.4 2284.1 L391.6 2284.3 L393.8 2284.5 L396.0 2284.6 L398.2 2284.6 L400.4 2284.5 L402.7 2284.4 L404.9 2284.2 L407.1 2284.1 L409.3 2283.9 L411.5 2283.7 L413.8 2283.4 L416.0 2283.2 L418.2 2283.0 L420.4 2282.8 L422.6 2282.5 L424.9 2282.2 L427.1 2281.9 L429.3 2281.6 L431.5 2281.3 L433.7 2281.0 L436.0 2280.8 L438.2 2280.7 L440.4 2280.6 L442.6 2280.5 L444.8 2280.5 L447.0 2280.4 L449.3 2280.3 L451.5 2280.3 L453.7 2280.3 L455.9 2280.2 L458.1 2280.2 L460.4 2280.2 L462.6 2280.3 L464.8 2280.4 L467.0 2280.6 L469.2 2280.8 L471.5 2281.0 L473.7 2281.2 L475.9 2281.4 L478.1 2281.6 L480.3 2281.8 L482.6 2282.0 L484.8 2282.2 L487.0 2282.5 L489.2 2282.8 L491.4 2283.0 L493.7 2283.3 L495.9 2283.5 L498.1 2283.6 L500.3 2283.6 L502.5 2283.6 L504.7 2283.5 L507.0 2283.4 L509.2 2283.2 L511.4 2283.0 L513.6 2282.8 L515.8 2282.6 L518.1 2282.4 L520.3 2282.2 L522.5 2282.0 L524.7 2281.8 L526.9 2281.5 L529.2 2281.2 L531.4 2281.0 L533.6 2280.7 L535.8 2280.5 L538.0 2280.3 L540.3 2280.2 L542.5 2280.2 L544.7 2280.2 L546.9 2280.2 L549.1 2280.2 L551.3 2280.2 L553.6 2280.2 L555.8 2280.2 L558.0 2280.2 L560.2 2280.2 L562.4 2280.2 L564.7 2280.2 L566.9 2280.2 L569.1 2280.2" fill="none" stroke="#be4b48" stroke-width="2.30" stroke-linejoin="round" stroke-linecap="round"/>
<text x="720.7" y="2046.5" font-family="'Liberation Sans', 'DejaVu Sans', sans-serif" font-size="33.00" text-anchor="start" font-weight="bold" stroke="#000" stroke-width="0.35">I</text>
<text x="971.0" y="2065.0" font-family="'Liberation Sans', 'DejaVu Sans', sans-serif" font-size="44.00" text-anchor="start" font-weight="bold" textLength="186.5" lengthAdjust="spacingAndGlyphs">Section 8</text>
<text x="1068.4" y="2109.0" font-family="'Liberation Serif', 'DejaVu Serif', serif" font-size="19.20" text-anchor="middle" font-weight="bold">3<tspan font-size="12.6" dy="-6.2">rd</tspan><tspan dy="6.2"> tear</tspan></text>
<path d="M834.2 2144.5 V2421.0 H1309.5" fill="none" stroke="#8e8e8e" stroke-width="1.6"/>
<text x="817.0" y="2427.4" font-family="'Liberation Serif', 'DejaVu Serif', serif" font-size="19.20" text-anchor="end">85</text>
<text x="817.0" y="2387.9" font-family="'Liberation Serif', 'DejaVu Serif', serif" font-size="19.20" text-anchor="end">90</text>
<text x="817.0" y="2348.4" font-family="'Liberation Serif', 'DejaVu Serif', serif" font-size="19.20" text-anchor="end">95</text>
<text x="817.0" y="2308.9" font-family="'Liberation Serif', 'DejaVu Serif', serif" font-size="19.20" text-anchor="end">100</text>
<text x="817.0" y="2269.4" font-family="'Liberation Serif', 'DejaVu Serif', serif" font-size="19.20" text-anchor="end">105</text>
<text x="817.0" y="2229.9" font-family="'Liberation Serif', 'DejaVu Serif', serif" font-size="19.20" text-anchor="end">110</text>
<text x="817.0" y="2190.4" font-family="'Liberation Serif', 'DejaVu Serif', serif" font-size="19.20" text-anchor="end">115</text>
<text x="817.0" y="2150.9" font-family="'Liberation Serif', 'DejaVu Serif', serif" font-size="19.20" text-anchor="end">120</text>
<text x="834.2" y="2449.8" font-family="'Liberation Serif', 'DejaVu Serif', serif" font-size="19.20" text-anchor="middle">0</text>
<text x="970.0" y="2449.8" font-family="'Liberation Serif', 'DejaVu Serif', serif" font-size="19.20" text-anchor="middle">1</text>
<text x="1105.8" y="2449.8" font-family="'Liberation Serif', 'DejaVu Serif', serif" font-size="19.20" text-anchor="middle">2</text>
<text x="1241.6" y="2449.8" font-family="'Liberation Serif', 'DejaVu Serif', serif" font-size="19.20" text-anchor="middle">3</text>
<text x="1072.4" y="2474.9" font-family="'Liberation Serif', 'DejaVu Serif', serif" font-size="19.20" text-anchor="middle" font-weight="bold">Time (Sec)</text>
<text transform="translate(772.0 2306.7) rotate(-90)" font-family="'Liberation Serif', 'DejaVu Serif', serif" font-size="19.20" font-weight="bold" text-anchor="middle">Pressure (mmHg)</text>
<path d="M1248.7 2260.6 H1287.9" stroke="#456fa6" stroke-width="2.1"/>
<path d="M1248.7 2294.0 H1287.9" stroke="#b0484c" stroke-width="2.1"/>
<text x="1291.3" y="2267.1" font-family="'Liberation Serif', 'DejaVu Serif', serif" font-size="19.20" text-anchor="start">Pressure</text>
<text x="1291.3" y="2300.5" font-family="'Liberation Serif', 'DejaVu Serif', serif" font-size="19.20" text-anchor="start">Mean pressure</text>
<path d="M834.2 2377.6 L834.7 2379.6 L835.3 2381.7 L835.8 2383.7 L836.4 2385.8 L836.9 2387.8 L837.5 2389.9 L838.0 2392.0 L838.5 2394.1 L839.1 2395.9 L839.6 2396.8 L840.2 2397.6 L840.7 2398.5 L841.3 2398.1 L841.8 2397.8 L842.3 2397.1 L842.9 2395.9 L843.4 2395.1 L844.0 2393.9 L844.5 2392.3 L845.1 2390.7 L845.6 2388.4 L846.2 2386.4 L846.7 2384.5 L847.2 2382.2 L847.8 2380.0 L848.3 2378.0 L848.9 2375.7 L849.4 2372.9 L850.0 2369.8 L850.5 2367.0 L851.0 2364.8 L851.6 2361.7 L852.1 2358.1 L852.7 2355.4 L853.2 2352.6 L853.8 2349.3 L854.3 2346.3 L854.8 2343.0 L855.4 2339.3 L855.9 2336.1 L856.5 2333.3 L857.0 2329.7 L857.6 2324.8 L858.1 2320.6 L858.6 2317.6 L859.2 2315.0 L859.7 2311.1 L860.3 2307.4 L860.8 2304.6 L861.4 2301.3 L861.9 2298.9 L862.4 2296.9 L863.0 2294.8 L863.5 2284.3 L864.1 2289.9 L864.6 2287.0 L865.2 2284.3 L865.7 2281.8 L866.2 2279.6 L866.8 2278.1 L867.3 2276.4 L867.9 2274.2 L868.4 2272.3 L869.0 2270.1 L869.5 2267.4 L870.1 2267.5 L870.6 2267.0 L871.1 2263.9 L871.7 2261.5 L872.2 2258.7 L872.8 2257.9 L873.3 2258.2 L873.9 2256.4 L874.4 2255.1 L874.9 2252.8 L875.5 2252.1 L876.0 2253.8 L876.6 2251.8 L877.1 2249.4 L877.7 2251.2 L878.2 2251.5 L878.7 2250.0 L879.3 2249.0 L879.8 2247.7 L880.4 2247.6 L880.9 2248.4 L881.5 2248.7 L882.0 2248.2 L882.5 2247.3 L883.1 2246.7 L883.6 2248.7 L884.2 2249.9 L884.7 2247.8 L885.3 2245.9 L885.8 2245.7 L886.3 2249.2 L886.9 2251.8 L887.4 2249.7 L888.0 2248.3 L888.5 2249.0 L889.1 2247.8 L889.6 2249.0 L890.1 2249.9 L890.7 2249.3 L891.2 2251.0 L891.8 2253.0 L892.3 2253.7 L892.9 2251.1 L893.4 2250.4 L894.0 2251.2 L894.5 2251.0 L895.0 2252.0 L895.6 2252.0 L896.1 2251.8 L896.7 2252.9 L897.2 2253.6 L897.8 2254.2 L898.3 2254.0 L898.8 2253.9 L899.4 2253.6 L899.9 2254.0 L900.5 2255.9 L901.0 2257.4 L901.6 2256.6 L902.1 2254.0 L902.6 2255.3 L903.2 2259.5 L903.7 2259.7 L904.3 2259.6 L904.8 2260.8 L905.4 2261.2 L905.9 2262.3 L906.4 2263.4 L907.0 2265.1 L907.5 2265.4 L908.1 2266.5 L908.6 2267.5 L909.2 2268.8 L909.7 2270.7 L910.2 2272.1 L910.8 2273.1 L911.3 2274.7 L911.9 2277.4 L912.4 2278.3 L913.0 2279.6 L913.5 2282.1 L914.1 2284.8 L914.6 2286.9 L915.1 2288.3 L915.7 2290.1 L916.2 2292.8 L916.8 2295.0 L917.3 2297.7 L917.9 2300.1 L918.4 2302.1 L918.9 2304.3 L919.5 2306.6 L920.0 2308.6 L920.6 2310.9 L921.1 2314.1 L921.7 2317.4 L922.2 2320.4 L922.7 2321.8 L923.3 2324.0 L923.8 2326.2 L924.4 2328.5 L924.9 2330.9 L925.5 2333.1 L926.0 2335.4 L926.5 2337.2 L927.1 2339.2 L927.6 2341.8 L928.2 2344.4 L928.7 2346.2 L929.3 2347.9 L929.8 2349.9 L930.3 2352.3 L930.9 2354.3 L931.4 2356.0 L932.0 2358.5 L932.5 2360.5 L933.1 2362.0 L933.6 2363.8 L934.1 2365.9 L934.7 2367.8 L935.2 2369.8 L935.8 2371.3 L936.3 2372.9 L936.9 2375.1 L937.4 2377.0 L938.0 2378.4 L938.5 2379.6 L939.0 2380.8 L939.6 2382.8 L940.1 2384.2 L940.7 2384.7 L941.2 2386.3 L941.8 2387.6 L942.3 2388.9 L942.8 2390.4 L943.4 2391.4 L943.9 2392.0 L944.5 2392.6 L945.0 2393.6 L945.6 2395.0 L946.1 2396.0 L946.6 2396.7 L947.2 2397.4 L947.7 2396.8 L948.3 2395.8 L948.8 2395.1 L949.4 2394.4 L949.9 2393.3 L950.4 2392.3 L951.0 2390.3 L951.5 2388.2 L952.1 2386.3 L952.6 2384.2 L953.2 2382.8 L953.7 2381.1 L954.2 2378.4 L954.8 2375.6 L955.3 2373.1 L955.9 2370.7 L956.4 2367.9 L957.0 2365.4 L957.5 2362.8 L958.0 2359.9 L958.6 2356.6 L959.1 2353.2 L959.7 2350.3 L960.2 2347.5 L960.8 2345.2 L961.3 2342.0 L961.9 2337.9 L962.4 2334.1 L962.9 2330.3 L963.5 2326.4 L964.0 2323.2 L964.6 2319.8 L965.1 2316.8 L965.7 2313.5 L966.2 2310.5 L966.7 2307.5 L967.3 2304.8 L967.8 2302.1 L968.4 2297.8 L968.9 2295.4 L969.5 2293.2 L970.0 2290.1 L970.5 2289.3 L971.1 2288.4 L971.6 2284.8 L972.2 2282.2 L972.7 2280.3 L973.3 2276.2 L973.8 2272.9 L974.3 2272.1 L974.9 2271.6 L975.4 2269.8 L976.0 2267.3 L976.5 2265.9 L977.1 2263.3 L977.6 2262.8 L978.1 2261.3 L978.7 2258.8 L979.2 2257.6 L979.8 2256.1 L980.3 2256.4 L980.9 2255.9 L981.4 2254.3 L982.0 2252.6 L982.5 2249.6 L983.0 2247.7 L983.6 2249.5 L984.1 2251.2 L984.7 2250.5 L985.2 2248.5 L985.8 2249.6 L986.3 2249.8 L986.8 2246.8 L987.4 2246.9 L987.9 2249.2 L988.5 2247.9 L989.0 2245.1 L989.6 2245.9 L990.1 2247.3 L990.6 2246.2 L991.2 2246.0 L991.7 2247.8 L992.3 2248.7 L992.8 2248.4 L993.4 2248.4 L993.9 2247.5 L994.4 2248.7 L995.0 2249.6 L995.5 2249.2 L996.1 2251.6 L996.6 2251.1 L997.2 2249.6 L997.7 2251.5 L998.2 2253.4 L998.8 2251.8 L999.3 2249.2 L999.9 2250.2 L1000.4 2251.9 L1001.0 2251.7 L1001.5 2252.2 L1002.0 2253.4 L1002.6 2252.4 L1003.1 2253.1 L1003.7 2253.2 L1004.2 2252.3 L1004.8 2252.4 L1005.3 2254.4 L1005.9 2254.7 L1006.4 2253.6 L1006.9 2254.5 L1007.5 2255.5 L1008.0 2257.2 L1008.6 2256.3 L1009.1 2255.9 L1009.7 2257.2 L1010.2 2258.1 L1010.7 2259.0 L1011.3 2261.7 L1011.8 2263.4 L1012.4 2263.6 L1012.9 2263.0 L1013.5 2262.8 L1014.0 2265.8 L1014.5 2268.6 L1015.1 2268.7 L1015.6 2268.5 L1016.2 2269.4 L1016.7 2271.8 L1017.3 2273.2 L1017.8 2274.0 L1018.3 2276.0 L1018.9 2277.8 L1019.4 2280.7 L1020.0 2283.2 L1020.5 2284.3 L1021.1 2287.6 L1021.6 2289.9 L1022.1 2290.1 L1022.7 2293.1 L1023.2 2295.2 L1023.8 2297.2 L1024.3 2300.4 L1024.9 2302.8 L1025.4 2304.5 L1025.9 2306.9 L1026.5 2309.9 L1027.0 2312.2 L1027.6 2314.2 L1028.1 2316.5 L1028.7 2319.2 L1029.2 2321.5 L1029.8 2324.2 L1030.3 2327.1 L1030.8 2329.5 L1031.4 2331.7 L1031.9 2333.4 L1032.5 2335.6 L1033.0 2338.2 L1033.6 2340.1 L1034.1 2348.6 L1034.6 2345.0 L1035.2 2347.4 L1035.7 2348.9 L1036.3 2350.0 L1036.8 2352.3 L1037.4 2354.4 L1037.9 2356.7 L1038.4 2359.1 L1039.0 2361.0 L1039.5 2362.6 L1040.1 2364.4 L1040.6 2366.4 L1041.2 2368.4 L1041.7 2370.6 L1042.2 2372.0 L1042.8 2373.3 L1043.3 2374.9 L1043.9 2376.7 L1044.4 2378.3 L1045.0 2380.0 L1045.5 2381.8 L1046.0 2382.8 L1046.6 2384.2 L1047.1 2385.9 L1047.7 2387.3 L1048.2 2387.8 L1048.8 2388.9 L1049.3 2390.4 L1049.9 2391.4 L1050.4 2391.9 L1050.9 2392.8 L1051.5 2394.1 L1052.0 2394.6 L1052.6 2395.6 L1053.1 2396.5 L1053.7 2397.7 L1054.2 2397.0 L1054.7 2395.3 L1055.3 2394.5 L1055.8 2393.5 L1056.4 2392.3 L1056.9 2391.1 L1057.5 2389.7 L1058.0 2388.2 L1058.5 2386.0 L1059.1 2383.6 L1059.6 2381.9 L1060.2 2380.4 L1060.7 2377.8 L1061.3 2375.1 L1061.8 2372.3 L1062.3 2369.2 L1062.9 2366.7 L1063.4 2363.8 L1064.0 2360.5 L1064.5 2358.0 L1065.1 2355.6 L1065.6 2352.2 L1066.1 2348.2 L1066.7 2345.4 L1067.2 2342.5 L1067.8 2339.3 L1068.3 2336.5 L1068.9 2333.0 L1069.4 2329.3 L1069.9 2325.8 L1070.5 2322.0 L1071.0 2318.2 L1071.6 2314.3 L1072.1 2310.3 L1072.7 2307.4 L1073.2 2304.6 L1073.8 2301.8 L1074.3 2299.4 L1074.8 2296.4 L1075.4 2293.9 L1075.9 2291.4 L1076.5 2288.8 L1077.0 2286.8 L1077.6 2284.6 L1078.1 2281.0 L1078.6 2278.3 L1079.2 2277.2 L1079.7 2275.2 L1080.3 2273.4 L1080.8 2271.8 L1081.4 2269.7 L1081.9 2268.5 L1082.4 2266.6 L1083.0 2263.4 L1083.5 2261.3 L1084.1 2260.1 L1084.6 2257.9 L1085.2 2256.9 L1085.7 2255.5 L1086.2 2253.0 L1086.8 2252.5 L1087.3 2251.1 L1087.9 2251.0 L1088.4 2251.1 L1089.0 2249.7 L1089.5 2249.8 L1090.0 2249.3 L1090.6 2247.7 L1091.1 2246.5 L1091.7 2245.8 L1092.2 2246.3 L1092.8 2246.6 L1093.3 2245.8 L1093.8 2245.9 L1094.4 2245.6 L1094.9 2246.7 L1095.5 2247.7 L1096.0 2246.3 L1096.6 2245.7 L1097.1 2244.8 L1097.7 2245.2 L1098.2 2244.4 L1098.7 2245.4 L1099.3 2238.4 L1099.8 2245.3 L1100.4 2248.1 L1100.9 2248.2 L1101.5 2248.1 L1102.0 2248.0 L1102.5 2248.2 L1103.1 2247.9 L1103.6 2247.2 L1104.2 2248.7 L1104.7 2248.6 L1105.3 2247.8 L1105.8 2249.0 L1106.3 2248.8 L1106.9 2249.1 L1107.4 2248.9 L1108.0 2250.0 L1108.5 2250.4 L1109.1 2250.0 L1109.6 2250.6 L1110.1 2250.8 L1110.7 2250.3 L1111.2 2257.9 L1111.8 2251.0 L1112.3 2244.5 L1112.9 2254.5 L1113.4 2253.8 L1113.9 2252.0 L1114.5 2252.5 L1115.0 2255.4 L1115.6 2255.1 L1116.1 2255.3 L1116.7 2256.9 L1117.2 2258.2 L1117.8 2260.3 L1118.3 2260.6 L1118.8 2262.9 L1119.4 2264.8 L1119.9 2264.3 L1120.5 2264.9 L1121.0 2266.7 L1121.6 2266.8 L1122.1 2267.2 L1122.6 2269.3 L1123.2 2271.7 L1123.7 2273.2 L1124.3 2273.4 L1124.8 2274.7 L1125.4 2276.7 L1125.9 2279.1 L1126.4 2281.6 L1127.0 2283.5 L1127.5 2285.2 L1128.1 2287.6 L1128.6 2290.2 L1129.2 2292.0 L1129.7 2294.2 L1130.2 2296.6 L1130.8 2298.8 L1131.3 2301.7 L1131.9 2303.7 L1132.4 2305.6 L1133.0 2309.1 L1133.5 2312.2 L1134.0 2314.6 L1134.6 2317.0 L1135.1 2319.7 L1135.7 2321.8 L1136.2 2324.0 L1136.8 2326.6 L1137.3 2328.4 L1137.8 2330.5 L1138.4 2333.1 L1138.9 2335.6 L1139.5 2338.2 L1140.0 2340.3 L1140.6 2341.9 L1141.1 2343.6 L1141.7 2346.0 L1142.2 2348.4 L1142.7 2350.3 L1143.3 2352.5 L1143.8 2354.6 L1144.4 2356.2 L1144.9 2358.4 L1145.5 2360.5 L1146.0 2362.3 L1146.5 2364.4 L1147.1 2366.3 L1147.6 2368.1 L1148.2 2369.7 L1148.7 2371.5 L1149.3 2373.8 L1149.8 2375.5 L1150.3 2376.4 L1150.9 2378.3 L1151.4 2380.4 L1152.0 2381.8 L1152.5 2382.7 L1153.1 2384.4 L1153.6 2385.8 L1154.1 2386.9 L1154.7 2388.3 L1155.2 2389.4 L1155.8 2390.5 L1156.3 2391.9 L1156.9 2392.8 L1157.4 2393.2 L1157.9 2394.0 L1158.5 2395.1 L1159.0 2396.2 L1159.6 2397.2 L1160.1 2397.7 L1160.7 2396.8 L1161.2 2395.5 L1161.7 2394.7 L1162.3 2393.7 L1162.8 2392.7 L1163.4 2391.5 L1163.9 2389.4 L1164.5 2387.6 L1165.0 2385.7 L1165.6 2383.2 L1166.1 2381.7 L1166.6 2380.1 L1167.2 2377.2 L1167.7 2374.3 L1168.3 2371.7 L1168.8 2368.9 L1169.4 2366.6 L1169.9 2363.7 L1170.4 2360.4 L1171.0 2357.6 L1171.5 2354.9 L1172.1 2352.3 L1172.6 2349.5 L1173.2 2346.8 L1173.7 2343.6 L1174.2 2340.0 L1174.8 2336.3 L1175.3 2332.7 L1175.9 2329.7 L1176.4 2325.9 L1177.0 2322.4 L1177.5 2319.1 L1178.0 2314.8 L1178.6 2312.0 L1179.1 2309.6 L1179.7 2306.2 L1180.2 2302.4 L1180.8 2299.7 L1181.3 2297.8 L1181.8 2295.0 L1182.4 2293.0 L1182.9 2291.4 L1183.5 2287.9 L1184.0 2284.4 L1184.6 2282.2 L1185.1 2280.3 L1185.7 2278.3 L1186.2 2277.3 L1186.7 2276.3 L1187.3 2273.6 L1187.8 2270.5 L1188.4 2268.2 L1188.9 2267.0 L1189.5 2266.1 L1190.0 2264.3 L1190.5 2261.7 L1191.1 2259.8 L1191.6 2258.7 L1192.2 2256.4 L1192.7 2255.9 L1193.3 2255.8 L1193.8 2254.9 L1194.3 2255.7 L1194.9 2253.3 L1195.4 2251.8 L1196.0 2252.2 L1196.5 2251.2 L1197.1 2247.9 L1197.6 2247.9 L1198.1 2249.8 L1198.7 2247.9 L1199.2 2247.7 L1199.8 2246.4 L1200.3 2246.7 L1200.9 2248.7 L1201.4 2246.6 L1201.9 2246.6 L1202.5 2247.9 L1203.0 2249.0 L1203.6 2248.8 L1204.1 2247.0 L1204.7 2247.3 L1205.2 2249.1 L1205.7 2248.0 L1206.3 2246.7 L1206.8 2247.6 L1207.4 2248.8 L1207.9 2250.3 L1208.5 2249.5 L1209.0 2249.0 L1209.6 2250.6 L1210.1 2251.0 L1210.6 2250.7 L1211.2 2250.2 L1211.7 2250.8 L1212.3 2252.0 L1212.8 2253.1 L1213.4 2253.2 L1213.9 2252.7 L1214.4 2246.1 L1215.0 2252.5 L1215.5 2253.4 L1216.1 2253.7 L1216.6 2253.1 L1217.2 2253.3 L1217.7 2254.2 L1218.2 2254.6 L1218.8 2255.0 L1219.3 2254.9 L1219.9 2254.6 L1220.4 2255.5 L1221.0 2256.6 L1221.5 2256.8 L1222.0 2256.9 L1222.6 2257.2 L1223.1 2259.6 L1223.7 2261.0 L1224.2 2261.5 L1224.8 2262.7 L1225.3 2262.8 L1225.8 2263.0 L1226.4 2265.0 L1226.9 2266.5 L1227.5 2268.7 L1228.0 2270.4 L1228.6 2271.5 L1229.1 2273.3 L1229.6 2274.1 L1230.2 2276.1 L1230.7 2277.1 L1231.3 2278.7 L1231.8 2281.2 L1232.4 2283.0 L1232.9 2284.6 L1233.5 2286.1 L1234.0 2288.1 L1234.5 2290.9 L1235.1 2293.6 L1235.6 2295.1 L1236.2 2296.4 L1236.7 2298.7 L1237.3 2301.5 L1237.8 2303.7 L1238.3 2305.7 L1238.9 2307.9 L1239.4 2310.8 L1240.0 2313.9 L1240.5 2315.8 L1241.1 2318.6 L1241.6 2321.6 L1242.1 2324.1 L1242.7 2326.5 L1243.2 2328.4 L1243.8 2330.5 L1244.3 2333.3 L1244.9 2334.9 L1245.4 2337.0 L1245.9 2339.6 L1246.5 2341.6 L1247.0 2343.8 L1247.6 2345.8 L1248.1 2347.9 L1248.7 2349.9 L1249.2 2351.8 L1249.7 2354.2 L1250.3 2357.0 L1250.8 2359.2 L1251.4 2361.4 L1251.9 2362.9 L1252.5 2364.8 L1253.0 2367.3 L1253.6 2368.7 L1254.1 2370.3 L1254.6 2372.1 L1255.2 2374.4 L1255.7 2376.4 L1256.3 2377.8 L1256.8 2379.0 L1257.4 2380.2 L1257.9 2381.7 L1258.4 2382.9 L1259.0 2383.6 L1259.5 2385.4 L1260.1 2387.4 L1260.6 2388.4 L1261.2 2389.9 L1261.7 2391.5 L1262.2 2392.4 L1262.8 2393.0 L1263.3 2394.1 L1263.9 2395.4 L1264.4 2397.0 L1265.0 2398.0 L1265.5 2396.2 L1266.0 2394.4 L1266.6 2392.6 L1267.1 2390.8 L1267.7 2389.0 L1268.2 2387.2 L1268.8 2385.4" fill="none" stroke="#4577b6" stroke-width="3.00" stroke-linejoin="round" stroke-linecap="round"/>
<path d="M834.2 2315.9 L836.4 2316.2 L838.6 2316.3 L840.8 2316.5 L842.9 2316.6 L845.1 2316.7 L847.3 2316.7 L849.5 2316.7 L851.7 2316.7 L853.9 2316.6 L856.0 2316.4 L858.2 2316.2 L860.4 2315.9 L862.6 2315.5 L864.8 2315.2 L867.0 2314.8 L869.1 2314.4 L871.3 2314.1 L873.5 2313.7 L875.7 2313.5 L877.9 2313.2 L880.1 2312.9 L882.2 2312.6 L884.4 2312.3 L886.6 2312.1 L888.8 2311.8 L891.0 2311.6 L893.2 2311.4 L895.3 2311.2 L897.5 2311.0 L899.7 2310.8 L901.9 2310.7 L904.1 2310.5 L906.3 2310.4 L908.4 2310.4 L910.6 2310.4 L912.8 2310.5 L915.0 2310.6 L917.2 2310.8 L919.4 2311.0 L921.5 2311.2 L923.7 2311.4 L925.9 2311.6 L928.1 2311.9 L930.3 2312.1 L932.5 2312.4 L934.7 2312.7 L936.8 2313.1 L939.0 2313.5 L941.2 2314.0 L943.4 2314.4 L945.6 2314.8 L947.8 2315.2 L949.9 2315.5 L952.1 2315.7 L954.3 2315.9 L956.5 2315.9 L958.7 2315.9 L960.9 2315.8 L963.0 2315.7 L965.2 2315.5 L967.4 2315.3 L969.6 2315.1 L971.8 2314.9 L974.0 2314.6 L976.1 2314.4 L978.3 2314.2 L980.5 2313.9 L982.7 2313.6 L984.9 2313.3 L987.1 2312.9 L989.2 2312.6 L991.4 2312.2 L993.6 2312.0 L995.8 2311.7 L998.0 2311.5 L1000.2 2311.3 L1002.3 2311.2 L1004.5 2311.0 L1006.7 2310.8 L1008.9 2310.7 L1011.1 2310.6 L1013.3 2310.5 L1015.4 2310.4 L1017.6 2310.4 L1019.8 2310.4 L1022.0 2310.5 L1024.2 2310.7 L1026.4 2310.8 L1028.6 2311.0 L1030.7 2311.3 L1032.9 2311.5 L1035.1 2311.7 L1037.3 2311.9 L1039.5 2312.1 L1041.7 2312.4 L1043.8 2312.7 L1046.0 2313.0 L1048.2 2313.4 L1050.4 2313.7 L1052.6 2314.0 L1054.8 2314.3 L1056.9 2314.6 L1059.1 2314.8 L1061.3 2315.0 L1063.5 2315.1 L1065.7 2315.1 L1067.9 2315.1 L1070.0 2315.0 L1072.2 2314.8 L1074.4 2314.7 L1076.6 2314.5 L1078.8 2314.2 L1081.0 2314.0 L1083.1 2313.8 L1085.3 2313.6 L1087.5 2313.3 L1089.7 2313.1 L1091.9 2312.8 L1094.1 2312.5 L1096.2 2312.2 L1098.4 2311.9 L1100.6 2311.6 L1102.8 2311.4 L1105.0 2311.2 L1107.2 2311.1 L1109.3 2311.0 L1111.5 2310.9 L1113.7 2310.8 L1115.9 2310.7 L1118.1 2310.6 L1120.3 2310.5 L1122.5 2310.4 L1124.6 2310.4 L1126.8 2310.4 L1129.0 2310.5 L1131.2 2310.6 L1133.4 2310.7 L1135.6 2310.9 L1137.7 2311.1 L1139.9 2311.3 L1142.1 2311.6 L1144.3 2311.8 L1146.5 2312.0 L1148.7 2312.2 L1150.8 2312.4 L1153.0 2312.6 L1155.2 2312.9 L1157.4 2313.1 L1159.6 2313.4 L1161.8 2313.6 L1163.9 2313.8 L1166.1 2314.0 L1168.3 2314.2 L1170.5 2314.3 L1172.7 2314.3 L1174.9 2314.3 L1177.0 2314.3 L1179.2 2314.2 L1181.4 2314.0 L1183.6 2313.8 L1185.8 2313.6 L1188.0 2313.4 L1190.1 2313.1 L1192.3 2312.9 L1194.5 2312.7 L1196.7 2312.5 L1198.9 2312.3 L1201.1 2312.0 L1203.2 2311.8 L1205.4 2311.5 L1207.6 2311.3 L1209.8 2311.1 L1212.0 2310.9 L1214.2 2310.8 L1216.4 2310.7 L1218.5 2310.6 L1220.7 2310.6 L1222.9 2310.5 L1225.1 2310.5 L1227.3 2310.4 L1229.5 2310.4 L1231.6 2310.4 L1233.8 2310.5 L1236.0 2310.6 L1238.2 2310.7 L1240.4 2310.9 L1242.6 2311.1 L1244.7 2311.3 L1246.9 2311.5 L1249.1 2311.6 L1251.3 2311.8 L1253.5 2312.0 L1255.7 2312.2 L1257.8 2312.4 L1260.0 2312.6 L1262.2 2312.9 L1264.4 2313.1 L1266.6 2313.3 L1268.8 2313.6" fill="none" stroke="#be4b48" stroke-width="2.30" stroke-linejoin="round" stroke-linecap="round"/>
</svg></body></html>
